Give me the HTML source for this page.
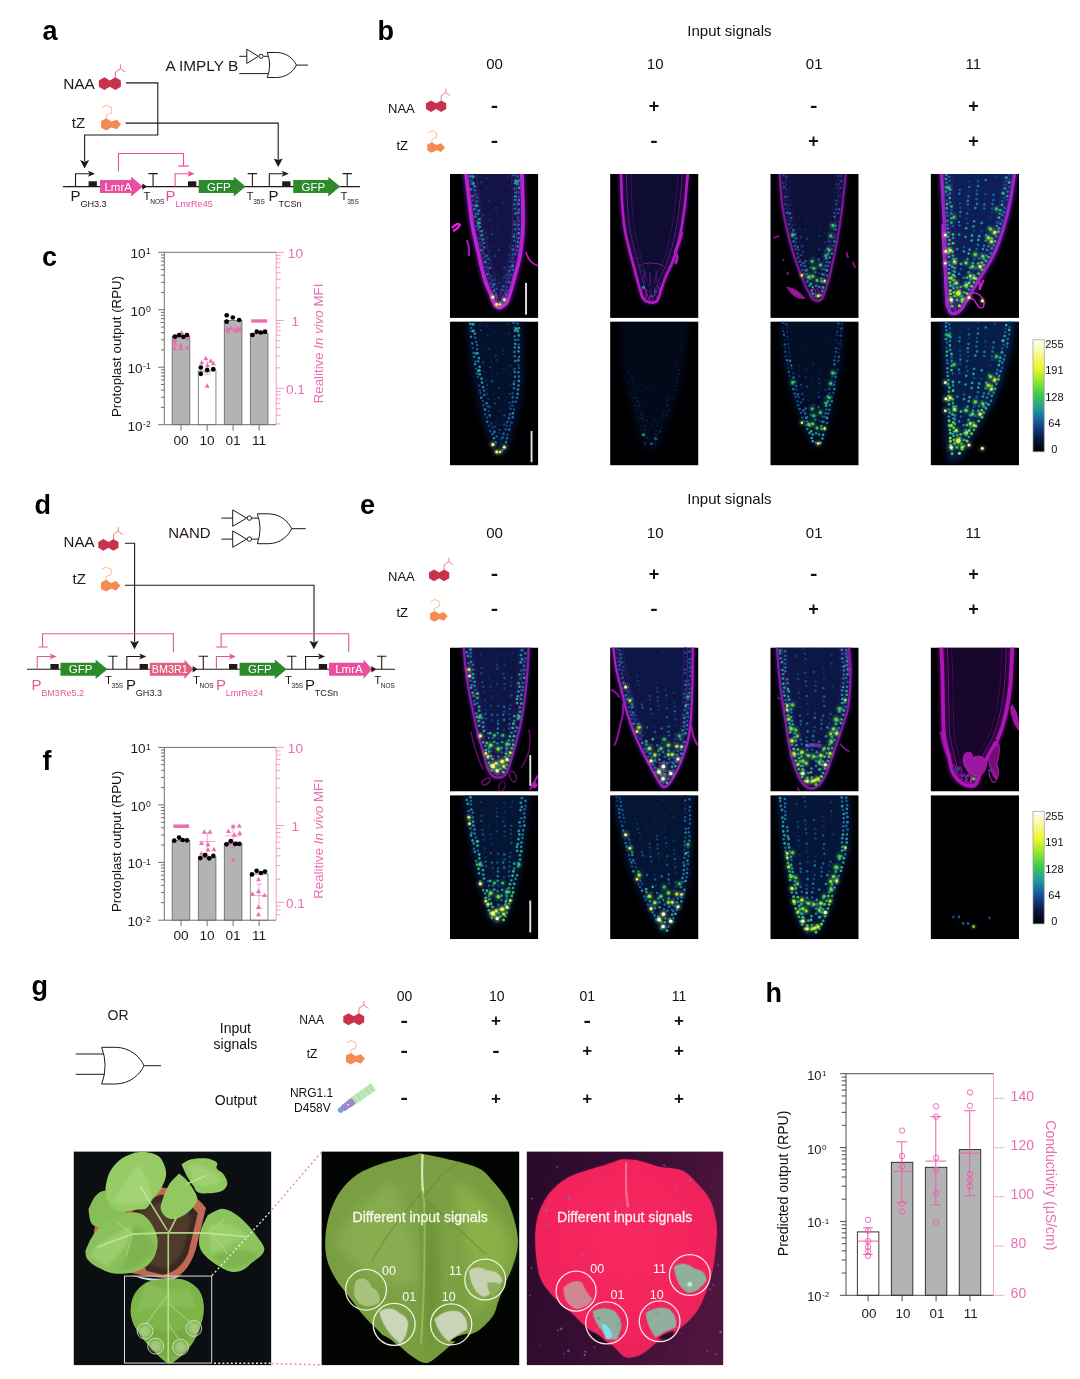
<!DOCTYPE html>
<html lang="en"><head><meta charset="utf-8"><title>Figure</title>
<style>
html,body{margin:0;padding:0;background:#fff;}
body{width:1080px;height:1379px;overflow:hidden;}
svg{display:block;font-family:"Liberation Sans",sans-serif;}
.pl{font-weight:bold;font-size:27px;fill:#000;}
</style></head><body>
<svg width="1080" height="1379" viewBox="0 0 1080 1379">
<g id="panel-a">
<text x="42.6" y="40" class="pl">a</text>
<text x="63.2" y="89.3" font-size="15.4" fill="#231815" text-anchor="start" font-weight="normal" >NAA</text>
<path d="M98.85 80.50L104.35 77.30L109.85 80.50L115.35 77.30L120.85 80.50L120.85 86.70L115.35 89.90L109.85 86.70L104.35 89.90L98.85 86.70Z" fill="#c8324b"/><path d="M115.35 77.60v-5.60l5.10 -3.30v-4.30m0 4.30l4.90 3.50" fill="none" stroke="#d8627a" stroke-width="0.85"/>
<text x="71.8" y="127.6" font-size="15" fill="#231815" text-anchor="start" font-weight="normal" >tZ</text>
<path d="M101.10 121.08L106.30 118.30L111.40 121.57L116.70 119.63L121.10 124.23L116.70 129.31L111.40 127.50L106.30 130.40L101.10 127.74Z" fill="#f58a52"/><path d="M106.30 118.60v-3.50l5.30 -2.10v-5.40l-5.10 -2.40l-4.50 2.40" fill="none" stroke="#f7a97c" stroke-width="0.85"/>
<text x="165.4" y="71.2" font-size="15.35" fill="#231815" text-anchor="start" font-weight="normal" >A IMPLY B</text>
<path d="M239.2 56.3H246.8M263.6 56.3H268.5M239.2 73.6H269M296.4 65.1H308" fill="none" stroke="#231815" stroke-width="1.0" />
<path d="M246.8 49.199999999999996L258.4 56.3L246.8 63.4Z" fill="#fff" stroke="#231815" stroke-width="1.0"/><circle cx="261.1" cy="56.3" r="2.1" fill="#fff" stroke="#231815" stroke-width="1.0"/>
<path d="M267.3 52.5H276.612C287.08799999999997 52.5 294.072 59.5 296.4 65.0C294.072 70.5 287.08799999999997 77.5 276.612 77.5H267.3Q271.956 65.0 267.3 52.5Z" fill="#fff" stroke="#231815" stroke-width="1.0"/>
<path d="M126 82.9H157.8V135H84.6V161" fill="none" stroke="#231815" stroke-width="1.1" />
<path d="M80.1 160.1L84.6 168.5L89.1 160.1L84.6 161.7Z" fill="#231815"/>
<path d="M125.5 123.1H278.2V160" fill="none" stroke="#231815" stroke-width="1.1" />
<path d="M273.7 158.5L278.2 166.9L282.7 158.5L278.2 160.1Z" fill="#231815"/>
<path d="M62.9 186.6H360" fill="none" stroke="#231815" stroke-width="1.1" />
<path d="M75.5 186.6V173.79999999999998H89.5" fill="none" stroke="#231815" stroke-width="1.1"/><path d="M88.0 170.79999999999998L95.0 173.79999999999998L88.0 176.79999999999998L89.5 173.79999999999998Z" fill="#231815"/>
<rect x="88.6" y="181.29999999999998" width="8.3" height="5.3" fill="#231815"/>
<path d="M100 180.0H131.1V176.79999999999998L142.9 186.6L131.1 196.4V193.0H100Z" fill="#e8509f"/><text x="118.14999999999999" y="190.7" font-size="11.5" fill="#fff" text-anchor="middle">LmrA</text><path d="M142.3 183.4L147.1 186.6L142.3 189.79999999999998Z" fill="#231815"/>
<path d="M153.1 186.6V173.6M148.4 173.6H157.79999999999998" fill="none" stroke="#231815" stroke-width="1.1"/>
<path d="M118.5 171.6V153.5H183.5V166.1M178.3 166.1H188.8" fill="none" stroke="#e8509f" stroke-width="1.1" />
<path d="M175.1 186.6V173.79999999999998H189.1" fill="none" stroke="#e8509f" stroke-width="1.1"/><path d="M187.6 170.79999999999998L194.6 173.79999999999998L187.6 176.79999999999998L189.1 173.79999999999998Z" fill="#e8509f"/>
<rect x="188" y="181.29999999999998" width="8.3" height="5.3" fill="#231815"/>
<path d="M198.7 180.0H233.79999999999998V176.79999999999998L245.6 186.6L233.79999999999998 196.4V193.0H198.7Z" fill="#2d8a2b"/><text x="218.85" y="190.7" font-size="11.5" fill="#fff" text-anchor="middle">GFP</text>
<path d="M252.4 186.6V173.6M247.70000000000002 173.6H257.1" fill="none" stroke="#231815" stroke-width="1.1"/>
<path d="M269.3 186.6V173.79999999999998H283.3" fill="none" stroke="#231815" stroke-width="1.1"/><path d="M281.8 170.79999999999998L288.8 173.79999999999998L281.8 176.79999999999998L283.3 173.79999999999998Z" fill="#231815"/>
<rect x="282.2" y="181.29999999999998" width="8.3" height="5.3" fill="#231815"/>
<path d="M293.2 180.0H328.3V176.79999999999998L340.1 186.6L328.3 196.4V193.0H293.2Z" fill="#2d8a2b"/><text x="313.35" y="190.7" font-size="11.5" fill="#fff" text-anchor="middle">GFP</text>
<path d="M347.2 186.6V173.6M342.5 173.6H351.9" fill="none" stroke="#231815" stroke-width="1.1"/>
<text x="70.6" y="200.8" font-size="15" fill="#231815">P</text><text x="80.39999999999999" y="206.5" font-size="9.1" fill="#231815">GH3.3</text>
<text x="143.6" y="200.1" font-size="11.4" fill="#231815">T</text><text x="150.2" y="204.2" font-size="6.5" fill="#231815">NOS</text>
<text x="165.6" y="200.8" font-size="15" fill="#e8509f">P</text><text x="175.4" y="206.5" font-size="9.1" fill="#e8509f">LmrRe45</text>
<text x="246.6" y="200.1" font-size="11.4" fill="#231815">T</text><text x="253.2" y="204.2" font-size="6.5" fill="#231815">35S</text>
<text x="268.6" y="200.8" font-size="15" fill="#231815">P</text><text x="278.40000000000003" y="206.5" font-size="9.1" fill="#231815">TCSn</text>
<text x="340.6" y="200.1" font-size="11.4" fill="#231815">T</text><text x="347.2" y="204.2" font-size="6.5" fill="#231815">35S</text>
</g>
<g id="panel-d">
<text x="34.4" y="514" class="pl">d</text>
<text x="63.6" y="546.8" font-size="15" fill="#231815" text-anchor="start" font-weight="normal" >NAA</text>
<path d="M98.30 542.05L103.36 539.10L108.42 542.05L113.48 539.10L118.54 542.05L118.54 547.75L113.48 550.70L108.42 547.75L103.36 550.70L98.30 547.75Z" fill="#c8324b"/><path d="M113.48 539.40v-5.15l4.69 -3.04v-3.96m0 3.96l4.51 3.22" fill="none" stroke="#d8627a" stroke-width="0.78"/>
<text x="72.6" y="584.2" font-size="15" fill="#231815" text-anchor="start" font-weight="normal" >tZ</text>
<path d="M101.00 582.43L106.04 579.73L110.99 582.90L116.13 581.02L120.40 585.48L116.13 590.41L110.99 588.65L106.04 591.47L101.00 588.89Z" fill="#f58a52"/><path d="M106.04 580.03v-3.40l5.14 -2.04v-5.24l-4.95 -2.33l-4.37 2.33" fill="none" stroke="#f7a97c" stroke-width="0.82"/>
<text x="168.2" y="537.6" font-size="15" fill="#231815" text-anchor="start" font-weight="normal" >NAND</text>
<path d="M221.3 518.1H232.7M251.8 518.1H259M221.3 539.1H232.7M251.8 539.1H259M291.6 528.7H305.7" fill="none" stroke="#231815" stroke-width="1.0" />
<path d="M232.7 509.90000000000003L246.6 518.1L232.7 526.3000000000001Z" fill="#fff" stroke="#231815" stroke-width="1.0"/><circle cx="249.39999999999998" cy="518.1" r="2.2" fill="#fff" stroke="#231815" stroke-width="1.0"/>
<path d="M232.7 530.9L246.6 539.1L232.7 547.3000000000001Z" fill="#fff" stroke="#231815" stroke-width="1.0"/><circle cx="249.39999999999998" cy="539.1" r="2.2" fill="#fff" stroke="#231815" stroke-width="1.0"/>
<path d="M257.3 513.8H268.276C280.624 513.8 288.856 522.172 291.6 528.75C288.856 535.328 280.624 543.7 268.276 543.7H257.3Q262.788 528.75 257.3 513.8Z" fill="#fff" stroke="#231815" stroke-width="1.0"/>
<path d="M125 543.3H134.6V642" fill="none" stroke="#231815" stroke-width="1.1" />
<path d="M130.0 640.8L134.5 649.1999999999999L139.0 640.8L134.5 642.4Z" fill="#231815"/>
<path d="M125 585.2H314V642" fill="none" stroke="#231815" stroke-width="1.1" />
<path d="M309.4 640.8L313.9 649.1999999999999L318.4 640.8L313.9 642.4Z" fill="#231815"/>
<path d="M27 669.3H395" fill="none" stroke="#231815" stroke-width="1.1" />
<path d="M38.5 647H47.8M42.5 647V633.8H173.4V652.2" fill="none" stroke="#e2607f" stroke-width="1.1" />
<path d="M37.2 669.3V656.5H51.2" fill="none" stroke="#e2607f" stroke-width="1.1"/><path d="M49.7 653.5L56.7 656.5L49.7 659.5L51.2 656.5Z" fill="#e2607f"/>
<rect x="50.4" y="664.0" width="8.3" height="5.3" fill="#231815"/>
<path d="M60.5 662.6999999999999H95.60000000000001V659.5L107.4 669.3L95.60000000000001 679.0999999999999V675.6999999999999H60.5Z" fill="#2d8a2b"/><text x="80.65" y="673.4" font-size="11.5" fill="#fff" text-anchor="middle">GFP</text>
<path d="M112.9 669.3V656.3M108.2 656.3H117.60000000000001" fill="none" stroke="#231815" stroke-width="1.1"/>
<path d="M126.8 669.3V656.5H140.8" fill="none" stroke="#231815" stroke-width="1.1"/><path d="M139.3 653.5L146.3 656.5L139.3 659.5L140.8 656.5Z" fill="#231815"/>
<rect x="139.6" y="664.0" width="8.3" height="5.3" fill="#231815"/>
<path d="M149.8 662.6999999999999H184.5V659.5L193.3 669.3L184.5 679.0999999999999V675.6999999999999H149.8Z" fill="#e2607f"/><text x="169.75" y="673.4" font-size="10.8" fill="#fff" text-anchor="middle">BM3R1</text><path d="M192.70000000000002 666.0999999999999L197.5 669.3L192.70000000000002 672.5Z" fill="#231815"/>
<path d="M203.3 669.3V656.3M198.60000000000002 656.3H208.0" fill="none" stroke="#231815" stroke-width="1.1"/>
<path d="M216.2 647H227.3M221.1 647V633.8H348.7V652.2" fill="none" stroke="#e8509f" stroke-width="1.1" />
<path d="M216.4 669.3V656.5H230.4" fill="none" stroke="#e8509f" stroke-width="1.1"/><path d="M228.9 653.5L235.9 656.5L228.9 659.5L230.4 656.5Z" fill="#e8509f"/>
<rect x="229" y="664.0" width="8.3" height="5.3" fill="#231815"/>
<path d="M239.6 662.6999999999999H274.8V659.5L286.6 669.3L274.8 679.0999999999999V675.6999999999999H239.6Z" fill="#2d8a2b"/><text x="259.8" y="673.4" font-size="11.5" fill="#fff" text-anchor="middle">GFP</text>
<path d="M291.8 669.3V656.3M287.1 656.3H296.5" fill="none" stroke="#231815" stroke-width="1.1"/>
<path d="M305.6 669.3V656.5H319.6" fill="none" stroke="#231815" stroke-width="1.1"/><path d="M318.1 653.5L325.1 656.5L318.1 659.5L319.6 656.5Z" fill="#231815"/>
<rect x="318.8" y="664.0" width="8.3" height="5.3" fill="#231815"/>
<path d="M329 662.6999999999999H363.6V659.5L372 669.3L363.6 679.0999999999999V675.6999999999999H329Z" fill="#e8509f"/><text x="348.90000000000003" y="673.4" font-size="11.5" fill="#fff" text-anchor="middle">LmrA</text><path d="M371.4 666.0999999999999L376.2 669.3L371.4 672.5Z" fill="#231815"/>
<path d="M381.7 669.3V656.3M377.0 656.3H386.4" fill="none" stroke="#231815" stroke-width="1.1"/>
<text x="31.4" y="689.9" font-size="15" fill="#e2607f">P</text><text x="41.2" y="695.6" font-size="9.1" fill="#e2607f">BM3Re5.2</text>
<text x="105.0" y="684.0" font-size="11.4" fill="#231815">T</text><text x="111.60000000000001" y="688.1" font-size="6.5" fill="#231815">35S</text>
<text x="126" y="689.9" font-size="15" fill="#231815">P</text><text x="135.8" y="695.6" font-size="9.1" fill="#231815">GH3.3</text>
<text x="193.0" y="684.0" font-size="11.4" fill="#231815">T</text><text x="199.6" y="688.1" font-size="6.5" fill="#231815">NOS</text>
<text x="216" y="689.9" font-size="15" fill="#e8509f">P</text><text x="225.8" y="695.6" font-size="9.1" fill="#e8509f">LmrRe24</text>
<text x="285.0" y="684.0" font-size="11.4" fill="#231815">T</text><text x="291.59999999999997" y="688.1" font-size="6.5" fill="#231815">35S</text>
<text x="305" y="689.9" font-size="15" fill="#231815">P</text><text x="314.8" y="695.6" font-size="9.1" fill="#231815">TCSn</text>
<text x="374.20000000000005" y="684.0" font-size="11.4" fill="#231815">T</text><text x="380.8" y="688.1" font-size="6.5" fill="#231815">NOS</text>
</g>
<g id="panel-c">
<text x="42" y="265.5" class="pl">c</text>
<rect x="172.15" y="336.20" width="17.7" height="88.50" fill="#b3b3b3" stroke="#555" stroke-width="0.7"/><rect x="198.25" y="371.00" width="17.7" height="53.70" fill="#fff" stroke="#555" stroke-width="0.7"/><rect x="224.25" y="320.40" width="17.7" height="104.30" fill="#b3b3b3" stroke="#555" stroke-width="0.7"/><rect x="250.25" y="333.30" width="17.7" height="91.40" fill="#b3b3b3" stroke="#555" stroke-width="0.7"/><path d="M158.10000000000002 252.3H276.2" fill="none" stroke="#707070" stroke-width="1.0" /><path d="M164.3 252.3V424.7" fill="none" stroke="#707070" stroke-width="1.0" /><path d="M158.10000000000002 424.7H276.2" fill="none" stroke="#707070" stroke-width="1.0" /><path d="M160.9 292.46H164.3M160.9 282.34H164.3M160.9 275.16H164.3M160.9 269.59H164.3M160.9 265.05H164.3M160.9 261.20H164.3M160.9 257.87H164.3M160.9 254.93H164.3M158.10000000000002 309.75H164.3M160.9 349.91H164.3M160.9 339.79H164.3M160.9 332.61H164.3M160.9 327.04H164.3M160.9 322.50H164.3M160.9 318.65H164.3M160.9 315.32H164.3M160.9 312.38H164.3M158.10000000000002 367.20H164.3M160.9 407.36H164.3M160.9 397.24H164.3M160.9 390.06H164.3M160.9 384.49H164.3M160.9 379.95H164.3M160.9 376.10H164.3M160.9 372.77H164.3M160.9 369.83H164.3" fill="none" stroke="#707070" stroke-width="1.0" /><text x="150.70000000000002" y="258.3" font-size="13.6" fill="#1a1a1a" text-anchor="end">10<tspan dy="-3.9" dx="0.4" font-size="8.6">1</tspan></text><text x="150.70000000000002" y="315.75" font-size="13.6" fill="#1a1a1a" text-anchor="end">10<tspan dy="-3.9" dx="0.4" font-size="8.6">0</tspan></text><text x="150.70000000000002" y="373.20000000000005" font-size="13.6" fill="#1a1a1a" text-anchor="end">10<tspan dy="-3.9" dx="0.4" font-size="8.6">-1</tspan></text><text x="150.70000000000002" y="430.65000000000003" font-size="13.6" fill="#1a1a1a" text-anchor="end">10<tspan dy="-3.9" dx="0.4" font-size="8.6">-2</tspan></text><path d="M181 424.7V430.7M207.1 424.7V430.7M233.1 424.7V430.7M259.1 424.7V430.7" fill="none" stroke="#707070" stroke-width="1.0" /><text x="181" y="444.7" font-size="13.6" fill="#1a1a1a" text-anchor="middle" font-weight="normal" >00</text><text x="207.1" y="444.7" font-size="13.6" fill="#1a1a1a" text-anchor="middle" font-weight="normal" >10</text><text x="233.1" y="444.7" font-size="13.6" fill="#1a1a1a" text-anchor="middle" font-weight="normal" >01</text><text x="259.1" y="444.7" font-size="13.6" fill="#1a1a1a" text-anchor="middle" font-weight="normal" >11</text><path d="M276.2 252.3V424.7" fill="none" stroke="#f08cc0" stroke-width="0.85" /><text x="295.4" y="257.7" font-size="13.6" fill="#ea6fb0" text-anchor="middle" font-weight="normal" >10</text><text x="295.4" y="325.9" font-size="13.6" fill="#ea6fb0" text-anchor="middle" font-weight="normal" >1</text><text x="295.4" y="393.7" font-size="13.6" fill="#ea6fb0" text-anchor="middle" font-weight="normal" >0.1</text><path d="M276.2 252.3H284.2M276.2 320.5H284.2M276.2 388.3H284.2M276.2 299.83H280.5M276.2 287.86H280.5M276.2 279.36H280.5M276.2 272.77H280.5M276.2 267.39H280.5M276.2 262.83H280.5M276.2 258.89H280.5M276.2 255.41H280.5M276.2 367.83H280.5M276.2 355.86H280.5M276.2 347.36H280.5M276.2 340.77H280.5M276.2 335.39H280.5M276.2 330.83H280.5M276.2 326.89H280.5M276.2 323.41H280.5M276.2 423.86H280.5M276.2 415.36H280.5M276.2 408.77H280.5M276.2 403.39H280.5M276.2 398.83H280.5M276.2 394.89H280.5M276.2 391.41H280.5" fill="none" stroke="#f08cc0" stroke-width="0.85" /><text transform="translate(120.6 346.5) rotate(-90)" font-size="13.3" fill="#111" text-anchor="middle">Protoplast output (RPU)</text><text transform="translate(322.8 343.5) rotate(-90)" font-size="13.3" fill="#ea6fb0" text-anchor="middle">Realitive <tspan font-style="italic">In vivo</tspan> MFI</text>
<path d="M172.5 345.3L175.0 340.8L177.5 345.3Z" fill="#ea6fb0"/><path d="M178.3 347.3L180.8 342.8L183.3 347.3Z" fill="#ea6fb0"/><path d="M172.5 350.3L175.0 345.8L177.5 350.3Z" fill="#ea6fb0"/><path d="M178.3 350.3L180.8 345.8L183.3 350.3Z" fill="#ea6fb0"/><path d="M185.0 349.5L187.5 345.0L190.0 349.5Z" fill="#ea6fb0"/><path d="M179.2 334.5L181.7 330.0L184.2 334.5Z" fill="#ea6fb0"/><path d="M185.0 340.3L187.5 335.8L190.0 340.3Z" fill="#ea6fb0"/><path d="M172.5 342.0L175.0 337.5L177.5 342.0Z" fill="#ea6fb0"/>
<path d="M225.0 331.2L227.5 326.7L230.0 331.2Z" fill="#ea6fb0"/><path d="M228.3 330.0L230.8 325.5L233.3 330.0Z" fill="#ea6fb0"/><path d="M231.7 332.0L234.2 327.5L236.7 332.0Z" fill="#ea6fb0"/><path d="M235.0 330.3L237.5 325.8L240.0 330.3Z" fill="#ea6fb0"/><path d="M237.5 331.2L240.0 326.7L242.5 331.2Z" fill="#ea6fb0"/><path d="M225.8 332.8L228.3 328.3L230.8 332.8Z" fill="#ea6fb0"/><path d="M234.2 332.8L236.7 328.3L239.2 332.8Z" fill="#ea6fb0"/>
<rect x="251.2" y="319.3" width="16" height="3.4" fill="#ea6fb0"/>
<path d="M203.3 360.3L205.8 355.8L208.3 360.3Z" fill="#ea6fb0"/><path d="M199.2 364.5L201.7 360.0L204.2 364.5Z" fill="#ea6fb0"/><path d="M205.0 367.3L207.5 362.8L210.0 367.3Z" fill="#ea6fb0"/><path d="M210.8 365.3L213.3 360.8L215.8 365.3Z" fill="#ea6fb0"/><path d="M204.7 387.8L207.2 383.3L209.7 387.8Z" fill="#ea6fb0"/><path d="M208.3 362.8L210.8 358.3L213.3 362.8Z" fill="#ea6fb0"/>
<path d="M204 372.5H210.5M204 374.6H210.5M207.2 361V374.6" fill="none" stroke="#ea6fb0" stroke-width="0.6" />
<circle cx="175.0" cy="336.7" r="2.35" fill="#000"/><circle cx="179.2" cy="335.2" r="2.35" fill="#000"/><circle cx="183.3" cy="336.8" r="2.35" fill="#000"/><circle cx="187.0" cy="335.0" r="2.35" fill="#000"/>
<circle cx="200.8" cy="367.5" r="2.35" fill="#000"/><circle cx="200.8" cy="373.8" r="2.35" fill="#000"/><circle cx="207.2" cy="370.0" r="2.35" fill="#000"/><circle cx="213.3" cy="369.2" r="2.35" fill="#000"/>
<circle cx="226.7" cy="315.3" r="2.35" fill="#000"/><circle cx="226.7" cy="321.7" r="2.35" fill="#000"/><circle cx="232.8" cy="317.5" r="2.35" fill="#000"/><circle cx="239.2" cy="320.0" r="2.35" fill="#000"/>
<circle cx="252.5" cy="335.0" r="2.35" fill="#000"/><circle cx="256.7" cy="331.7" r="2.35" fill="#000"/><circle cx="260.8" cy="332.5" r="2.35" fill="#000"/><circle cx="265.0" cy="331.7" r="2.35" fill="#000"/>
</g>
<g id="panel-f">
<text x="42.6" y="769.5" class="pl">f</text>
<rect x="172.15" y="840.70" width="17.7" height="79.50" fill="#b3b3b3" stroke="#555" stroke-width="0.7"/><rect x="198.25" y="857.10" width="17.7" height="63.10" fill="#b3b3b3" stroke="#555" stroke-width="0.7"/><rect x="224.25" y="843.60" width="17.7" height="76.60" fill="#b3b3b3" stroke="#555" stroke-width="0.7"/><rect x="250.25" y="874.00" width="17.7" height="46.20" fill="#fff" stroke="#555" stroke-width="0.7"/><path d="M158.10000000000002 747.4H276.2" fill="none" stroke="#707070" stroke-width="1.0" /><path d="M164.3 747.4V920.2" fill="none" stroke="#707070" stroke-width="1.0" /><path d="M158.10000000000002 920.2H276.2" fill="none" stroke="#707070" stroke-width="1.0" /><path d="M160.9 787.59H164.3M160.9 777.47H164.3M160.9 770.28H164.3M160.9 764.71H164.3M160.9 760.16H164.3M160.9 756.31H164.3M160.9 752.97H164.3M160.9 750.03H164.3M158.10000000000002 804.90H164.3M160.9 845.09H164.3M160.9 834.97H164.3M160.9 827.78H164.3M160.9 822.21H164.3M160.9 817.66H164.3M160.9 813.81H164.3M160.9 810.47H164.3M160.9 807.53H164.3M158.10000000000002 862.40H164.3M160.9 902.59H164.3M160.9 892.47H164.3M160.9 885.28H164.3M160.9 879.71H164.3M160.9 875.16H164.3M160.9 871.31H164.3M160.9 867.97H164.3M160.9 865.03H164.3" fill="none" stroke="#707070" stroke-width="1.0" /><text x="150.70000000000002" y="753.4" font-size="13.6" fill="#1a1a1a" text-anchor="end">10<tspan dy="-3.9" dx="0.4" font-size="8.6">1</tspan></text><text x="150.70000000000002" y="810.9" font-size="13.6" fill="#1a1a1a" text-anchor="end">10<tspan dy="-3.9" dx="0.4" font-size="8.6">0</tspan></text><text x="150.70000000000002" y="868.4" font-size="13.6" fill="#1a1a1a" text-anchor="end">10<tspan dy="-3.9" dx="0.4" font-size="8.6">-1</tspan></text><text x="150.70000000000002" y="925.9" font-size="13.6" fill="#1a1a1a" text-anchor="end">10<tspan dy="-3.9" dx="0.4" font-size="8.6">-2</tspan></text><path d="M181 920.2V926.2M207.1 920.2V926.2M233.1 920.2V926.2M259.1 920.2V926.2" fill="none" stroke="#707070" stroke-width="1.0" /><text x="181" y="940.2" font-size="13.6" fill="#1a1a1a" text-anchor="middle" font-weight="normal" >00</text><text x="207.1" y="940.2" font-size="13.6" fill="#1a1a1a" text-anchor="middle" font-weight="normal" >10</text><text x="233.1" y="940.2" font-size="13.6" fill="#1a1a1a" text-anchor="middle" font-weight="normal" >01</text><text x="259.1" y="940.2" font-size="13.6" fill="#1a1a1a" text-anchor="middle" font-weight="normal" >11</text><path d="M276.2 747.4V920.2" fill="none" stroke="#f08cc0" stroke-width="0.85" /><text x="295.4" y="752.8" font-size="13.6" fill="#ea6fb0" text-anchor="middle" font-weight="normal" >10</text><text x="295.4" y="831.0" font-size="13.6" fill="#ea6fb0" text-anchor="middle" font-weight="normal" >1</text><text x="295.4" y="907.8" font-size="13.6" fill="#ea6fb0" text-anchor="middle" font-weight="normal" >0.1</text><path d="M276.2 747.4H284.2M276.2 825.6H284.2M276.2 902.4H284.2M276.2 801.64H280.5M276.2 787.98H280.5M276.2 778.28H280.5M276.2 770.76H280.5M276.2 764.62H280.5M276.2 759.42H280.5M276.2 754.92H280.5M276.2 750.95H280.5M276.2 879.24H280.5M276.2 865.58H280.5M276.2 855.88H280.5M276.2 848.36H280.5M276.2 842.22H280.5M276.2 837.02H280.5M276.2 832.52H280.5M276.2 828.55H280.5M276.2 914.62H280.5M276.2 910.12H280.5M276.2 906.15H280.5" fill="none" stroke="#f08cc0" stroke-width="0.85" /><text transform="translate(120.6 841.5) rotate(-90)" font-size="13.3" fill="#111" text-anchor="middle">Protoplast output (RPU)</text><text transform="translate(322.8 839) rotate(-90)" font-size="13.3" fill="#ea6fb0" text-anchor="middle">Realitive <tspan font-style="italic">In vivo</tspan> MFI</text>
<rect x="173.5" y="824.4" width="15.6" height="3.6" fill="#ea6fb0"/>
<path d="M207.2 833.0332209918151V855.1805488685604M204.2 833.0332209918151H210.2M204.2 855.1805488685604H210.2M199.2 841.4588348579682H215.2" fill="none" stroke="#ea6fb0" stroke-width="0.6" />
<path d="M233.1 825.570534424651V847.2363986519018M230.1 825.570534424651H236.1M230.1 847.2363986519018H236.1M225.1 835.9220028887819H241.1" fill="none" stroke="#ea6fb0" stroke-width="0.6" />
<path d="M259.1 884.0683678382283V908.1415503129514M256.1 884.0683678382283H262.1M256.1 908.1415503129514H262.1M251.10000000000002 895.6234954260954H267.1" fill="none" stroke="#ea6fb0" stroke-width="0.6" />
<path d="M201.8 833.8L204.3 829.3L206.8 833.8Z" fill="#ea6fb0"/><path d="M207.4 833.8L209.9 829.3L212.4 833.8Z" fill="#ea6fb0"/><path d="M199.0 845.1L201.5 840.6L204.0 845.1Z" fill="#ea6fb0"/><path d="M205.5 846.3L208.0 841.8L210.5 846.3Z" fill="#ea6fb0"/><path d="M211.5 851.2L214.0 846.7L216.5 851.2Z" fill="#ea6fb0"/><path d="M199.0 855.5L201.5 851.0L204.0 855.5Z" fill="#ea6fb0"/><path d="M205.5 851.6L208.0 847.1L210.5 851.6Z" fill="#ea6fb0"/>
<path d="M230.7 828.3L233.2 823.8L235.7 828.3Z" fill="#ea6fb0"/><path d="M236.8 827.8L239.3 823.3L241.8 827.8Z" fill="#ea6fb0"/><path d="M225.9 833.1L228.4 828.6L230.9 833.1Z" fill="#ea6fb0"/><path d="M231.9 836.7L234.4 832.2L236.9 836.7Z" fill="#ea6fb0"/><path d="M237.2 835.0L239.7 830.5L242.2 835.0Z" fill="#ea6fb0"/><path d="M230.7 861.5L233.2 857.0L235.7 861.5Z" fill="#ea6fb0"/><path d="M225.9 845.1L228.4 840.6L230.9 845.1Z" fill="#ea6fb0"/><path d="M234.3 845.1L236.8 840.6L239.3 845.1Z" fill="#ea6fb0"/>
<path d="M256.0 881.3L258.5 876.8L261.0 881.3Z" fill="#ea6fb0"/><path d="M250.0 895.7L252.5 891.2L255.0 895.7Z" fill="#ea6fb0"/><path d="M256.0 893.3L258.5 888.8L261.0 893.3Z" fill="#ea6fb0"/><path d="M262.0 896.9L264.5 892.4L267.0 896.9Z" fill="#ea6fb0"/><path d="M256.0 908.9L258.5 904.4L261.0 908.9Z" fill="#ea6fb0"/><path d="M256.0 916.2L258.5 911.7L261.0 916.2Z" fill="#ea6fb0"/>
<circle cx="174.3" cy="840.7" r="2.35" fill="#000"/><circle cx="179.1" cy="837.6" r="2.35" fill="#000"/><circle cx="182.7" cy="840.0" r="2.35" fill="#000"/><circle cx="187.0" cy="840.3" r="2.35" fill="#000"/>
<circle cx="200.3" cy="858.1" r="2.35" fill="#000"/><circle cx="205.1" cy="855.2" r="2.35" fill="#000"/><circle cx="209.2" cy="858.3" r="2.35" fill="#000"/><circle cx="213.3" cy="855.9" r="2.35" fill="#000"/>
<circle cx="226.5" cy="844.3" r="2.35" fill="#000"/><circle cx="230.8" cy="841.2" r="2.35" fill="#000"/><circle cx="235.2" cy="843.9" r="2.35" fill="#000"/><circle cx="239.3" cy="843.9" r="2.35" fill="#000"/>
<circle cx="252.0" cy="874.4" r="2.35" fill="#000"/><circle cx="256.6" cy="870.8" r="2.35" fill="#000"/><circle cx="260.9" cy="873.0" r="2.35" fill="#000"/><circle cx="265.0" cy="871.6" r="2.35" fill="#000"/>
</g>
<g id="panel-h">
<text x="765.6" y="1002" class="pl">h</text>
<rect x="857.35" y="1231.90" width="21.5" height="63.40" fill="#fff" stroke="#222" stroke-width="0.9"/><rect x="891.35" y="1162.30" width="21.5" height="133.00" fill="#b3b3b3" stroke="#222" stroke-width="0.9"/><rect x="925.35" y="1167.30" width="21.5" height="128.00" fill="#b3b3b3" stroke="#222" stroke-width="0.9"/><rect x="959.25" y="1149.60" width="21.5" height="145.70" fill="#b3b3b3" stroke="#222" stroke-width="0.9"/><path d="M839.8 1073.7H993.5" fill="none" stroke="#3a3a3a" stroke-width="0.9" /><path d="M846 1073.7V1295.3" fill="none" stroke="#3a3a3a" stroke-width="0.9" /><path d="M839.8 1295.3H993.5" fill="none" stroke="#3a3a3a" stroke-width="0.9" /><path d="M841.6 1125.33H846M841.6 1112.33H846M841.6 1103.10H846M841.6 1095.94H846M841.6 1090.09H846M841.6 1085.14H846M841.6 1080.86H846M841.6 1077.08H846M839.8 1147.57H846M841.6 1199.20H846M841.6 1186.20H846M841.6 1176.97H846M841.6 1169.81H846M841.6 1163.96H846M841.6 1159.01H846M841.6 1154.73H846M841.6 1150.95H846M839.8 1221.44H846M841.6 1273.07H846M841.6 1260.07H846M841.6 1250.84H846M841.6 1243.68H846M841.6 1237.83H846M841.6 1232.88H846M841.6 1228.60H846M841.6 1224.82H846" fill="none" stroke="#3a3a3a" stroke-width="0.9" /><text x="807.2" y="1079.7" font-size="12.9" fill="#1a1a1a" text-anchor="start">10<tspan dy="-3.9" dx="0.4" font-size="8.1">1</tspan></text><text x="807.2" y="1153.5700000000002" font-size="12.9" fill="#1a1a1a" text-anchor="start">10<tspan dy="-3.9" dx="0.4" font-size="8.1">0</tspan></text><text x="807.2" y="1227.44" font-size="12.9" fill="#1a1a1a" text-anchor="start">10<tspan dy="-3.9" dx="0.4" font-size="8.1">-1</tspan></text><text x="807.2" y="1301.31" font-size="12.9" fill="#1a1a1a" text-anchor="start">10<tspan dy="-3.9" dx="0.4" font-size="8.1">-2</tspan></text><path d="M868.1 1295.3V1301.3M902.1 1295.3V1301.3M936.1 1295.3V1301.3M970 1295.3V1301.3" fill="none" stroke="#3a3a3a" stroke-width="0.9" /><text x="868.9" y="1317.6" font-size="13.4" fill="#1a1a1a" text-anchor="middle" font-weight="normal" >00</text><text x="902.9" y="1317.6" font-size="13.4" fill="#1a1a1a" text-anchor="middle" font-weight="normal" >10</text><text x="936.9" y="1317.6" font-size="13.4" fill="#1a1a1a" text-anchor="middle" font-weight="normal" >01</text><text x="970.8" y="1317.6" font-size="13.4" fill="#1a1a1a" text-anchor="middle" font-weight="normal" >11</text><path d="M993.5 1073.7V1295.3" fill="none" stroke="#f08cc0" stroke-width="0.765" /><text x="1010.6" y="1297.5" font-size="14" fill="#ea6fb0" text-anchor="start" font-weight="normal" >60</text><text x="1010.6" y="1248.3" font-size="14" fill="#ea6fb0" text-anchor="start" font-weight="normal" >80</text><text x="1010.6" y="1198.9" font-size="14" fill="#ea6fb0" text-anchor="start" font-weight="normal" >100</text><text x="1010.6" y="1150.0" font-size="14" fill="#ea6fb0" text-anchor="start" font-weight="normal" >120</text><text x="1010.6" y="1100.5" font-size="14" fill="#ea6fb0" text-anchor="start" font-weight="normal" >140</text><path d="M993.5 1295.3H1004.5M993.5 1246.1H1004.5M993.5 1196.7H1004.5M993.5 1147.8H1004.5M993.5 1098.3H1004.5" fill="none" stroke="#f08cc0" stroke-width="0.765" /><text transform="translate(788.4 1183.4) rotate(-90)" font-size="14.1" fill="#111" text-anchor="middle">Predicted output (RPU)</text><text transform="translate(1045.6 1185.4) rotate(90)" font-size="14.1" fill="#ea6fb0" text-anchor="middle">Conductivity (µS/cm)</text>
<path d="M867.8000000000001 1227.7777777777778V1254.4444444444443M862.8000000000001 1227.7777777777778H872.8000000000001M862.8000000000001 1254.4444444444443H872.8000000000001M857.3000000000001 1241.111111111111H878.3000000000001" fill="none" stroke="#ec5fae" stroke-width="1" />
<path d="M901.8000000000001 1141.8518518518517V1202.5925925925926M896.3000000000001 1141.8518518518517H907.3000000000001M896.3000000000001 1202.5925925925926H907.3000000000001M891.3000000000001 1171.4814814814815H912.3000000000001" fill="none" stroke="#ec5fae" stroke-width="1" />
<path d="M935.8000000000001 1116.6666666666667V1204.962962962963M930.3000000000001 1116.6666666666667H941.3000000000001M930.3000000000001 1204.962962962963H941.3000000000001M925.3000000000001 1161.111111111111H946.3000000000001" fill="none" stroke="#ec5fae" stroke-width="1" />
<path d="M969.7 1110.7407407407406V1195.7777777777778M964.2 1110.7407407407406H975.2M964.2 1195.7777777777778H975.2M958.9000000000001 1153.111111111111H980.5" fill="none" stroke="#ec5fae" stroke-width="1" />
<circle cx="868.1" cy="1219.8" r="2.7" fill="none" stroke="#ec5fae" stroke-width="0.9"/><circle cx="868.1" cy="1230.7" r="2.7" fill="none" stroke="#ec5fae" stroke-width="0.9"/><circle cx="868.1" cy="1241.1" r="2.7" fill="none" stroke="#ec5fae" stroke-width="0.9"/><circle cx="868.1" cy="1247.0" r="2.7" fill="none" stroke="#ec5fae" stroke-width="0.9"/><circle cx="868.1" cy="1251.5" r="2.7" fill="none" stroke="#ec5fae" stroke-width="0.9"/><circle cx="868.1" cy="1255.9" r="2.7" fill="none" stroke="#ec5fae" stroke-width="0.9"/>
<circle cx="902.1" cy="1130.6" r="2.7" fill="none" stroke="#ec5fae" stroke-width="0.9"/><circle cx="902.1" cy="1156.1" r="2.7" fill="none" stroke="#ec5fae" stroke-width="0.9"/><circle cx="902.1" cy="1166.4" r="2.7" fill="none" stroke="#ec5fae" stroke-width="0.9"/><circle cx="902.1" cy="1203.5" r="2.7" fill="none" stroke="#ec5fae" stroke-width="0.9"/><circle cx="902.1" cy="1211.5" r="2.7" fill="none" stroke="#ec5fae" stroke-width="0.9"/>
<circle cx="936.1" cy="1106.3" r="2.7" fill="none" stroke="#ec5fae" stroke-width="0.9"/><circle cx="936.1" cy="1116.7" r="2.7" fill="none" stroke="#ec5fae" stroke-width="0.9"/><circle cx="936.1" cy="1157.6" r="2.7" fill="none" stroke="#ec5fae" stroke-width="0.9"/><circle cx="936.1" cy="1170.0" r="2.7" fill="none" stroke="#ec5fae" stroke-width="0.9"/><circle cx="936.1" cy="1193.7" r="2.7" fill="none" stroke="#ec5fae" stroke-width="0.9"/><circle cx="936.1" cy="1221.9" r="2.7" fill="none" stroke="#ec5fae" stroke-width="0.9"/>
<circle cx="970.0" cy="1092.4" r="2.7" fill="none" stroke="#ec5fae" stroke-width="0.9"/><circle cx="970.0" cy="1105.7" r="2.7" fill="none" stroke="#ec5fae" stroke-width="0.9"/><circle cx="970.0" cy="1173.9" r="2.7" fill="none" stroke="#ec5fae" stroke-width="0.9"/><circle cx="970.0" cy="1179.8" r="2.7" fill="none" stroke="#ec5fae" stroke-width="0.9"/><circle cx="970.0" cy="1186.3" r="2.7" fill="none" stroke="#ec5fae" stroke-width="0.9"/>
</g>
<g id="panel-b-head">
<text x="377.4" y="40.2" class="pl">b</text><text x="729.4" y="35.8" font-size="15" fill="#111" text-anchor="middle" font-weight="normal" >Input signals</text><text x="494.6" y="69.4" font-size="15" fill="#111" text-anchor="middle" font-weight="normal" >00</text><text x="655.2" y="69.4" font-size="15" fill="#111" text-anchor="middle" font-weight="normal" >10</text><text x="814.2" y="69.4" font-size="15" fill="#111" text-anchor="middle" font-weight="normal" >01</text><text x="973.4" y="69.4" font-size="15" fill="#111" text-anchor="middle" font-weight="normal" >11</text><text x="388" y="113.0" font-size="13" fill="#111" text-anchor="start" font-weight="normal" >NAA</text><text x="396.4" y="149.8" font-size="13" fill="#111" text-anchor="start" font-weight="normal" >tZ</text><path d="M426.00 103.35L431.06 100.40L436.12 103.35L441.18 100.40L446.24 103.35L446.24 109.05L441.18 112.00L436.12 109.05L431.06 112.00L426.00 109.05Z" fill="#c8324b"/><path d="M441.18 100.70v-5.15l4.69 -3.04v-3.96m0 3.96l4.51 3.22" fill="none" stroke="#d8627a" stroke-width="0.78"/><path d="M427.30 144.61L431.90 142.15L436.42 145.04L441.11 143.32L445.00 147.39L441.11 151.89L436.42 150.28L431.90 152.85L427.30 150.50Z" fill="#f58a52"/><path d="M431.90 142.45v-3.10l4.69 -1.86v-4.78l-4.51 -2.12l-3.98 2.12" fill="none" stroke="#f7a97c" stroke-width="0.75"/><text x="490.80" y="111.69" font-size="19" font-weight="bold" fill="#111" textLength="7.4" lengthAdjust="spacingAndGlyphs">-</text><text x="490.80" y="146.89" font-size="19" font-weight="bold" fill="#111" textLength="7.4" lengthAdjust="spacingAndGlyphs">-</text><text x="654" y="111.77" font-size="18" font-weight="bold" fill="#111" text-anchor="middle">+</text><text x="650.30" y="146.89" font-size="19" font-weight="bold" fill="#111" textLength="7.4" lengthAdjust="spacingAndGlyphs">-</text><text x="809.90" y="111.69" font-size="19" font-weight="bold" fill="#111" textLength="7.4" lengthAdjust="spacingAndGlyphs">-</text><text x="813.6" y="146.97" font-size="18" font-weight="bold" fill="#111" text-anchor="middle">+</text><text x="973.4" y="111.77" font-size="18" font-weight="bold" fill="#111" text-anchor="middle">+</text><text x="973.4" y="146.97" font-size="18" font-weight="bold" fill="#111" text-anchor="middle">+</text>
</g>
<g id="panel-e-head">
<text x="360" y="514" class="pl">e</text><text x="729.4" y="504.2" font-size="15" fill="#111" text-anchor="middle" font-weight="normal" >Input signals</text><text x="494.6" y="537.8" font-size="15" fill="#111" text-anchor="middle" font-weight="normal" >00</text><text x="655.2" y="537.8" font-size="15" fill="#111" text-anchor="middle" font-weight="normal" >10</text><text x="814.2" y="537.8" font-size="15" fill="#111" text-anchor="middle" font-weight="normal" >01</text><text x="973.4" y="537.8" font-size="15" fill="#111" text-anchor="middle" font-weight="normal" >11</text><text x="388" y="581.4" font-size="13" fill="#111" text-anchor="start" font-weight="normal" >NAA</text><text x="396.4" y="617.0" font-size="13" fill="#111" text-anchor="start" font-weight="normal" >tZ</text><path d="M429.00 572.50L434.06 569.55L439.12 572.50L444.18 569.55L449.24 572.50L449.24 578.20L444.18 581.15L439.12 578.20L434.06 581.15L429.00 578.20Z" fill="#c8324b"/><path d="M444.18 569.85v-5.15l4.69 -3.04v-3.96m0 3.96l4.51 3.22" fill="none" stroke="#d8627a" stroke-width="0.78"/><path d="M430.00 613.41L434.60 610.95L439.12 613.84L443.81 612.12L447.70 616.19L443.81 620.69L439.12 619.08L434.60 621.65L430.00 619.30Z" fill="#f58a52"/><path d="M434.60 611.25v-3.10l4.69 -1.86v-4.78l-4.51 -2.12l-3.98 2.12" fill="none" stroke="#f7a97c" stroke-width="0.75"/><text x="490.80" y="580.29" font-size="19" font-weight="bold" fill="#111" textLength="7.4" lengthAdjust="spacingAndGlyphs">-</text><text x="490.80" y="614.89" font-size="19" font-weight="bold" fill="#111" textLength="7.4" lengthAdjust="spacingAndGlyphs">-</text><text x="654" y="580.37" font-size="18" font-weight="bold" fill="#111" text-anchor="middle">+</text><text x="650.30" y="614.89" font-size="19" font-weight="bold" fill="#111" textLength="7.4" lengthAdjust="spacingAndGlyphs">-</text><text x="809.90" y="580.29" font-size="19" font-weight="bold" fill="#111" textLength="7.4" lengthAdjust="spacingAndGlyphs">-</text><text x="813.6" y="614.97" font-size="18" font-weight="bold" fill="#111" text-anchor="middle">+</text><text x="973.4" y="580.37" font-size="18" font-weight="bold" fill="#111" text-anchor="middle">+</text><text x="973.4" y="614.97" font-size="18" font-weight="bold" fill="#111" text-anchor="middle">+</text>
</g>
<defs><filter id="bl05" x="-5%" y="-5%" width="110%" height="110%"><feGaussianBlur stdDeviation="0.6"/></filter><filter id="bl07" x="-10%" y="-10%" width="120%" height="120%"><feGaussianBlur stdDeviation="0.6"/></filter><filter id="bl15" x="-20%" y="-20%" width="140%" height="140%"><feGaussianBlur stdDeviation="1.6"/></filter><filter id="bl3" x="-20%" y="-20%" width="140%" height="140%"><feGaussianBlur stdDeviation="3"/></filter><linearGradient id="lut" x1="0" y1="1" x2="0" y2="0"><stop offset="0.000" stop-color="#000004"/><stop offset="0.094" stop-color="#061234"/><stop offset="0.188" stop-color="#0e326e"/><stop offset="0.282" stop-color="#185fa0"/><stop offset="0.376" stop-color="#1e96a0"/><stop offset="0.502" stop-color="#3cc850"/><stop offset="0.627" stop-color="#8ce632"/><stop offset="0.749" stop-color="#ebf528"/><stop offset="0.882" stop-color="#fafa96"/><stop offset="1.000" stop-color="#ffffff"/></linearGradient><g id="b00d"><path d="M13.7 -6.0C13.9 -5.0 13.9 -6.3 14.7 0.0C15.5 6.3 17.4 23.0 18.5 31.8C19.6 40.5 19.9 44.8 21.2 52.4C22.6 60.1 24.7 68.8 26.7 77.5C28.7 86.2 31.0 97.4 33.2 104.7C35.4 111.9 38.0 116.7 39.7 121.0C41.4 125.3 42.5 128.1 43.5 130.3C44.6 132.4 45.1 133.3 46.1 134.2C47.1 135.1 48.4 135.7 49.5 135.7C50.6 135.7 51.9 134.9 52.9 134.2C53.9 133.5 54.4 132.6 55.5 131.3C56.6 130.0 57.6 130.9 59.3 126.4C61.0 122.0 63.8 111.9 65.8 104.7C67.8 97.4 69.9 90.2 71.3 82.9C72.6 75.7 73.4 68.4 74.0 61.2C74.5 53.9 74.6 49.6 74.5 39.4C74.4 29.2 73.7 7.6 73.4 0.0C73.2 -7.6 73.2 -5.0 73.2 -6.0Z" fill="#10307a" opacity="0.34" filter="url(#bl3)"/><g filter="url(#bl15)" opacity="0.45"><circle cx="43.0" cy="123.2" r="2.73" fill="#eff645"/><circle cx="54.4" cy="125.9" r="2.52" fill="#eff645"/><circle cx="46.8" cy="130.6" r="2.52" fill="#eff645"/><circle cx="50.1" cy="130.6" r="2.31" fill="#eff645"/></g><g filter="url(#bl05)"><circle cx="20.3" cy="2.4" r="1.34" fill="#1f979f"/><circle cx="20.9" cy="6.7" r="1.24" fill="#165696"/><circle cx="21.1" cy="9.9" r="1.22" fill="#144f8e"/><circle cx="21.2" cy="15.4" r="1.31" fill="#1c82a0"/><circle cx="22.4" cy="22.1" r="1.30" fill="#1b7aa0"/><circle cx="22.9" cy="26.5" r="1.22" fill="#144b8a"/><circle cx="23.7" cy="31.6" r="1.27" fill="#196ba0"/><circle cx="24.3" cy="35.4" r="1.30" fill="#1b7aa0"/><circle cx="25.6" cy="40.1" r="1.24" fill="#175a9b"/><circle cx="25.2" cy="42.9" r="1.30" fill="#1c7fa0"/><circle cx="26.3" cy="47.3" r="1.21" fill="#134a88"/><circle cx="27.1" cy="52.1" r="1.26" fill="#1861a0"/><circle cx="27.9" cy="55.6" r="1.23" fill="#155392"/><circle cx="29.3" cy="64.3" r="1.21" fill="#134786"/><circle cx="29.8" cy="68.7" r="1.21" fill="#134886"/><circle cx="30.5" cy="71.4" r="1.21" fill="#134988"/><circle cx="31.3" cy="76.3" r="1.31" fill="#1c81a0"/><circle cx="33.1" cy="79.7" r="1.22" fill="#144d8c"/><circle cx="33.6" cy="83.9" r="1.21" fill="#134785"/><circle cx="35.1" cy="88.1" r="1.33" fill="#1d8ea0"/><circle cx="35.5" cy="93.1" r="1.22" fill="#144c8b"/><circle cx="37.3" cy="96.2" r="1.20" fill="#124381"/><circle cx="37.4" cy="100.4" r="1.29" fill="#1b79a0"/><circle cx="38.8" cy="104.4" r="1.20" fill="#11407e"/><circle cx="40.2" cy="109.7" r="1.23" fill="#165494"/><circle cx="42.5" cy="112.5" r="1.26" fill="#1863a0"/><circle cx="44.0" cy="116.8" r="1.31" fill="#1c80a0"/><circle cx="45.8" cy="120.8" r="1.28" fill="#1a70a0"/><circle cx="23.8" cy="2.9" r="1.27" fill="#196aa0"/><circle cx="25.0" cy="12.4" r="1.31" fill="#1c83a0"/><circle cx="25.3" cy="16.3" r="1.25" fill="#185e9e"/><circle cx="26.4" cy="20.6" r="1.24" fill="#175899"/><circle cx="27.4" cy="23.7" r="1.25" fill="#175c9d"/><circle cx="27.2" cy="27.5" r="1.25" fill="#175b9b"/><circle cx="27.9" cy="31.8" r="1.26" fill="#1862a0"/><circle cx="29.0" cy="36.7" r="1.33" fill="#1d91a0"/><circle cx="28.3" cy="39.8" r="1.29" fill="#1a75a0"/><circle cx="29.7" cy="45.4" r="1.33" fill="#1e91a0"/><circle cx="29.9" cy="49.1" r="1.29" fill="#1b78a0"/><circle cx="29.9" cy="52.9" r="1.34" fill="#1f979e"/><circle cx="31.7" cy="57.3" r="1.33" fill="#1d8ea0"/><circle cx="32.1" cy="61.3" r="1.33" fill="#1d8fa0"/><circle cx="33.1" cy="65.6" r="1.32" fill="#1d8aa0"/><circle cx="34.2" cy="69.1" r="1.28" fill="#1a6ea0"/><circle cx="34.4" cy="73.6" r="1.28" fill="#1a70a0"/><circle cx="36.7" cy="81.9" r="1.29" fill="#1b79a0"/><circle cx="38.3" cy="85.0" r="1.25" fill="#185e9f"/><circle cx="38.9" cy="89.7" r="1.19" fill="#113f7d"/><circle cx="39.8" cy="94.0" r="1.29" fill="#1a74a0"/><circle cx="41.5" cy="102.3" r="1.19" fill="#103b78"/><circle cx="43.5" cy="106.4" r="1.21" fill="#124684"/><circle cx="44.4" cy="110.5" r="1.31" fill="#1c81a0"/><circle cx="46.7" cy="115.0" r="1.24" fill="#165798"/><circle cx="30.1" cy="3.1" r="1.14" fill="#0b2659"/><circle cx="31.2" cy="8.6" r="1.17" fill="#0f3471"/><circle cx="31.7" cy="21.9" r="1.10" fill="#07173c"/><circle cx="32.3" cy="27.2" r="1.13" fill="#0a2252"/><circle cx="33.3" cy="40.8" r="1.18" fill="#103a76"/><circle cx="34.7" cy="44.3" r="1.11" fill="#081a42"/><circle cx="34.1" cy="50.2" r="1.13" fill="#0a2251"/><circle cx="35.9" cy="59.0" r="1.15" fill="#0d2c63"/><circle cx="37.3" cy="63.7" r="1.18" fill="#0f3874"/><circle cx="36.8" cy="67.3" r="1.13" fill="#0b2556"/><circle cx="37.4" cy="72.3" r="1.17" fill="#0e326e"/><circle cx="38.4" cy="77.4" r="1.17" fill="#0e326d"/><circle cx="40.2" cy="85.8" r="1.18" fill="#103a77"/><circle cx="41.4" cy="100.9" r="1.14" fill="#0b275b"/><circle cx="42.2" cy="105.3" r="1.16" fill="#0d2e67"/><circle cx="36.9" cy="4.2" r="1.15" fill="#0c2a5f"/><circle cx="37.7" cy="13.7" r="1.16" fill="#0d2e66"/><circle cx="39.0" cy="27.5" r="1.17" fill="#0e326e"/><circle cx="40.9" cy="40.6" r="1.14" fill="#0b2659"/><circle cx="40.2" cy="45.7" r="1.18" fill="#0f3572"/><circle cx="41.6" cy="49.3" r="1.11" fill="#081c46"/><circle cx="41.9" cy="55.0" r="1.14" fill="#0b2658"/><circle cx="42.2" cy="59.8" r="1.20" fill="#11417f"/><circle cx="42.7" cy="63.3" r="1.10" fill="#07173d"/><circle cx="43.9" cy="72.9" r="1.14" fill="#0b285c"/><circle cx="44.4" cy="78.1" r="1.12" fill="#0a214f"/><circle cx="45.0" cy="82.1" r="1.19" fill="#113e7b"/><circle cx="44.7" cy="86.6" r="1.10" fill="#081840"/><circle cx="45.8" cy="100.5" r="1.13" fill="#0b2556"/><circle cx="45.0" cy="105.1" r="1.18" fill="#0f3672"/><circle cx="44.4" cy="11.3" r="1.12" fill="#0a214e"/><circle cx="45.5" cy="25.4" r="1.10" fill="#081941"/><circle cx="46.0" cy="34.0" r="1.17" fill="#0e326e"/><circle cx="46.7" cy="38.8" r="1.16" fill="#0d2d66"/><circle cx="47.4" cy="52.4" r="1.14" fill="#0b2557"/><circle cx="48.0" cy="57.3" r="1.13" fill="#0a2251"/><circle cx="49.0" cy="66.7" r="1.16" fill="#0d2d65"/><circle cx="48.9" cy="76.2" r="1.19" fill="#103d7a"/><circle cx="50.2" cy="89.2" r="1.12" fill="#091f4b"/><circle cx="49.8" cy="103.1" r="1.11" fill="#091d47"/><circle cx="49.6" cy="108.5" r="1.20" fill="#11417e"/><circle cx="50.2" cy="111.9" r="1.14" fill="#0b2659"/><circle cx="50.7" cy="118.0" r="1.18" fill="#0f3874"/><circle cx="50.7" cy="121.8" r="1.16" fill="#0d2d65"/><circle cx="50.0" cy="125.8" r="1.11" fill="#091d48"/><circle cx="50.1" cy="131.2" r="1.17" fill="#0e316c"/><circle cx="52.7" cy="29.0" r="1.17" fill="#0e316c"/><circle cx="53.4" cy="32.9" r="1.12" fill="#091f4c"/><circle cx="54.2" cy="47.3" r="1.13" fill="#0a2251"/><circle cx="54.9" cy="79.6" r="1.13" fill="#0a2252"/><circle cx="54.5" cy="93.9" r="1.20" fill="#124482"/><circle cx="54.1" cy="103.0" r="1.20" fill="#124583"/><circle cx="57.7" cy="3.0" r="1.16" fill="#0d2e66"/><circle cx="59.0" cy="12.1" r="1.15" fill="#0c295e"/><circle cx="59.5" cy="21.8" r="1.11" fill="#081a42"/><circle cx="60.2" cy="26.5" r="1.11" fill="#091d48"/><circle cx="60.6" cy="44.3" r="1.15" fill="#0c2a60"/><circle cx="59.9" cy="53.5" r="1.12" fill="#091e4a"/><circle cx="61.3" cy="63.2" r="1.14" fill="#0b2658"/><circle cx="59.8" cy="72.5" r="1.18" fill="#103976"/><circle cx="59.6" cy="81.5" r="1.20" fill="#124381"/><circle cx="59.8" cy="85.4" r="1.14" fill="#0b285c"/><circle cx="58.6" cy="95.1" r="1.15" fill="#0c2b61"/><circle cx="58.0" cy="99.5" r="1.17" fill="#0e326e"/><circle cx="63.7" cy="1.3" r="1.25" fill="#175b9b"/><circle cx="65.0" cy="6.4" r="1.27" fill="#1967a0"/><circle cx="65.2" cy="9.4" r="1.35" fill="#219b99"/><circle cx="64.6" cy="14.9" r="1.27" fill="#196aa0"/><circle cx="65.4" cy="18.6" r="1.28" fill="#1a72a0"/><circle cx="65.3" cy="22.6" r="1.35" fill="#20999b"/><circle cx="64.9" cy="26.0" r="1.30" fill="#1b7aa0"/><circle cx="64.6" cy="30.5" r="1.28" fill="#1a71a0"/><circle cx="64.9" cy="34.8" r="1.27" fill="#196aa0"/><circle cx="65.4" cy="39.6" r="1.31" fill="#1c86a0"/><circle cx="64.6" cy="47.6" r="1.24" fill="#165696"/><circle cx="64.8" cy="50.7" r="1.29" fill="#1b76a0"/><circle cx="65.1" cy="55.4" r="1.28" fill="#1a70a0"/><circle cx="64.5" cy="60.1" r="1.23" fill="#155190"/><circle cx="63.9" cy="62.7" r="1.32" fill="#1d8ba0"/><circle cx="64.2" cy="66.9" r="1.26" fill="#1861a0"/><circle cx="62.9" cy="71.9" r="1.21" fill="#124684"/><circle cx="62.8" cy="75.7" r="1.28" fill="#1a72a0"/><circle cx="62.8" cy="80.3" r="1.24" fill="#175899"/><circle cx="62.3" cy="84.1" r="1.21" fill="#134785"/><circle cx="60.7" cy="87.6" r="1.22" fill="#144d8c"/><circle cx="60.0" cy="92.9" r="1.24" fill="#165898"/><circle cx="59.1" cy="96.9" r="1.26" fill="#1965a0"/><circle cx="57.2" cy="100.9" r="1.24" fill="#165696"/><circle cx="56.8" cy="104.4" r="1.20" fill="#11407d"/><circle cx="55.9" cy="107.8" r="1.22" fill="#144f8e"/><circle cx="53.7" cy="112.3" r="1.27" fill="#196ba0"/><circle cx="52.7" cy="116.1" r="1.28" fill="#1a6da0"/><circle cx="67.6" cy="2.4" r="1.26" fill="#1965a0"/><circle cx="68.8" cy="6.8" r="1.34" fill="#1e969f"/><circle cx="68.1" cy="10.0" r="1.32" fill="#1d8ca0"/><circle cx="69.0" cy="14.0" r="1.34" fill="#1f979e"/><circle cx="68.4" cy="18.3" r="1.26" fill="#1864a0"/><circle cx="68.8" cy="23.0" r="1.24" fill="#165696"/><circle cx="68.9" cy="26.2" r="1.33" fill="#1d8da0"/><circle cx="68.6" cy="30.0" r="1.33" fill="#1d91a0"/><circle cx="69.1" cy="35.6" r="1.28" fill="#1a72a0"/><circle cx="68.5" cy="39.0" r="1.32" fill="#1d89a0"/><circle cx="68.5" cy="43.5" r="1.22" fill="#144b8a"/><circle cx="69.1" cy="46.6" r="1.22" fill="#134b89"/><circle cx="68.5" cy="50.8" r="1.29" fill="#1b79a0"/><circle cx="69.1" cy="55.2" r="1.27" fill="#196ca0"/><circle cx="68.9" cy="59.5" r="1.34" fill="#1e94a0"/><circle cx="68.6" cy="64.2" r="1.30" fill="#1b7da0"/><circle cx="68.0" cy="68.2" r="1.31" fill="#1c85a0"/><circle cx="67.8" cy="72.5" r="1.31" fill="#1c85a0"/><circle cx="67.0" cy="76.4" r="1.27" fill="#1968a0"/><circle cx="65.7" cy="80.4" r="1.25" fill="#185e9f"/><circle cx="64.1" cy="88.1" r="1.21" fill="#134a88"/><circle cx="62.9" cy="92.0" r="1.32" fill="#1d8da0"/><circle cx="62.9" cy="95.9" r="1.28" fill="#1a6ea0"/><circle cx="61.6" cy="101.1" r="1.25" fill="#175d9d"/><circle cx="60.0" cy="104.1" r="1.20" fill="#11427f"/><circle cx="59.4" cy="108.2" r="1.28" fill="#1a71a0"/><circle cx="57.5" cy="113.2" r="1.22" fill="#144d8c"/><circle cx="57.2" cy="116.8" r="1.26" fill="#1860a0"/><circle cx="56.1" cy="120.7" r="1.30" fill="#1b7da0"/><circle cx="54.3" cy="124.6" r="1.31" fill="#1c82a0"/><circle cx="52.2" cy="129.0" r="1.31" fill="#1c80a0"/><circle cx="43.0" cy="123.2" r="1.53" fill="#fcfcca"/><circle cx="54.4" cy="125.9" r="1.42" fill="#fafa96"/><circle cx="46.8" cy="130.6" r="1.42" fill="#f6f976"/><circle cx="50.1" cy="130.6" r="1.30" fill="#eff645"/><circle cx="28.8" cy="49.2" r="1.65" fill="#2bac7d"/><circle cx="66.4" cy="7.8" r="1.65" fill="#26a48a"/><circle cx="22.9" cy="2.9" r="1.53" fill="#229c96"/><circle cx="23.4" cy="9.5" r="1.53" fill="#229c96"/><circle cx="26.7" cy="31.8" r="1.53" fill="#229c96"/></g></g><g id="b00m"><path d="M13.7 -6.0C13.9 -5.0 13.9 -6.3 14.7 0.0C15.5 6.3 17.4 23.0 18.5 31.8C19.6 40.5 19.9 44.8 21.2 52.4C22.6 60.1 24.7 68.8 26.7 77.5C28.7 86.2 31.0 97.4 33.2 104.7C35.4 111.9 38.0 116.7 39.7 121.0C41.4 125.3 42.5 128.1 43.5 130.3C44.6 132.4 45.1 133.3 46.1 134.2C47.1 135.1 48.4 135.7 49.5 135.7C50.6 135.7 51.9 134.9 52.9 134.2C53.9 133.5 54.4 132.6 55.5 131.3C56.6 130.0 57.6 130.9 59.3 126.4C61.0 122.0 63.8 111.9 65.8 104.7C67.8 97.4 69.9 90.2 71.3 82.9C72.6 75.7 73.4 68.4 74.0 61.2C74.5 53.9 74.6 49.6 74.5 39.4C74.4 29.2 73.7 7.6 73.4 0.0C73.2 -7.6 73.2 -5.0 73.2 -6.0Z" fill="#3a0a6a" opacity="0.4" filter="url(#bl3)"/><g opacity="1.0" fill="none" stroke="#ee1cf0"><path d="M15.2 -6.0C15.4 -5.0 15.4 -6.3 16.2 0.0C17.0 6.3 18.9 23.0 20.0 31.8C21.1 40.5 21.4 44.8 22.7 52.4C24.1 60.1 26.2 68.8 28.2 77.5C30.2 86.2 32.5 97.4 34.7 104.7C36.9 111.9 39.5 116.7 41.2 121.0C42.9 125.3 43.6 128.1 45.0 130.3C46.4 132.4 48.0 133.6 49.5 133.8C51.0 134.0 52.6 132.6 54.0 131.3C55.4 130.1 56.1 130.9 57.8 126.4C59.5 122.0 62.3 111.9 64.3 104.7C66.3 97.4 68.4 90.2 69.8 82.9C71.1 75.7 71.9 68.4 72.5 61.2C73.0 53.9 73.1 49.6 73.0 39.4C72.9 29.2 72.2 7.6 71.9 0.0C71.7 -7.6 71.7 -5.0 71.7 -6.0" stroke-width="7.2" opacity="0.3" filter="url(#bl15)"/><g filter="url(#bl07)"><path d="M15.2 -6.0C15.4 -5.0 15.4 -6.3 16.2 0.0C17.0 6.3 18.9 23.0 20.0 31.8C21.1 40.5 21.4 44.8 22.7 52.4C24.1 60.1 26.2 68.8 28.2 77.5C30.2 86.2 32.5 97.4 34.7 104.7C36.9 111.9 39.5 116.7 41.2 121.0C42.9 125.3 43.6 128.1 45.0 130.3C46.4 132.4 48.0 133.6 49.5 133.8C51.0 134.0 52.6 132.6 54.0 131.3C55.4 130.1 56.1 130.9 57.8 126.4C59.5 122.0 62.3 111.9 64.3 104.7C66.3 97.4 68.4 90.2 69.8 82.9C71.1 75.7 71.9 68.4 72.5 61.2C73.0 53.9 73.1 49.6 73.0 39.4C72.9 29.2 72.2 7.6 71.9 0.0C71.7 -7.6 71.7 -5.0 71.7 -6.0" stroke-width="3.8"/><path d="M21.1 -6.0C21.3 -5.0 21.3 -6.3 22.1 0.0C22.9 6.3 24.8 23.0 25.9 31.8C27.0 40.5 27.3 44.8 28.6 52.4C30.0 60.1 32.1 68.8 34.1 77.5C36.1 86.2 38.4 97.4 40.6 104.7C42.8 111.9 45.4 116.7 47.1 121.0C48.8 125.3 50.5 129.3 50.9 130.3C51.3 131.2 50.0 126.3 49.5 126.4C49.0 126.6 47.7 131.3 48.1 131.3C48.5 131.3 50.2 130.9 51.9 126.4C53.6 122.0 56.4 111.9 58.4 104.7C60.4 97.4 62.5 90.2 63.9 82.9C65.2 75.7 66.0 68.4 66.6 61.2C67.1 53.9 67.2 49.6 67.1 39.4C67.0 29.2 66.3 7.6 66.0 0.0C65.8 -7.6 65.8 -5.0 65.8 -6.0" stroke-width="1.0" opacity="0.6"/><path d="M25.5 -6.0C25.7 -5.0 25.7 -6.3 26.5 0.0C27.3 6.3 29.2 23.0 30.3 31.8C31.4 40.5 31.7 44.8 33.0 52.4C34.4 60.1 36.5 68.8 38.5 77.5C40.5 86.2 42.8 97.4 45.0 104.7C47.2 111.9 49.8 116.7 51.5 121.0C53.2 125.3 55.7 130.3 55.3 130.3C55.0 130.2 51.4 120.8 49.5 120.9C47.6 121.1 44.0 130.4 43.7 131.3C43.4 132.3 45.8 130.9 47.5 126.4C49.2 122.0 52.0 111.9 54.0 104.7C56.0 97.4 58.1 90.2 59.5 82.9C60.8 75.7 61.6 68.4 62.2 61.2C62.7 53.9 62.8 49.6 62.7 39.4C62.6 29.2 61.9 7.6 61.6 0.0C61.4 -7.6 61.4 -5.0 61.4 -6.0" stroke-width="0.8" opacity="0.35"/><path d="M2 54q6 -6 8 -3q-3 5 -7 6" stroke-width="2.2"/><path d="M17 66q3 8 2 16M76 78q3 12 13 14" stroke-width="1.8" opacity="0.8"/><path d="M42 118v10M46.5 118v12M51 118v12M55.5 118v9" stroke-width="0.9" opacity="0.8"/></g></g></g><g id="b10d"><path d="M9.7 -6.0C9.8 -5.0 9.8 -5.8 10.0 0.0C10.2 5.8 10.5 19.2 11.1 28.5C11.7 37.8 12.5 47.6 13.8 55.7C15.1 63.9 17.2 71.1 18.7 77.5C20.3 83.8 21.6 88.4 23.1 93.8C24.5 99.2 25.9 105.0 27.4 110.1C29.0 115.3 30.9 121.8 32.3 124.8C33.7 127.8 34.8 127.2 36.0 128.0C37.2 128.8 38.3 129.5 39.4 129.5C40.5 129.5 41.7 128.2 42.8 128.0C43.9 127.8 44.9 128.7 45.9 128.1C47.0 127.5 47.6 128.2 49.2 124.3C50.8 120.4 53.2 111.2 55.7 104.7C58.3 98.2 61.9 92.3 64.4 85.1C67.0 77.8 69.1 69.7 70.9 61.2C72.8 52.6 74.0 44.1 75.3 33.9C76.6 23.8 77.9 6.7 78.6 0.0C79.2 -6.7 79.2 -5.0 79.4 -6.0Z" fill="#10307a" opacity="0.2" filter="url(#bl3)"/><g filter="url(#bl05)"><circle cx="16.1" cy="42.7" r="1.10" fill="#07173d"/><circle cx="18.2" cy="51.0" r="1.11" fill="#091d47"/><circle cx="18.5" cy="60.1" r="1.09" fill="#07153a"/><circle cx="21.7" cy="71.9" r="1.10" fill="#07183e"/><circle cx="23.3" cy="77.0" r="1.11" fill="#091c47"/><circle cx="25.0" cy="83.8" r="1.12" fill="#091e49"/><circle cx="25.9" cy="89.0" r="1.10" fill="#07163c"/><circle cx="28.1" cy="96.3" r="1.11" fill="#081b44"/><circle cx="29.5" cy="100.2" r="1.11" fill="#081b44"/><circle cx="30.5" cy="104.2" r="1.10" fill="#07173d"/><circle cx="31.5" cy="108.3" r="1.11" fill="#091d47"/><circle cx="32.3" cy="113.1" r="1.11" fill="#081b44"/><circle cx="34.9" cy="122.0" r="1.17" fill="#0e316d"/><circle cx="19.6" cy="22.6" r="1.10" fill="#07173e"/><circle cx="21.5" cy="56.1" r="1.11" fill="#081b44"/><circle cx="23.0" cy="59.0" r="1.10" fill="#07173d"/><circle cx="24.0" cy="68.3" r="1.10" fill="#081941"/><circle cx="26.4" cy="76.1" r="1.13" fill="#0a2352"/><circle cx="27.8" cy="79.9" r="1.13" fill="#0a2454"/><circle cx="28.9" cy="84.2" r="1.13" fill="#0a2353"/><circle cx="29.9" cy="88.3" r="1.10" fill="#07163c"/><circle cx="31.2" cy="92.8" r="1.12" fill="#0a214f"/><circle cx="31.8" cy="96.9" r="1.14" fill="#0b275b"/><circle cx="34.6" cy="104.9" r="1.11" fill="#081a43"/><circle cx="34.5" cy="108.7" r="1.13" fill="#0a2455"/><circle cx="36.0" cy="112.6" r="1.12" fill="#091f4c"/><circle cx="37.2" cy="116.2" r="1.14" fill="#0c295d"/><circle cx="32.7" cy="90.1" r="1.10" fill="#07173d"/><circle cx="32.6" cy="94.3" r="1.10" fill="#081840"/><circle cx="33.0" cy="98.2" r="1.09" fill="#07153a"/><circle cx="36.5" cy="66.3" r="1.10" fill="#08183f"/><circle cx="37.1" cy="84.9" r="1.10" fill="#07173d"/><circle cx="36.6" cy="98.9" r="1.12" fill="#091f4c"/><circle cx="43.1" cy="65.8" r="1.10" fill="#07173e"/><circle cx="41.7" cy="103.4" r="1.11" fill="#081a42"/><circle cx="44.9" cy="99.1" r="1.10" fill="#08183f"/><circle cx="69.6" cy="10.6" r="1.09" fill="#07153a"/><circle cx="66.3" cy="42.5" r="1.10" fill="#08183f"/><circle cx="58.9" cy="75.5" r="1.12" fill="#091f4b"/><circle cx="57.4" cy="79.2" r="1.13" fill="#0a2352"/><circle cx="57.4" cy="83.7" r="1.13" fill="#0a2353"/><circle cx="53.5" cy="92.4" r="1.13" fill="#0a2251"/><circle cx="52.1" cy="95.4" r="1.11" fill="#091d48"/><circle cx="50.2" cy="100.6" r="1.09" fill="#07153a"/><circle cx="47.3" cy="104.2" r="1.12" fill="#091d49"/><circle cx="45.9" cy="109.0" r="1.12" fill="#091e4a"/><circle cx="45.6" cy="113.0" r="1.13" fill="#0a2454"/><circle cx="44.3" cy="116.3" r="1.13" fill="#0b2556"/><circle cx="71.9" cy="28.1" r="1.09" fill="#07153a"/><circle cx="68.8" cy="48.3" r="1.11" fill="#081c45"/><circle cx="68.7" cy="52.5" r="1.11" fill="#081a42"/><circle cx="67.1" cy="57.1" r="1.09" fill="#07153a"/><circle cx="67.2" cy="61.5" r="1.10" fill="#081940"/><circle cx="65.5" cy="64.7" r="1.11" fill="#081a42"/><circle cx="64.3" cy="68.7" r="1.10" fill="#07183e"/><circle cx="62.3" cy="77.5" r="1.10" fill="#081840"/><circle cx="58.7" cy="89.1" r="1.09" fill="#07153a"/><circle cx="56.5" cy="94.2" r="1.14" fill="#0b275a"/><circle cx="50.9" cy="106.7" r="1.10" fill="#07173e"/><circle cx="50.0" cy="110.2" r="1.16" fill="#0d2e68"/><circle cx="47.6" cy="115.1" r="1.12" fill="#091e4a"/><circle cx="46.9" cy="118.0" r="1.14" fill="#0c295d"/><circle cx="45.0" cy="122.6" r="1.11" fill="#081a43"/><circle cx="33.4" cy="113.4" r="1.53" fill="#1e94a0"/><circle cx="45.4" cy="117.5" r="1.30" fill="#175b9c"/><circle cx="41.3" cy="122.3" r="1.30" fill="#1966a0"/></g></g><g id="b10m"><path d="M9.7 -6.0C9.8 -5.0 9.8 -5.8 10.0 0.0C10.2 5.8 10.5 19.2 11.1 28.5C11.7 37.8 12.5 47.6 13.8 55.7C15.1 63.9 17.2 71.1 18.7 77.5C20.3 83.8 21.6 88.4 23.1 93.8C24.5 99.2 25.9 105.0 27.4 110.1C29.0 115.3 30.9 121.8 32.3 124.8C33.7 127.8 34.8 127.2 36.0 128.0C37.2 128.8 38.3 129.5 39.4 129.5C40.5 129.5 41.7 128.2 42.8 128.0C43.9 127.8 44.9 128.7 45.9 128.1C47.0 127.5 47.6 128.2 49.2 124.3C50.8 120.4 53.2 111.2 55.7 104.7C58.3 98.2 61.9 92.3 64.4 85.1C67.0 77.8 69.1 69.7 70.9 61.2C72.8 52.6 74.0 44.1 75.3 33.9C76.6 23.8 77.9 6.7 78.6 0.0C79.2 -6.7 79.2 -5.0 79.4 -6.0Z" fill="#3a0a6a" opacity="0.3" filter="url(#bl3)"/><g opacity="0.85" fill="none" stroke="#ee1cf0"><path d="M10.6 -6.0C10.7 -5.0 10.7 -5.8 10.9 0.0C11.1 5.8 11.4 19.2 12.0 28.5C12.6 37.8 13.4 47.6 14.7 55.7C16.0 63.9 18.1 71.1 19.6 77.5C21.2 83.8 22.5 88.4 24.0 93.8C25.4 99.2 26.8 105.0 28.3 110.1C29.9 115.3 31.4 121.8 33.2 124.8C35.1 127.9 37.4 127.8 39.4 128.4C41.4 128.9 43.5 128.8 45.0 128.1C46.5 127.4 46.7 128.2 48.3 124.3C49.9 120.4 52.3 111.2 54.8 104.7C57.4 98.2 61.0 92.3 63.5 85.1C66.1 77.8 68.2 69.7 70.0 61.2C71.9 52.6 73.1 44.1 74.4 33.9C75.7 23.8 77.0 6.7 77.7 0.0C78.3 -6.7 78.3 -5.0 78.5 -6.0" stroke-width="4.9" opacity="0.3" filter="url(#bl15)"/><g filter="url(#bl07)"><path d="M10.6 -6.0C10.7 -5.0 10.7 -5.8 10.9 0.0C11.1 5.8 11.4 19.2 12.0 28.5C12.6 37.8 13.4 47.6 14.7 55.7C16.0 63.9 18.1 71.1 19.6 77.5C21.2 83.8 22.5 88.4 24.0 93.8C25.4 99.2 26.8 105.0 28.3 110.1C29.9 115.3 31.4 121.8 33.2 124.8C35.1 127.9 37.4 127.8 39.4 128.4C41.4 128.9 43.5 128.8 45.0 128.1C46.5 127.4 46.7 128.2 48.3 124.3C49.9 120.4 52.3 111.2 54.8 104.7C57.4 98.2 61.0 92.3 63.5 85.1C66.1 77.8 68.2 69.7 70.0 61.2C71.9 52.6 73.1 44.1 74.4 33.9C75.7 23.8 77.0 6.7 77.7 0.0C78.3 -6.7 78.3 -5.0 78.5 -6.0" stroke-width="2.6"/><path d="M15.9 -6.0C16.0 -5.0 16.0 -5.8 16.2 0.0C16.4 5.8 16.7 19.2 17.3 28.5C17.9 37.8 18.7 47.6 20.0 55.7C21.3 63.9 23.4 71.1 24.9 77.5C26.5 83.8 27.8 88.4 29.3 93.8C30.7 99.2 32.1 105.0 33.6 110.1C35.2 115.3 37.6 122.9 38.5 124.8C39.5 126.7 39.2 121.2 39.4 121.7C39.6 122.3 39.1 127.7 39.7 128.1C40.3 128.5 41.4 128.2 43.0 124.3C44.6 120.4 47.0 111.2 49.5 104.7C52.1 98.2 55.7 92.3 58.2 85.1C60.8 77.8 62.9 69.7 64.7 61.2C66.6 52.6 67.8 44.1 69.1 33.9C70.4 23.8 71.7 6.7 72.4 0.0C73.0 -6.7 73.0 -5.0 73.2 -6.0" stroke-width="1.0" opacity="0.6"/><path d="M20.3 -6.0C20.4 -5.0 20.4 -5.8 20.6 0.0C20.8 5.8 21.1 19.2 21.7 28.5C22.3 37.8 23.1 47.6 24.4 55.7C25.7 63.9 27.8 71.1 29.3 77.5C30.9 83.8 32.2 88.4 33.7 93.8C35.1 99.2 36.5 105.0 38.0 110.1C39.6 115.3 42.7 123.8 42.9 124.8C43.1 125.8 40.7 115.7 39.4 116.2C38.1 116.8 35.5 126.7 35.3 128.1C35.2 129.4 37.0 128.2 38.6 124.3C40.2 120.4 42.6 111.2 45.1 104.7C47.7 98.2 51.3 92.3 53.8 85.1C56.4 77.8 58.5 69.7 60.3 61.2C62.2 52.6 63.4 44.1 64.7 33.9C66.0 23.8 67.3 6.7 68.0 0.0C68.6 -6.7 68.6 -5.0 68.8 -6.0" stroke-width="0.8" opacity="0.35"/><path d="M72 58q-2 10 -7 20q4 6 0 12" stroke-width="3" opacity="0.9"/><ellipse cx="33.5" cy="120" rx="2.6" ry="5.2" stroke-width="1"/><ellipse cx="47" cy="118" rx="2.8" ry="5.6" stroke-width="1"/><path d="M34 96v14M40 98v14M46 96v14M28 92q12 -6 26 0" stroke-width="0.9" opacity="0.8"/></g></g></g><g id="b01d"><path d="M8.2 -6.0C8.3 -5.0 8.3 -5.8 8.7 0.0C9.2 5.8 9.8 19.8 10.9 28.5C12.0 37.3 13.6 44.8 15.2 52.4C16.9 60.1 18.7 67.3 20.7 74.2C22.7 81.1 25.0 87.8 27.2 93.8C29.4 99.8 31.6 105.2 33.7 110.1C35.9 115.0 38.8 120.5 40.3 123.2C41.7 125.9 41.4 125.5 42.3 126.2C43.2 127.0 44.6 127.7 45.7 127.7C46.8 127.7 48.3 126.5 49.1 126.2C49.9 126.0 49.9 127.0 50.6 126.4C51.3 125.9 52.0 126.4 53.3 123.2C54.7 119.9 57.1 112.7 58.8 106.9C60.4 101.1 61.7 95.1 63.1 88.4C64.6 81.6 66.0 74.8 67.5 66.6C68.9 58.4 70.4 50.5 71.8 39.4C73.3 28.3 75.3 7.6 76.2 0.0C77.1 -7.6 77.1 -5.0 77.3 -6.0Z" fill="#10307a" opacity="0.3" filter="url(#bl3)"/><g filter="url(#bl15)" opacity="0.45"><circle cx="22.3" cy="60.9" r="2.73" fill="#39c358"/><circle cx="62.6" cy="51.6" r="2.94" fill="#39c358"/><circle cx="60.4" cy="62.0" r="2.73" fill="#34bc64"/><circle cx="58.8" cy="76.2" r="2.73" fill="#39c358"/><circle cx="41.9" cy="87.3" r="2.73" fill="#39c358"/><circle cx="50.1" cy="91.1" r="2.73" fill="#41ca4e"/><circle cx="43.5" cy="94.3" r="2.73" fill="#39c358"/><circle cx="38.6" cy="103.0" r="2.94" fill="#5ad345"/><circle cx="42.4" cy="102.3" r="2.73" fill="#4ecf49"/><circle cx="46.8" cy="106.6" r="2.52" fill="#39c358"/><circle cx="55.5" cy="81.8" r="2.52" fill="#34bc64"/><circle cx="47.9" cy="122.1" r="2.31" fill="#eff645"/><circle cx="31.6" cy="101.4" r="2.10" fill="#eff645"/><circle cx="54.4" cy="106.9" r="2.10" fill="#eff645"/></g><g filter="url(#bl05)"><circle cx="13.1" cy="1.3" r="1.21" fill="#124583"/><circle cx="12.6" cy="6.3" r="1.12" fill="#0a214e"/><circle cx="12.9" cy="9.6" r="1.18" fill="#103a77"/><circle cx="13.7" cy="13.3" r="1.23" fill="#165595"/><circle cx="14.4" cy="18.7" r="1.13" fill="#0a2353"/><circle cx="14.5" cy="23.0" r="1.24" fill="#165797"/><circle cx="15.0" cy="26.4" r="1.15" fill="#0d2c64"/><circle cx="14.9" cy="30.3" r="1.21" fill="#124684"/><circle cx="15.2" cy="35.1" r="1.17" fill="#0e3470"/><circle cx="16.8" cy="38.8" r="1.28" fill="#1a71a0"/><circle cx="17.5" cy="42.7" r="1.15" fill="#0d2c64"/><circle cx="18.1" cy="46.5" r="1.17" fill="#0e336f"/><circle cx="18.6" cy="50.4" r="1.24" fill="#165797"/><circle cx="19.3" cy="54.6" r="1.19" fill="#103c79"/><circle cx="20.9" cy="59.9" r="1.17" fill="#0e326e"/><circle cx="22.3" cy="62.5" r="1.28" fill="#1a6da0"/><circle cx="23.2" cy="67.6" r="1.30" fill="#1b7aa0"/><circle cx="24.3" cy="72.1" r="1.24" fill="#175999"/><circle cx="25.4" cy="75.4" r="1.22" fill="#144b8a"/><circle cx="27.0" cy="79.8" r="1.21" fill="#134a89"/><circle cx="27.8" cy="83.9" r="1.23" fill="#165494"/><circle cx="29.3" cy="87.6" r="1.27" fill="#1966a0"/><circle cx="30.7" cy="91.4" r="1.24" fill="#17599a"/><circle cx="32.1" cy="96.2" r="1.24" fill="#165696"/><circle cx="33.5" cy="99.9" r="1.24" fill="#165898"/><circle cx="35.9" cy="103.7" r="1.24" fill="#175a9a"/><circle cx="37.0" cy="107.7" r="1.30" fill="#1b7aa0"/><circle cx="39.2" cy="111.7" r="1.32" fill="#1d8aa0"/><circle cx="41.4" cy="116.6" r="1.35" fill="#219b98"/><circle cx="42.5" cy="119.9" r="1.39" fill="#2bab7e"/><circle cx="16.2" cy="2.8" r="1.21" fill="#134a88"/><circle cx="16.9" cy="6.4" r="1.14" fill="#0b275a"/><circle cx="16.7" cy="10.5" r="1.15" fill="#0c2a5f"/><circle cx="16.9" cy="15.2" r="1.17" fill="#0e316c"/><circle cx="18.1" cy="18.4" r="1.11" fill="#081b45"/><circle cx="17.8" cy="22.7" r="1.20" fill="#11417f"/><circle cx="18.9" cy="26.5" r="1.14" fill="#0b2658"/><circle cx="18.7" cy="31.0" r="1.15" fill="#0d2c63"/><circle cx="19.5" cy="35.2" r="1.14" fill="#0c295d"/><circle cx="19.8" cy="39.5" r="1.28" fill="#1a72a0"/><circle cx="21.0" cy="44.1" r="1.26" fill="#1863a0"/><circle cx="21.3" cy="47.2" r="1.16" fill="#0d2e67"/><circle cx="22.7" cy="51.5" r="1.17" fill="#0e326e"/><circle cx="23.3" cy="56.2" r="1.28" fill="#1a6ea0"/><circle cx="24.7" cy="60.6" r="1.30" fill="#1c7fa0"/><circle cx="25.9" cy="64.5" r="1.25" fill="#185fa0"/><circle cx="26.2" cy="68.2" r="1.19" fill="#103d7a"/><circle cx="27.5" cy="72.9" r="1.26" fill="#1964a0"/><circle cx="28.3" cy="75.6" r="1.20" fill="#124380"/><circle cx="30.6" cy="81.0" r="1.21" fill="#134887"/><circle cx="33.2" cy="89.1" r="1.28" fill="#1a6ea0"/><circle cx="34.8" cy="92.1" r="1.26" fill="#1966a0"/><circle cx="36.0" cy="96.4" r="1.38" fill="#2aa981"/><circle cx="37.0" cy="100.2" r="1.31" fill="#1c81a0"/><circle cx="39.9" cy="104.6" r="1.30" fill="#1b7ba0"/><circle cx="40.8" cy="109.9" r="1.39" fill="#2bac7d"/><circle cx="42.5" cy="113.1" r="1.34" fill="#1e969f"/><circle cx="28.9" cy="45.0" r="1.12" fill="#0a214f"/><circle cx="29.2" cy="54.8" r="1.16" fill="#0d2f69"/><circle cx="30.6" cy="63.5" r="1.19" fill="#113f7c"/><circle cx="31.7" cy="67.3" r="1.10" fill="#07183e"/><circle cx="32.0" cy="72.3" r="1.19" fill="#113e7b"/><circle cx="32.9" cy="78.0" r="1.20" fill="#11407d"/><circle cx="35.4" cy="87.0" r="1.26" fill="#1860a0"/><circle cx="36.9" cy="95.9" r="1.25" fill="#185fa0"/><circle cx="38.1" cy="100.5" r="1.18" fill="#0f3673"/><circle cx="34.4" cy="24.9" r="1.12" fill="#091e4a"/><circle cx="36.1" cy="47.9" r="1.14" fill="#0b2659"/><circle cx="35.7" cy="55.9" r="1.15" fill="#0c2a60"/><circle cx="36.5" cy="61.7" r="1.09" fill="#07153a"/><circle cx="36.9" cy="65.1" r="1.20" fill="#124280"/><circle cx="37.4" cy="74.1" r="1.10" fill="#07173c"/><circle cx="38.1" cy="78.6" r="1.13" fill="#0a2150"/><circle cx="38.8" cy="84.1" r="1.11" fill="#091d48"/><circle cx="40.6" cy="93.6" r="1.24" fill="#175a9a"/><circle cx="41.7" cy="38.5" r="1.11" fill="#081a42"/><circle cx="43.0" cy="42.5" r="1.14" fill="#0b2658"/><circle cx="42.1" cy="57.0" r="1.10" fill="#081840"/><circle cx="43.2" cy="60.8" r="1.11" fill="#081b45"/><circle cx="42.4" cy="66.5" r="1.11" fill="#091c47"/><circle cx="43.5" cy="83.5" r="1.17" fill="#0e3370"/><circle cx="43.8" cy="89.5" r="1.16" fill="#0d2e66"/><circle cx="44.9" cy="93.9" r="1.19" fill="#113d7b"/><circle cx="45.0" cy="98.3" r="1.26" fill="#1966a0"/><circle cx="45.8" cy="111.9" r="1.32" fill="#1c87a0"/><circle cx="45.9" cy="121.5" r="1.29" fill="#1a75a0"/><circle cx="48.7" cy="47.6" r="1.10" fill="#07183f"/><circle cx="49.6" cy="51.9" r="1.10" fill="#08183f"/><circle cx="48.9" cy="57.8" r="1.15" fill="#0c2a60"/><circle cx="48.9" cy="61.9" r="1.17" fill="#0e306b"/><circle cx="49.4" cy="66.8" r="1.12" fill="#091f4c"/><circle cx="48.2" cy="71.3" r="1.13" fill="#0b2556"/><circle cx="48.9" cy="75.5" r="1.19" fill="#113f7d"/><circle cx="48.2" cy="85.6" r="1.26" fill="#1861a0"/><circle cx="49.4" cy="89.4" r="1.19" fill="#113e7b"/><circle cx="49.1" cy="94.2" r="1.15" fill="#0c295e"/><circle cx="48.6" cy="99.3" r="1.17" fill="#0e326e"/><circle cx="57.1" cy="17.9" r="1.11" fill="#091d47"/><circle cx="54.8" cy="58.9" r="1.12" fill="#091f4c"/><circle cx="55.2" cy="68.3" r="1.17" fill="#0e3470"/><circle cx="54.2" cy="76.7" r="1.18" fill="#103a77"/><circle cx="53.7" cy="82.3" r="1.14" fill="#0b2658"/><circle cx="53.4" cy="91.0" r="1.14" fill="#0b2759"/><circle cx="52.3" cy="95.3" r="1.24" fill="#165696"/><circle cx="51.8" cy="100.1" r="1.27" fill="#196ba0"/><circle cx="68.1" cy="2.1" r="1.23" fill="#15508f"/><circle cx="67.6" cy="5.9" r="1.13" fill="#0b2556"/><circle cx="66.8" cy="10.4" r="1.20" fill="#11407d"/><circle cx="66.7" cy="13.9" r="1.17" fill="#0e326f"/><circle cx="66.1" cy="18.7" r="1.15" fill="#0c2b61"/><circle cx="66.7" cy="21.6" r="1.12" fill="#0a204e"/><circle cx="65.9" cy="26.9" r="1.21" fill="#134887"/><circle cx="65.7" cy="30.4" r="1.21" fill="#124684"/><circle cx="65.1" cy="35.2" r="1.20" fill="#11407e"/><circle cx="64.1" cy="39.2" r="1.24" fill="#175999"/><circle cx="64.2" cy="42.9" r="1.27" fill="#1967a0"/><circle cx="61.8" cy="51.0" r="1.23" fill="#165494"/><circle cx="62.2" cy="54.9" r="1.20" fill="#11407d"/><circle cx="61.2" cy="58.9" r="1.19" fill="#103c79"/><circle cx="61.1" cy="63.2" r="1.21" fill="#134887"/><circle cx="59.1" cy="67.5" r="1.24" fill="#165696"/><circle cx="59.1" cy="71.7" r="1.20" fill="#11417e"/><circle cx="57.4" cy="75.0" r="1.33" fill="#1e92a0"/><circle cx="57.6" cy="80.0" r="1.32" fill="#1c88a0"/><circle cx="55.9" cy="84.4" r="1.34" fill="#1f989d"/><circle cx="56.0" cy="88.2" r="1.23" fill="#165494"/><circle cx="55.2" cy="91.9" r="1.26" fill="#1860a0"/><circle cx="54.4" cy="95.3" r="1.24" fill="#165898"/><circle cx="53.3" cy="100.6" r="1.29" fill="#1b77a0"/><circle cx="51.1" cy="104.6" r="1.34" fill="#1f979e"/><circle cx="51.3" cy="107.6" r="1.40" fill="#2eb174"/><circle cx="48.8" cy="113.0" r="1.30" fill="#1b7da0"/><circle cx="71.5" cy="2.2" r="1.19" fill="#103b78"/><circle cx="71.1" cy="7.1" r="1.23" fill="#165595"/><circle cx="71.0" cy="10.0" r="1.13" fill="#0b2556"/><circle cx="70.6" cy="14.1" r="1.21" fill="#124684"/><circle cx="70.6" cy="19.5" r="1.13" fill="#0a2251"/><circle cx="69.7" cy="22.6" r="1.18" fill="#0f3673"/><circle cx="69.1" cy="27.2" r="1.14" fill="#0c285c"/><circle cx="68.4" cy="31.6" r="1.13" fill="#0a2353"/><circle cx="68.7" cy="35.3" r="1.25" fill="#185f9f"/><circle cx="67.9" cy="39.3" r="1.22" fill="#144c8b"/><circle cx="67.3" cy="48.1" r="1.17" fill="#0e3470"/><circle cx="65.5" cy="51.9" r="1.28" fill="#1a6fa0"/><circle cx="65.3" cy="55.6" r="1.28" fill="#1a72a0"/><circle cx="64.9" cy="60.3" r="1.19" fill="#103d7a"/><circle cx="63.9" cy="63.3" r="1.23" fill="#165494"/><circle cx="64.0" cy="67.7" r="1.30" fill="#1b7ea0"/><circle cx="63.1" cy="71.6" r="1.23" fill="#155393"/><circle cx="61.2" cy="75.6" r="1.24" fill="#165595"/><circle cx="61.5" cy="79.8" r="1.30" fill="#1b7aa0"/><circle cx="59.5" cy="83.7" r="1.29" fill="#1b79a0"/><circle cx="59.1" cy="88.3" r="1.28" fill="#1a72a0"/><circle cx="57.9" cy="92.1" r="1.26" fill="#1862a0"/><circle cx="56.7" cy="96.5" r="1.35" fill="#229d95"/><circle cx="56.8" cy="101.5" r="1.27" fill="#1968a0"/><circle cx="54.2" cy="108.3" r="1.34" fill="#1e96a0"/><circle cx="52.8" cy="113.5" r="1.36" fill="#239f92"/><circle cx="52.1" cy="117.2" r="1.32" fill="#1d89a0"/><circle cx="50.1" cy="121.4" r="1.42" fill="#35bc63"/><circle cx="22.3" cy="60.9" r="1.53" fill="#39c358"/><circle cx="62.6" cy="51.6" r="1.65" fill="#39c358"/><circle cx="60.4" cy="62.0" r="1.53" fill="#34bc64"/><circle cx="58.8" cy="76.2" r="1.53" fill="#39c358"/><circle cx="41.9" cy="87.3" r="1.53" fill="#39c358"/><circle cx="50.1" cy="91.1" r="1.53" fill="#41ca4e"/><circle cx="43.5" cy="94.3" r="1.53" fill="#39c358"/><circle cx="38.6" cy="103.0" r="1.65" fill="#5ad345"/><circle cx="42.4" cy="102.3" r="1.53" fill="#4ecf49"/><circle cx="46.8" cy="106.6" r="1.42" fill="#39c358"/><circle cx="55.5" cy="81.8" r="1.42" fill="#34bc64"/><circle cx="47.9" cy="122.1" r="1.30" fill="#f3f865"/><circle cx="31.6" cy="101.4" r="1.18" fill="#eff645"/><circle cx="54.4" cy="106.9" r="1.18" fill="#eff645"/></g></g><g id="b01m"><path d="M8.2 -6.0C8.3 -5.0 8.3 -5.8 8.7 0.0C9.2 5.8 9.8 19.8 10.9 28.5C12.0 37.3 13.6 44.8 15.2 52.4C16.9 60.1 18.7 67.3 20.7 74.2C22.7 81.1 25.0 87.8 27.2 93.8C29.4 99.8 31.6 105.2 33.7 110.1C35.9 115.0 38.8 120.5 40.3 123.2C41.7 125.9 41.4 125.5 42.3 126.2C43.2 127.0 44.6 127.7 45.7 127.7C46.8 127.7 48.3 126.5 49.1 126.2C49.9 126.0 49.9 127.0 50.6 126.4C51.3 125.9 52.0 126.4 53.3 123.2C54.7 119.9 57.1 112.7 58.8 106.9C60.4 101.1 61.7 95.1 63.1 88.4C64.6 81.6 66.0 74.8 67.5 66.6C68.9 58.4 70.4 50.5 71.8 39.4C73.3 28.3 75.3 7.6 76.2 0.0C77.1 -7.6 77.1 -5.0 77.3 -6.0Z" fill="#3a0a6a" opacity="0.25" filter="url(#bl3)"/><g opacity="0.62" fill="none" stroke="#ee1cf0"><path d="M8.9 -6.0C9.0 -5.0 9.0 -5.8 9.4 0.0C9.9 5.8 10.5 19.8 11.6 28.5C12.7 37.3 14.3 44.8 15.9 52.4C17.6 60.1 19.4 67.3 21.4 74.2C23.4 81.1 25.7 87.8 27.9 93.8C30.1 99.8 32.3 105.2 34.4 110.1C36.6 115.0 39.1 120.4 41.0 123.2C42.8 126.0 44.2 126.3 45.7 126.9C47.2 127.4 48.7 127.1 49.9 126.4C51.1 125.8 51.3 126.4 52.6 123.2C54.0 119.9 56.4 112.7 58.1 106.9C59.7 101.1 61.0 95.1 62.4 88.4C63.9 81.6 65.3 74.8 66.8 66.6C68.2 58.4 69.7 50.5 71.1 39.4C72.6 28.3 74.6 7.6 75.5 0.0C76.4 -7.6 76.4 -5.0 76.6 -6.0" stroke-width="4.2" opacity="0.3" filter="url(#bl15)"/><g filter="url(#bl07)"><path d="M8.9 -6.0C9.0 -5.0 9.0 -5.8 9.4 0.0C9.9 5.8 10.5 19.8 11.6 28.5C12.7 37.3 14.3 44.8 15.9 52.4C17.6 60.1 19.4 67.3 21.4 74.2C23.4 81.1 25.7 87.8 27.9 93.8C30.1 99.8 32.3 105.2 34.4 110.1C36.6 115.0 39.1 120.4 41.0 123.2C42.8 126.0 44.2 126.3 45.7 126.9C47.2 127.4 48.7 127.1 49.9 126.4C51.1 125.8 51.3 126.4 52.6 123.2C54.0 119.9 56.4 112.7 58.1 106.9C59.7 101.1 61.0 95.1 62.4 88.4C63.9 81.6 65.3 74.8 66.8 66.6C68.2 58.4 69.7 50.5 71.1 39.4C72.6 28.3 74.6 7.6 75.5 0.0C76.4 -7.6 76.4 -5.0 76.6 -6.0" stroke-width="2.2"/><path d="M14.0 -6.0C14.1 -5.0 14.1 -5.8 14.5 0.0C15.0 5.8 15.6 19.8 16.7 28.5C17.8 37.3 19.4 44.8 21.0 52.4C22.7 60.1 24.5 67.3 26.5 74.2C28.5 81.1 30.8 87.8 33.0 93.8C35.2 99.8 37.4 105.2 39.5 110.1C41.7 115.0 45.0 121.4 46.1 123.2C47.1 124.9 45.9 120.0 45.7 120.5C45.5 121.0 44.5 126.0 44.8 126.4C45.1 126.9 46.2 126.4 47.5 123.2C48.9 119.9 51.3 112.7 53.0 106.9C54.6 101.1 55.9 95.1 57.3 88.4C58.8 81.6 60.2 74.8 61.7 66.6C63.1 58.4 64.6 50.5 66.0 39.4C67.5 28.3 69.5 7.6 70.4 0.0C71.3 -7.6 71.3 -5.0 71.5 -6.0" stroke-width="1.0" opacity="0.6"/><path d="M18.4 -6.0C18.5 -5.0 18.5 -5.8 18.9 0.0C19.4 5.8 20.0 19.8 21.1 28.5C22.2 37.3 23.8 44.8 25.4 52.4C27.1 60.1 28.9 67.3 30.9 74.2C32.9 81.1 35.2 87.8 37.4 93.8C39.6 99.8 41.8 105.2 43.9 110.1C46.1 115.0 50.2 122.4 50.5 123.2C50.8 124.0 47.4 114.5 45.7 115.0C44.0 115.5 40.8 125.1 40.4 126.4C40.0 127.8 41.8 126.4 43.1 123.2C44.5 119.9 46.9 112.7 48.6 106.9C50.2 101.1 51.5 95.1 52.9 88.4C54.4 81.6 55.8 74.8 57.3 66.6C58.7 58.4 60.2 50.5 61.6 39.4C63.1 28.3 65.1 7.6 66.0 0.0C66.9 -7.6 66.9 -5.0 67.1 -6.0" stroke-width="0.8" opacity="0.35"/><path d="M17.5 114q9 1 16 10q-9 1 -16 -10Z" fill="#ff30ff" stroke-width="2"/><path d="M3 64l6 -2M12 86l2 0.5M76 78q1 4 2 6M82 88q2 3 3 6M17 98l1 3" stroke-width="2" opacity="0.9"/><ellipse cx="43" cy="119" rx="2.4" ry="4" stroke-width="1.1"/><ellipse cx="50" cy="117" rx="2.4" ry="4" stroke-width="1.1"/></g></g></g><g id="b11d"><path d="M9.4 -6.0C9.5 -5.0 9.5 -5.8 9.8 0.0C10.1 5.8 10.9 18.3 11.4 28.5C12.0 38.7 12.7 50.3 13.1 61.2C13.4 72.0 13.3 83.8 13.6 93.8C13.9 103.8 14.1 114.1 14.7 121.0C15.2 127.9 16.3 132.0 16.9 135.1C17.5 138.3 17.5 138.6 18.4 139.6C19.2 140.6 20.6 141.1 21.8 141.1C22.9 141.1 23.6 140.4 25.2 139.6C26.7 138.8 28.5 139.3 31.0 136.2C33.5 133.1 36.6 127.0 40.3 121.0C43.9 115.0 48.8 107.0 52.8 100.3C56.8 93.6 60.8 88.0 64.2 80.7C67.6 73.5 70.5 65.5 73.2 56.8C76.0 48.1 78.6 38.0 80.5 28.5C82.5 19.0 84.0 5.8 84.9 0.0C85.8 -5.8 85.8 -5.0 86.0 -6.0Z" fill="#10307a" opacity="0.6" filter="url(#bl3)"/><g filter="url(#bl15)" opacity="0.45"><circle cx="27.7" cy="119.4" r="4.20" fill="#d9f22a"/><circle cx="20.7" cy="125.9" r="2.94" fill="#eff645"/><circle cx="31.6" cy="125.9" r="2.73" fill="#9be830"/><circle cx="38.4" cy="123.7" r="2.52" fill="#eff645"/><circle cx="51.7" cy="127.0" r="2.52" fill="#eff645"/><circle cx="35.9" cy="111.2" r="2.94" fill="#baed2d"/><circle cx="25.6" cy="109.0" r="2.73" fill="#abeb2f"/><circle cx="20.7" cy="104.1" r="2.73" fill="#8ce632"/><circle cx="39.7" cy="102.0" r="2.73" fill="#abeb2f"/><circle cx="43.5" cy="104.1" r="2.52" fill="#baed2d"/><circle cx="49.5" cy="92.7" r="2.94" fill="#eff645"/><circle cx="23.9" cy="87.8" r="2.94" fill="#baed2d"/><circle cx="19.6" cy="76.4" r="2.73" fill="#eff645"/><circle cx="15.2" cy="77.5" r="2.52" fill="#eff645"/><circle cx="14.7" cy="61.2" r="2.52" fill="#eff645"/><circle cx="14.7" cy="89.4" r="2.31" fill="#eff645"/><circle cx="64.2" cy="58.4" r="2.94" fill="#d9f22a"/><circle cx="57.7" cy="63.9" r="3.15" fill="#8ce632"/><circle cx="60.9" cy="67.7" r="2.73" fill="#d9f22a"/><circle cx="59.8" cy="55.2" r="2.94" fill="#73dd3b"/><circle cx="44.6" cy="80.7" r="3.15" fill="#5ad345"/><circle cx="52.2" cy="82.4" r="2.73" fill="#73dd3b"/><circle cx="41.9" cy="92.7" r="2.73" fill="#73dd3b"/><circle cx="35.4" cy="88.9" r="2.73" fill="#73dd3b"/><circle cx="23.4" cy="43.2" r="2.73" fill="#41ca4e"/><circle cx="18.0" cy="13.8" r="2.94" fill="#34bc64"/><circle cx="65.8" cy="35.0" r="2.94" fill="#34bc64"/></g><g filter="url(#bl05)"><circle cx="15.5" cy="1.0" r="1.33" fill="#1d8ea0"/><circle cx="15.3" cy="5.1" r="1.34" fill="#1f989d"/><circle cx="15.7" cy="8.9" r="1.28" fill="#1a71a0"/><circle cx="15.4" cy="13.2" r="1.38" fill="#28a785"/><circle cx="15.3" cy="17.8" r="1.33" fill="#1d90a0"/><circle cx="16.3" cy="21.2" r="1.25" fill="#175b9b"/><circle cx="15.9" cy="26.7" r="1.23" fill="#165494"/><circle cx="16.4" cy="30.2" r="1.41" fill="#30b470"/><circle cx="16.2" cy="34.3" r="1.35" fill="#229d95"/><circle cx="16.3" cy="38.8" r="1.26" fill="#1965a0"/><circle cx="17.0" cy="41.9" r="1.27" fill="#196aa0"/><circle cx="16.8" cy="46.9" r="1.33" fill="#1e92a0"/><circle cx="16.9" cy="50.9" r="1.30" fill="#1b7ba0"/><circle cx="17.2" cy="54.6" r="1.35" fill="#209a9a"/><circle cx="17.9" cy="58.7" r="1.35" fill="#229d95"/><circle cx="17.5" cy="62.8" r="1.37" fill="#27a589"/><circle cx="18.8" cy="66.2" r="1.43" fill="#36bd61"/><circle cx="18.3" cy="70.3" r="1.40" fill="#2fb372"/><circle cx="18.2" cy="74.9" r="1.46" fill="#3ec94f"/><circle cx="18.0" cy="78.9" r="1.46" fill="#43ca4e"/><circle cx="18.4" cy="82.9" r="1.41" fill="#31b56e"/><circle cx="18.2" cy="88.2" r="1.31" fill="#1c81a0"/><circle cx="19.2" cy="91.3" r="1.36" fill="#249f91"/><circle cx="18.2" cy="95.1" r="1.32" fill="#1d8aa0"/><circle cx="18.5" cy="99.3" r="1.48" fill="#53d147"/><circle cx="18.7" cy="104.2" r="1.50" fill="#5fd543"/><circle cx="19.3" cy="108.6" r="1.44" fill="#3ac457"/><circle cx="19.8" cy="111.8" r="1.44" fill="#39c358"/><circle cx="19.6" cy="116.6" r="1.53" fill="#76de3a"/><circle cx="19.8" cy="119.8" r="1.53" fill="#76de3a"/><circle cx="20.0" cy="123.9" r="1.46" fill="#41ca4e"/><circle cx="21.1" cy="127.8" r="1.42" fill="#33b968"/><circle cx="21.5" cy="132.3" r="1.47" fill="#4bce4a"/><circle cx="18.7" cy="2.8" r="1.27" fill="#196ca0"/><circle cx="19.3" cy="6.9" r="1.23" fill="#165494"/><circle cx="19.5" cy="11.8" r="1.25" fill="#175d9d"/><circle cx="19.7" cy="15.7" r="1.38" fill="#2aaa80"/><circle cx="19.4" cy="19.7" r="1.29" fill="#1a76a0"/><circle cx="19.3" cy="24.1" r="1.38" fill="#28a785"/><circle cx="19.6" cy="28.5" r="1.32" fill="#1d8ba0"/><circle cx="20.9" cy="32.6" r="1.41" fill="#30b470"/><circle cx="21.0" cy="35.8" r="1.24" fill="#165898"/><circle cx="20.9" cy="39.5" r="1.30" fill="#1b7fa0"/><circle cx="21.0" cy="44.4" r="1.38" fill="#2aaa81"/><circle cx="20.9" cy="48.7" r="1.42" fill="#34bb65"/><circle cx="22.1" cy="52.1" r="1.25" fill="#175b9c"/><circle cx="22.3" cy="60.6" r="1.43" fill="#35bc62"/><circle cx="22.5" cy="64.1" r="1.33" fill="#1d8fa0"/><circle cx="22.4" cy="69.3" r="1.45" fill="#3bc653"/><circle cx="22.0" cy="77.8" r="1.44" fill="#38c25a"/><circle cx="22.3" cy="81.7" r="1.37" fill="#27a489"/><circle cx="22.9" cy="85.2" r="1.42" fill="#34bb64"/><circle cx="22.8" cy="89.4" r="1.31" fill="#1c83a0"/><circle cx="21.9" cy="93.1" r="1.41" fill="#30b46f"/><circle cx="23.1" cy="97.2" r="1.37" fill="#25a28d"/><circle cx="22.8" cy="101.0" r="1.49" fill="#55d147"/><circle cx="23.1" cy="106.3" r="1.46" fill="#43cb4d"/><circle cx="23.4" cy="110.2" r="1.38" fill="#2aaa80"/><circle cx="23.0" cy="114.4" r="1.38" fill="#2aaa80"/><circle cx="23.3" cy="118.6" r="1.47" fill="#4acd4b"/><circle cx="24.1" cy="122.0" r="1.46" fill="#42ca4e"/><circle cx="29.8" cy="1.2" r="1.14" fill="#0c295d"/><circle cx="29.4" cy="11.0" r="1.15" fill="#0c2c62"/><circle cx="29.2" cy="16.1" r="1.24" fill="#175a9b"/><circle cx="28.7" cy="19.9" r="1.28" fill="#1a6fa0"/><circle cx="29.5" cy="25.2" r="1.16" fill="#0d2e66"/><circle cx="29.3" cy="29.3" r="1.21" fill="#134988"/><circle cx="29.7" cy="33.8" r="1.21" fill="#134785"/><circle cx="29.8" cy="38.2" r="1.30" fill="#1b7da0"/><circle cx="29.5" cy="42.4" r="1.21" fill="#134886"/><circle cx="28.3" cy="48.1" r="1.31" fill="#1c81a0"/><circle cx="28.8" cy="51.5" r="1.24" fill="#165797"/><circle cx="28.6" cy="60.7" r="1.32" fill="#1d8ca0"/><circle cx="26.7" cy="75.2" r="1.31" fill="#1c85a0"/><circle cx="25.6" cy="84.9" r="1.32" fill="#1d89a0"/><circle cx="24.9" cy="89.3" r="1.38" fill="#2aa981"/><circle cx="24.4" cy="94.2" r="1.34" fill="#1e979f"/><circle cx="24.2" cy="97.9" r="1.33" fill="#1e93a0"/><circle cx="24.3" cy="102.5" r="1.38" fill="#29a883"/><circle cx="22.4" cy="112.7" r="1.33" fill="#1d8ea0"/><circle cx="38.2" cy="2.6" r="1.13" fill="#0a2252"/><circle cx="37.8" cy="7.3" r="1.19" fill="#113e7c"/><circle cx="38.6" cy="13.2" r="1.27" fill="#196aa0"/><circle cx="38.6" cy="17.0" r="1.16" fill="#0d2f68"/><circle cx="37.9" cy="22.5" r="1.28" fill="#1a73a0"/><circle cx="37.2" cy="27.0" r="1.31" fill="#1c84a0"/><circle cx="37.2" cy="30.5" r="1.27" fill="#1969a0"/><circle cx="37.9" cy="34.9" r="1.18" fill="#0f3672"/><circle cx="36.5" cy="39.7" r="1.27" fill="#1968a0"/><circle cx="35.9" cy="45.1" r="1.20" fill="#124280"/><circle cx="36.8" cy="49.4" r="1.22" fill="#144d8c"/><circle cx="35.6" cy="54.4" r="1.35" fill="#219a99"/><circle cx="34.9" cy="63.1" r="1.34" fill="#1e979f"/><circle cx="33.2" cy="73.0" r="1.24" fill="#175999"/><circle cx="33.4" cy="77.7" r="1.34" fill="#1e96a0"/><circle cx="30.3" cy="90.1" r="1.40" fill="#2fb274"/><circle cx="30.3" cy="95.1" r="1.25" fill="#175b9b"/><circle cx="28.5" cy="100.0" r="1.30" fill="#1c80a0"/><circle cx="26.5" cy="109.9" r="1.33" fill="#1e93a0"/><circle cx="26.5" cy="113.6" r="1.36" fill="#24a18f"/><circle cx="47.5" cy="1.8" r="1.16" fill="#0e306b"/><circle cx="47.4" cy="7.1" r="1.23" fill="#155191"/><circle cx="47.4" cy="12.1" r="1.30" fill="#1b7da0"/><circle cx="46.4" cy="16.5" r="1.21" fill="#134887"/><circle cx="46.2" cy="20.3" r="1.27" fill="#1969a0"/><circle cx="45.8" cy="25.1" r="1.27" fill="#196aa0"/><circle cx="46.5" cy="30.0" r="1.29" fill="#1b79a0"/><circle cx="44.7" cy="34.2" r="1.32" fill="#1c88a0"/><circle cx="43.5" cy="47.4" r="1.32" fill="#1d8ba0"/><circle cx="42.8" cy="52.5" r="1.34" fill="#1e979f"/><circle cx="43.5" cy="56.7" r="1.21" fill="#134987"/><circle cx="41.5" cy="61.5" r="1.37" fill="#25a28c"/><circle cx="41.1" cy="66.7" r="1.35" fill="#219c97"/><circle cx="39.0" cy="75.8" r="1.36" fill="#239f92"/><circle cx="38.2" cy="79.7" r="1.37" fill="#26a489"/><circle cx="36.9" cy="85.2" r="1.34" fill="#1e94a0"/><circle cx="35.7" cy="89.9" r="1.29" fill="#1a76a0"/><circle cx="33.1" cy="103.9" r="1.30" fill="#1c7fa0"/><circle cx="30.1" cy="113.0" r="1.44" fill="#39c357"/><circle cx="28.6" cy="116.8" r="1.43" fill="#37c05d"/><circle cx="27.5" cy="121.5" r="1.31" fill="#1c81a0"/><circle cx="26.3" cy="126.1" r="1.46" fill="#40c94f"/><circle cx="56.0" cy="3.1" r="1.12" fill="#091f4c"/><circle cx="55.2" cy="6.1" r="1.31" fill="#1c81a0"/><circle cx="55.9" cy="12.3" r="1.14" fill="#0b2659"/><circle cx="54.7" cy="20.1" r="1.20" fill="#124381"/><circle cx="54.9" cy="25.3" r="1.16" fill="#0d2d66"/><circle cx="53.8" cy="30.5" r="1.30" fill="#1b7ba0"/><circle cx="53.6" cy="34.7" r="1.26" fill="#1863a0"/><circle cx="51.1" cy="49.0" r="1.34" fill="#1e969f"/><circle cx="50.7" cy="57.3" r="1.19" fill="#113f7d"/><circle cx="48.6" cy="62.3" r="1.36" fill="#239e92"/><circle cx="47.7" cy="66.0" r="1.35" fill="#219b98"/><circle cx="47.4" cy="70.9" r="1.28" fill="#1a70a0"/><circle cx="46.1" cy="75.3" r="1.26" fill="#1862a0"/><circle cx="45.2" cy="80.1" r="1.36" fill="#25a28e"/><circle cx="43.3" cy="85.5" r="1.24" fill="#165697"/><circle cx="42.3" cy="89.3" r="1.35" fill="#219b98"/><circle cx="39.6" cy="93.9" r="1.37" fill="#25a28d"/><circle cx="38.0" cy="98.4" r="1.34" fill="#1f989c"/><circle cx="36.4" cy="103.8" r="1.42" fill="#33ba67"/><circle cx="35.1" cy="108.6" r="1.32" fill="#1d89a0"/><circle cx="33.5" cy="112.1" r="1.38" fill="#29a883"/><circle cx="64.5" cy="2.4" r="1.20" fill="#11407d"/><circle cx="63.1" cy="21.0" r="1.28" fill="#1a70a0"/><circle cx="62.7" cy="26.0" r="1.27" fill="#196ba0"/><circle cx="61.9" cy="30.2" r="1.29" fill="#1a75a0"/><circle cx="61.3" cy="34.7" r="1.22" fill="#144d8c"/><circle cx="61.3" cy="38.3" r="1.20" fill="#124280"/><circle cx="59.3" cy="43.2" r="1.18" fill="#0f3774"/><circle cx="58.3" cy="53.4" r="1.30" fill="#1b7da0"/><circle cx="55.6" cy="61.4" r="1.35" fill="#229c96"/><circle cx="55.0" cy="66.9" r="1.32" fill="#1d89a0"/><circle cx="53.4" cy="72.0" r="1.28" fill="#1a73a0"/><circle cx="52.3" cy="75.2" r="1.33" fill="#1e93a0"/><circle cx="51.4" cy="80.0" r="1.25" fill="#185fa0"/><circle cx="48.6" cy="84.8" r="1.28" fill="#1a72a0"/><circle cx="47.6" cy="89.5" r="1.40" fill="#2eb175"/><circle cx="45.0" cy="94.3" r="1.28" fill="#1a72a0"/><circle cx="41.1" cy="103.5" r="1.29" fill="#1b78a0"/><circle cx="39.4" cy="107.3" r="1.27" fill="#196aa0"/><circle cx="75.6" cy="3.7" r="1.39" fill="#2cad7b"/><circle cx="74.9" cy="7.2" r="1.22" fill="#144d8c"/><circle cx="74.7" cy="10.9" r="1.23" fill="#155393"/><circle cx="74.1" cy="14.6" r="1.36" fill="#239f92"/><circle cx="73.0" cy="18.7" r="1.22" fill="#144d8b"/><circle cx="73.2" cy="23.5" r="1.23" fill="#155190"/><circle cx="71.6" cy="27.0" r="1.25" fill="#175c9c"/><circle cx="71.3" cy="31.0" r="1.40" fill="#2daf78"/><circle cx="69.7" cy="36.3" r="1.39" fill="#2bab7e"/><circle cx="69.1" cy="39.8" r="1.33" fill="#1d8fa0"/><circle cx="68.2" cy="43.7" r="1.42" fill="#33b968"/><circle cx="66.8" cy="48.5" r="1.27" fill="#196ba0"/><circle cx="66.1" cy="52.1" r="1.33" fill="#1d8fa0"/><circle cx="64.1" cy="56.8" r="1.28" fill="#1a70a0"/><circle cx="63.2" cy="59.7" r="1.44" fill="#38c25a"/><circle cx="61.1" cy="64.6" r="1.45" fill="#3bc653"/><circle cx="59.4" cy="69.2" r="1.29" fill="#1b79a0"/><circle cx="58.0" cy="72.4" r="1.31" fill="#1c86a0"/><circle cx="56.4" cy="76.1" r="1.32" fill="#1d8aa0"/><circle cx="55.7" cy="81.6" r="1.31" fill="#1c82a0"/><circle cx="53.3" cy="85.0" r="1.38" fill="#2aa981"/><circle cx="51.2" cy="88.7" r="1.47" fill="#4bce4a"/><circle cx="48.6" cy="93.0" r="1.32" fill="#1c88a0"/><circle cx="43.2" cy="101.4" r="1.36" fill="#25a18e"/><circle cx="40.2" cy="105.1" r="1.36" fill="#239e92"/><circle cx="38.4" cy="109.1" r="1.52" fill="#6bda3e"/><circle cx="35.8" cy="113.4" r="1.40" fill="#2eb176"/><circle cx="33.7" cy="118.5" r="1.40" fill="#2eb076"/><circle cx="30.9" cy="122.4" r="1.38" fill="#29a982"/><circle cx="79.1" cy="0.4" r="1.23" fill="#15508f"/><circle cx="79.0" cy="5.5" r="1.21" fill="#134886"/><circle cx="78.6" cy="8.6" r="1.39" fill="#2cae7a"/><circle cx="78.4" cy="13.1" r="1.24" fill="#165797"/><circle cx="77.1" cy="17.7" r="1.29" fill="#1b79a0"/><circle cx="76.7" cy="22.2" r="1.34" fill="#1e94a0"/><circle cx="76.4" cy="25.5" r="1.24" fill="#165696"/><circle cx="74.1" cy="34.1" r="1.26" fill="#1964a0"/><circle cx="73.2" cy="38.2" r="1.30" fill="#1b7ea0"/><circle cx="71.9" cy="41.4" r="1.30" fill="#1b7ca0"/><circle cx="71.5" cy="46.3" r="1.25" fill="#185d9e"/><circle cx="70.0" cy="49.8" r="1.32" fill="#1c87a0"/><circle cx="68.5" cy="54.5" r="1.35" fill="#219b99"/><circle cx="67.8" cy="57.8" r="1.44" fill="#38c25a"/><circle cx="65.6" cy="62.5" r="1.32" fill="#1d8aa0"/><circle cx="64.4" cy="67.4" r="1.41" fill="#32b76b"/><circle cx="63.2" cy="71.5" r="1.30" fill="#1b7da0"/><circle cx="61.3" cy="74.4" r="1.33" fill="#1e93a0"/><circle cx="60.5" cy="79.5" r="1.30" fill="#1b7ca0"/><circle cx="58.0" cy="83.2" r="1.42" fill="#34ba66"/><circle cx="55.4" cy="87.1" r="1.39" fill="#2cad7b"/><circle cx="53.2" cy="91.0" r="1.42" fill="#32b86a"/><circle cx="51.3" cy="95.9" r="1.46" fill="#3ec94f"/><circle cx="48.0" cy="99.7" r="1.46" fill="#40c94f"/><circle cx="45.2" cy="104.5" r="1.51" fill="#67d840"/><circle cx="43.3" cy="108.5" r="1.39" fill="#2daf78"/><circle cx="41.0" cy="112.3" r="1.49" fill="#55d246"/><circle cx="38.4" cy="115.6" r="1.36" fill="#24a18f"/><circle cx="36.5" cy="119.5" r="1.51" fill="#62d642"/><circle cx="33.3" cy="124.7" r="1.41" fill="#32b86a"/><circle cx="31.4" cy="127.8" r="1.45" fill="#3cc850"/><circle cx="28.8" cy="131.8" r="1.57" fill="#94e731"/><circle cx="27.7" cy="119.4" r="2.36" fill="#d9f22a"/><circle cx="20.7" cy="125.9" r="1.65" fill="#fefeee"/><circle cx="31.6" cy="125.9" r="1.53" fill="#9be830"/><circle cx="38.4" cy="123.7" r="1.42" fill="#fdfddc"/><circle cx="51.7" cy="127.0" r="1.42" fill="#fefeee"/><circle cx="35.9" cy="111.2" r="1.65" fill="#baed2d"/><circle cx="25.6" cy="109.0" r="1.53" fill="#abeb2f"/><circle cx="20.7" cy="104.1" r="1.53" fill="#8ce632"/><circle cx="39.7" cy="102.0" r="1.53" fill="#abeb2f"/><circle cx="43.5" cy="104.1" r="1.42" fill="#baed2d"/><circle cx="49.5" cy="92.7" r="1.65" fill="#f6f976"/><circle cx="23.9" cy="87.8" r="1.65" fill="#baed2d"/><circle cx="19.6" cy="76.4" r="1.53" fill="#eff645"/><circle cx="15.2" cy="77.5" r="1.42" fill="#fefeee"/><circle cx="14.7" cy="61.2" r="1.42" fill="#fdfddc"/><circle cx="14.7" cy="89.4" r="1.30" fill="#fcfcca"/><circle cx="64.2" cy="58.4" r="1.65" fill="#d9f22a"/><circle cx="57.7" cy="63.9" r="1.77" fill="#8ce632"/><circle cx="60.9" cy="67.7" r="1.53" fill="#d9f22a"/><circle cx="59.8" cy="55.2" r="1.65" fill="#73dd3b"/><circle cx="44.6" cy="80.7" r="1.77" fill="#5ad345"/><circle cx="52.2" cy="82.4" r="1.53" fill="#73dd3b"/><circle cx="41.9" cy="92.7" r="1.53" fill="#73dd3b"/><circle cx="35.4" cy="88.9" r="1.53" fill="#73dd3b"/><circle cx="23.4" cy="43.2" r="1.53" fill="#41ca4e"/><circle cx="18.0" cy="13.8" r="1.65" fill="#34bc64"/><circle cx="72.4" cy="19.3" r="1.77" fill="#2bac7d"/><circle cx="65.8" cy="35.0" r="1.65" fill="#34bc64"/></g></g><g id="b11m"><path d="M9.4 -6.0C9.5 -5.0 9.5 -5.8 9.8 0.0C10.1 5.8 10.9 18.3 11.4 28.5C12.0 38.7 12.7 50.3 13.1 61.2C13.4 72.0 13.3 83.8 13.6 93.8C13.9 103.8 14.1 114.1 14.7 121.0C15.2 127.9 16.3 132.0 16.9 135.1C17.5 138.3 17.5 138.6 18.4 139.6C19.2 140.6 20.6 141.1 21.8 141.1C22.9 141.1 23.6 140.4 25.2 139.6C26.7 138.8 28.5 139.3 31.0 136.2C33.5 133.1 36.6 127.0 40.3 121.0C43.9 115.0 48.8 107.0 52.8 100.3C56.8 93.6 60.8 88.0 64.2 80.7C67.6 73.5 70.5 65.5 73.2 56.8C76.0 48.1 78.6 38.0 80.5 28.5C82.5 19.0 84.0 5.8 84.9 0.0C85.8 -5.8 85.8 -5.0 86.0 -6.0Z" fill="#3a0a6a" opacity="0.3" filter="url(#bl3)"/><g opacity="1.0" fill="none" stroke="#ee1cf0"><path d="M10.7 -6.0C10.8 -5.0 10.8 -5.8 11.1 0.0C11.4 5.8 12.2 18.3 12.7 28.5C13.3 38.7 14.0 50.3 14.4 61.2C14.7 72.0 14.6 83.8 14.9 93.8C15.2 103.8 15.4 114.1 16.0 121.0C16.5 127.9 17.2 132.1 18.2 135.1C19.1 138.2 19.8 139.3 21.8 139.5C23.7 139.7 26.8 139.3 29.7 136.2C32.6 133.2 35.3 127.0 39.0 121.0C42.6 115.0 47.5 107.0 51.5 100.3C55.5 93.6 59.5 88.0 62.9 80.7C66.3 73.5 69.2 65.5 71.9 56.8C74.7 48.1 77.3 38.0 79.2 28.5C81.2 19.0 82.7 5.8 83.6 0.0C84.5 -5.8 84.5 -5.0 84.7 -6.0" stroke-width="6.5" opacity="0.3" filter="url(#bl15)"/><g filter="url(#bl07)"><path d="M10.7 -6.0C10.8 -5.0 10.8 -5.8 11.1 0.0C11.4 5.8 12.2 18.3 12.7 28.5C13.3 38.7 14.0 50.3 14.4 61.2C14.7 72.0 14.6 83.8 14.9 93.8C15.2 103.8 15.4 114.1 16.0 121.0C16.5 127.9 17.2 132.1 18.2 135.1C19.1 138.2 19.8 139.3 21.8 139.5C23.7 139.7 26.8 139.3 29.7 136.2C32.6 133.2 35.3 127.0 39.0 121.0C42.6 115.0 47.5 107.0 51.5 100.3C55.5 93.6 59.5 88.0 62.9 80.7C66.3 73.5 69.2 65.5 71.9 56.8C74.7 48.1 77.3 38.0 79.2 28.5C81.2 19.0 82.7 5.8 83.6 0.0C84.5 -5.8 84.5 -5.0 84.7 -6.0" stroke-width="3.4"/><path d="M16.4 -6.0C16.5 -5.0 16.5 -5.8 16.8 0.0C17.1 5.8 17.9 18.3 18.4 28.5C19.0 38.7 19.7 50.3 20.1 61.2C20.4 72.0 20.3 83.8 20.6 93.8C20.9 103.8 21.1 114.1 21.7 121.0C22.2 127.9 23.9 133.3 23.9 135.1C23.9 137.0 21.7 132.2 21.8 132.4C21.8 132.6 22.1 138.1 24.0 136.2C25.9 134.3 29.6 127.0 33.3 121.0C36.9 115.0 41.8 107.0 45.8 100.3C49.8 93.6 53.8 88.0 57.2 80.7C60.6 73.5 63.5 65.5 66.2 56.8C69.0 48.1 71.6 38.0 73.5 28.5C75.5 19.0 77.0 5.8 77.9 0.0C78.8 -5.8 78.8 -5.0 79.0 -6.0" stroke-width="1.0" opacity="0.6"/><path d="M20.8 -6.0C20.9 -5.0 20.9 -5.8 21.2 0.0C21.5 5.8 22.3 18.3 22.8 28.5C23.4 38.7 24.1 50.3 24.5 61.2C24.8 72.0 24.7 83.8 25.0 93.8C25.3 103.8 25.5 114.1 26.1 121.0C26.6 127.9 29.0 134.2 28.3 135.1C27.5 136.1 23.2 126.7 21.8 126.9C20.3 127.1 18.4 137.2 19.6 136.2C20.8 135.3 25.2 127.0 28.9 121.0C32.5 115.0 37.4 107.0 41.4 100.3C45.4 93.6 49.4 88.0 52.8 80.7C56.2 73.5 59.1 65.5 61.8 56.8C64.6 48.1 67.2 38.0 69.1 28.5C71.1 19.0 72.6 5.8 73.5 0.0C74.4 -5.8 74.4 -5.0 74.6 -6.0" stroke-width="0.8" opacity="0.35"/><path d="M37 121q7 -4 12 0q6 6 4 12q-4 3 -7 -3q-3 -7 -9 -5" stroke-width="1.3"/><path d="M48 104q2 6 1 12l4 -10" stroke-width="2" opacity="0.9"/><path d="M12.5 50q1 44 6 86" stroke-width="3.6" opacity="0.9"/><ellipse cx="18" cy="129" rx="3" ry="5.6" stroke-width="1"/><ellipse cx="28" cy="132" rx="3" ry="5.6" stroke-width="1" transform="rotate(20 28 132)"/></g></g></g><g id="e00d"><path d="M12.5 -6.0C12.6 -5.0 12.6 -4.8 13.1 0.0C13.5 4.8 14.3 15.2 15.2 22.6C16.1 30.0 17.2 37.1 18.5 44.4C19.8 51.7 21.3 58.9 22.9 66.2C24.4 73.4 26.0 81.2 27.7 87.9C29.5 94.6 31.6 101.0 33.2 106.4C34.7 111.9 35.5 116.9 37.0 120.6C38.4 124.2 40.5 126.9 41.9 128.4C43.3 129.9 44.1 129.1 45.2 129.5C46.4 129.9 47.5 131.0 48.6 131.0C49.8 131.0 50.8 130.1 52.0 129.5C53.3 128.9 54.6 129.3 56.0 127.3C57.4 125.3 58.8 122.1 60.4 117.3C62.0 112.5 64.0 105.5 65.8 98.8C67.6 92.1 69.6 85.2 71.3 77.0C72.9 68.9 74.4 58.9 75.6 49.8C76.8 40.8 77.7 30.9 78.3 22.6C79.0 14.3 79.2 4.8 79.4 0.0C79.7 -4.8 79.7 -5.0 79.7 -6.0Z" fill="#10307a" opacity="0.42" filter="url(#bl3)"/><g filter="url(#bl15)" opacity="0.45"><circle cx="43.0" cy="118.4" r="3.99" fill="#eff645"/><circle cx="47.3" cy="123.3" r="3.15" fill="#eff645"/><circle cx="52.2" cy="114.0" r="3.36" fill="#eff645"/><circle cx="57.1" cy="111.9" r="2.73" fill="#eff645"/><circle cx="53.9" cy="118.9" r="2.52" fill="#e8f528"/><circle cx="46.2" cy="115.7" r="2.73" fill="#eff645"/><circle cx="40.8" cy="97.7" r="3.15" fill="#73dd3b"/><circle cx="48.4" cy="101.5" r="3.15" fill="#73dd3b"/><circle cx="57.1" cy="96.6" r="2.94" fill="#5ad345"/><circle cx="30.5" cy="88.5" r="2.73" fill="#eff645"/><circle cx="19.0" cy="22.1" r="2.52" fill="#eff645"/><circle cx="19.6" cy="28.6" r="2.31" fill="#eff645"/><circle cx="38.1" cy="109.1" r="2.31" fill="#eff645"/><circle cx="35.9" cy="105.9" r="2.31" fill="#eff645"/><circle cx="60.4" cy="105.3" r="2.31" fill="#e8f528"/><circle cx="29.9" cy="69.4" r="2.73" fill="#41ca4e"/><circle cx="69.1" cy="69.4" r="2.73" fill="#34bc64"/><circle cx="44.6" cy="87.9" r="2.52" fill="#39c358"/><circle cx="52.8" cy="87.9" r="2.52" fill="#39c358"/></g><g filter="url(#bl05)"><circle cx="16.8" cy="4.7" r="1.32" fill="#1d8ba0"/><circle cx="17.9" cy="8.6" r="1.34" fill="#1f989d"/><circle cx="18.7" cy="15.8" r="1.27" fill="#196aa0"/><circle cx="19.3" cy="20.9" r="1.26" fill="#1861a0"/><circle cx="19.9" cy="24.4" r="1.26" fill="#1862a0"/><circle cx="19.8" cy="27.8" r="1.29" fill="#1b79a0"/><circle cx="20.6" cy="33.3" r="1.28" fill="#1a72a0"/><circle cx="21.7" cy="37.5" r="1.29" fill="#1b78a0"/><circle cx="21.1" cy="40.2" r="1.37" fill="#27a589"/><circle cx="22.7" cy="45.2" r="1.37" fill="#27a687"/><circle cx="23.8" cy="48.4" r="1.32" fill="#1c87a0"/><circle cx="24.0" cy="53.6" r="1.26" fill="#1861a0"/><circle cx="24.9" cy="56.7" r="1.31" fill="#1c84a0"/><circle cx="26.2" cy="65.9" r="1.30" fill="#1b7aa0"/><circle cx="27.2" cy="69.4" r="1.39" fill="#2dae79"/><circle cx="28.7" cy="73.6" r="1.40" fill="#2eb175"/><circle cx="29.1" cy="78.2" r="1.35" fill="#20999b"/><circle cx="30.4" cy="86.5" r="1.33" fill="#1d8ea0"/><circle cx="33.3" cy="94.9" r="1.37" fill="#26a38c"/><circle cx="35.1" cy="98.3" r="1.31" fill="#1c85a0"/><circle cx="35.9" cy="102.6" r="1.42" fill="#33b968"/><circle cx="36.3" cy="106.1" r="1.33" fill="#1d8ea0"/><circle cx="37.9" cy="110.7" r="1.37" fill="#27a687"/><circle cx="38.9" cy="115.1" r="1.41" fill="#31b66d"/><circle cx="40.8" cy="117.9" r="1.46" fill="#41ca4e"/><circle cx="42.0" cy="122.8" r="1.39" fill="#2bac7d"/><circle cx="20.6" cy="2.1" r="1.36" fill="#239e93"/><circle cx="20.9" cy="5.7" r="1.26" fill="#1965a0"/><circle cx="21.0" cy="9.1" r="1.27" fill="#1968a0"/><circle cx="21.4" cy="14.3" r="1.32" fill="#1d8da0"/><circle cx="22.9" cy="17.2" r="1.27" fill="#196aa0"/><circle cx="23.1" cy="22.0" r="1.27" fill="#196ca0"/><circle cx="23.2" cy="26.5" r="1.36" fill="#229d94"/><circle cx="23.5" cy="30.4" r="1.34" fill="#1f979e"/><circle cx="24.7" cy="34.3" r="1.33" fill="#1d8ea0"/><circle cx="24.8" cy="38.4" r="1.29" fill="#1a76a0"/><circle cx="25.8" cy="42.4" r="1.26" fill="#1861a0"/><circle cx="26.9" cy="46.3" r="1.34" fill="#1f989d"/><circle cx="27.6" cy="50.5" r="1.39" fill="#2bab7f"/><circle cx="27.8" cy="55.5" r="1.27" fill="#1969a0"/><circle cx="29.3" cy="59.3" r="1.38" fill="#2aaa80"/><circle cx="29.4" cy="63.2" r="1.35" fill="#219b98"/><circle cx="30.7" cy="67.6" r="1.37" fill="#25a28d"/><circle cx="32.1" cy="70.4" r="1.29" fill="#1b77a0"/><circle cx="33.0" cy="75.0" r="1.33" fill="#1e92a0"/><circle cx="33.4" cy="79.3" r="1.35" fill="#219b99"/><circle cx="34.2" cy="83.3" r="1.37" fill="#26a38c"/><circle cx="37.0" cy="95.5" r="1.43" fill="#37bf5e"/><circle cx="39.1" cy="100.6" r="1.33" fill="#1d90a0"/><circle cx="39.4" cy="103.9" r="1.38" fill="#28a686"/><circle cx="41.1" cy="108.5" r="1.43" fill="#36bd61"/><circle cx="42.7" cy="111.6" r="1.41" fill="#31b66c"/><circle cx="45.2" cy="120.4" r="1.40" fill="#2fb273"/><circle cx="30.8" cy="2.6" r="1.10" fill="#081840"/><circle cx="31.0" cy="6.9" r="1.17" fill="#0e326e"/><circle cx="31.8" cy="17.0" r="1.10" fill="#081941"/><circle cx="31.8" cy="20.6" r="1.21" fill="#124584"/><circle cx="31.4" cy="25.8" r="1.22" fill="#134a89"/><circle cx="32.9" cy="31.0" r="1.11" fill="#091c47"/><circle cx="32.5" cy="34.6" r="1.21" fill="#124684"/><circle cx="33.3" cy="39.3" r="1.22" fill="#144b8a"/><circle cx="33.9" cy="44.5" r="1.17" fill="#0e306b"/><circle cx="35.2" cy="53.0" r="1.18" fill="#0f3572"/><circle cx="34.5" cy="57.3" r="1.14" fill="#0c285c"/><circle cx="35.7" cy="61.7" r="1.17" fill="#0e326e"/><circle cx="35.7" cy="66.5" r="1.24" fill="#17599a"/><circle cx="36.1" cy="71.1" r="1.22" fill="#144e8d"/><circle cx="38.3" cy="86.1" r="1.25" fill="#185fa0"/><circle cx="39.0" cy="90.4" r="1.26" fill="#1966a0"/><circle cx="39.4" cy="99.6" r="1.32" fill="#1d8ca0"/><circle cx="40.6" cy="103.8" r="1.27" fill="#196aa0"/><circle cx="38.2" cy="3.0" r="1.12" fill="#091e49"/><circle cx="39.0" cy="31.0" r="1.15" fill="#0c2b61"/><circle cx="40.1" cy="34.2" r="1.11" fill="#091d48"/><circle cx="40.6" cy="39.3" r="1.19" fill="#103b78"/><circle cx="40.8" cy="43.5" r="1.16" fill="#0d2d66"/><circle cx="41.4" cy="49.4" r="1.16" fill="#0e306a"/><circle cx="40.9" cy="58.1" r="1.20" fill="#124280"/><circle cx="42.2" cy="67.2" r="1.24" fill="#175999"/><circle cx="42.7" cy="72.5" r="1.19" fill="#103c79"/><circle cx="42.9" cy="90.6" r="1.26" fill="#1863a0"/><circle cx="44.4" cy="94.4" r="1.33" fill="#1d91a0"/><circle cx="45.8" cy="4.1" r="1.11" fill="#081b45"/><circle cx="46.8" cy="7.9" r="1.14" fill="#0b2557"/><circle cx="46.4" cy="13.3" r="1.16" fill="#0d306a"/><circle cx="47.0" cy="17.4" r="1.18" fill="#103976"/><circle cx="47.4" cy="21.2" r="1.21" fill="#134886"/><circle cx="46.4" cy="26.6" r="1.11" fill="#091d48"/><circle cx="47.0" cy="31.3" r="1.11" fill="#081c46"/><circle cx="47.3" cy="36.2" r="1.19" fill="#103c79"/><circle cx="47.4" cy="48.9" r="1.13" fill="#0a2252"/><circle cx="48.1" cy="58.6" r="1.21" fill="#134786"/><circle cx="47.5" cy="67.4" r="1.23" fill="#155292"/><circle cx="48.2" cy="73.0" r="1.22" fill="#144b8a"/><circle cx="48.1" cy="76.3" r="1.28" fill="#1a71a0"/><circle cx="47.9" cy="81.0" r="1.30" fill="#1b7da0"/><circle cx="47.8" cy="85.6" r="1.32" fill="#1d8ba0"/><circle cx="48.5" cy="91.1" r="1.20" fill="#11417f"/><circle cx="47.6" cy="95.9" r="1.30" fill="#1c7fa0"/><circle cx="47.9" cy="100.8" r="1.32" fill="#1d88a0"/><circle cx="48.4" cy="109.6" r="1.28" fill="#1a6fa0"/><circle cx="48.9" cy="114.2" r="1.32" fill="#1d8ba0"/><circle cx="48.6" cy="117.7" r="1.38" fill="#2aaa80"/><circle cx="47.9" cy="122.8" r="1.31" fill="#1c84a0"/><circle cx="53.6" cy="2.9" r="1.11" fill="#081a42"/><circle cx="54.3" cy="8.0" r="1.15" fill="#0c2a60"/><circle cx="54.9" cy="12.3" r="1.12" fill="#091f4c"/><circle cx="54.8" cy="17.2" r="1.17" fill="#0e336f"/><circle cx="53.7" cy="22.7" r="1.12" fill="#091f4b"/><circle cx="53.7" cy="26.2" r="1.19" fill="#113f7d"/><circle cx="54.7" cy="30.8" r="1.22" fill="#144c8b"/><circle cx="54.6" cy="36.4" r="1.20" fill="#124482"/><circle cx="54.4" cy="40.9" r="1.20" fill="#11417e"/><circle cx="54.3" cy="59.3" r="1.27" fill="#1969a0"/><circle cx="54.6" cy="64.1" r="1.21" fill="#134887"/><circle cx="53.3" cy="67.3" r="1.27" fill="#196ba0"/><circle cx="54.2" cy="72.4" r="1.28" fill="#1a6ea0"/><circle cx="54.1" cy="82.1" r="1.19" fill="#113f7c"/><circle cx="52.2" cy="94.7" r="1.33" fill="#1d8fa0"/><circle cx="51.9" cy="100.5" r="1.35" fill="#20999b"/><circle cx="51.8" cy="105.1" r="1.24" fill="#175999"/><circle cx="62.6" cy="6.3" r="1.15" fill="#0c2c63"/><circle cx="61.6" cy="11.6" r="1.16" fill="#0d2d65"/><circle cx="62.5" cy="19.9" r="1.11" fill="#081a42"/><circle cx="61.5" cy="30.5" r="1.20" fill="#124482"/><circle cx="60.9" cy="34.5" r="1.18" fill="#0f3774"/><circle cx="61.1" cy="38.5" r="1.20" fill="#124381"/><circle cx="60.7" cy="43.2" r="1.14" fill="#0c285c"/><circle cx="61.5" cy="47.9" r="1.23" fill="#165594"/><circle cx="60.6" cy="57.5" r="1.19" fill="#103c79"/><circle cx="59.8" cy="61.5" r="1.23" fill="#155291"/><circle cx="59.6" cy="66.7" r="1.21" fill="#124584"/><circle cx="59.6" cy="71.3" r="1.21" fill="#134987"/><circle cx="59.3" cy="76.4" r="1.25" fill="#185fa0"/><circle cx="59.3" cy="81.1" r="1.23" fill="#155090"/><circle cx="56.9" cy="94.4" r="1.23" fill="#155392"/><circle cx="56.3" cy="99.4" r="1.27" fill="#1969a0"/><circle cx="56.6" cy="103.8" r="1.25" fill="#185fa0"/><circle cx="71.9" cy="2.8" r="1.31" fill="#1c81a0"/><circle cx="70.9" cy="7.6" r="1.35" fill="#219b98"/><circle cx="71.9" cy="11.7" r="1.33" fill="#1d8ea0"/><circle cx="70.7" cy="14.9" r="1.35" fill="#20999c"/><circle cx="71.1" cy="23.1" r="1.25" fill="#175d9d"/><circle cx="69.6" cy="27.1" r="1.34" fill="#1f989c"/><circle cx="70.4" cy="31.0" r="1.25" fill="#185e9f"/><circle cx="68.8" cy="35.7" r="1.35" fill="#229d95"/><circle cx="69.5" cy="39.2" r="1.37" fill="#25a28c"/><circle cx="68.6" cy="44.0" r="1.35" fill="#20999b"/><circle cx="67.9" cy="48.8" r="1.36" fill="#239f92"/><circle cx="67.1" cy="51.5" r="1.37" fill="#27a489"/><circle cx="67.2" cy="55.6" r="1.36" fill="#239f92"/><circle cx="64.3" cy="68.5" r="1.37" fill="#25a28d"/><circle cx="64.3" cy="73.3" r="1.30" fill="#1b7fa0"/><circle cx="63.5" cy="76.2" r="1.41" fill="#32b76c"/><circle cx="62.7" cy="80.5" r="1.40" fill="#2fb372"/><circle cx="61.5" cy="85.2" r="1.32" fill="#1d8ba0"/><circle cx="60.1" cy="89.0" r="1.39" fill="#2daf79"/><circle cx="59.0" cy="92.8" r="1.34" fill="#1e979f"/><circle cx="59.3" cy="96.8" r="1.39" fill="#2cad7b"/><circle cx="56.9" cy="101.1" r="1.34" fill="#1e95a0"/><circle cx="56.0" cy="106.2" r="1.43" fill="#37bf5e"/><circle cx="55.6" cy="109.3" r="1.38" fill="#28a686"/><circle cx="54.0" cy="114.0" r="1.39" fill="#2cad7c"/><circle cx="52.8" cy="118.5" r="1.33" fill="#1e93a0"/><circle cx="50.3" cy="121.3" r="1.45" fill="#3ac554"/><circle cx="75.6" cy="5.7" r="1.29" fill="#1b79a0"/><circle cx="75.6" cy="10.8" r="1.25" fill="#175c9d"/><circle cx="74.8" cy="14.0" r="1.25" fill="#185e9f"/><circle cx="74.2" cy="18.3" r="1.28" fill="#1a72a0"/><circle cx="74.6" cy="22.4" r="1.29" fill="#1a75a0"/><circle cx="74.0" cy="26.4" r="1.26" fill="#1964a0"/><circle cx="74.4" cy="30.4" r="1.37" fill="#25a28d"/><circle cx="73.3" cy="35.2" r="1.28" fill="#1a6da0"/><circle cx="72.8" cy="39.4" r="1.29" fill="#1a74a0"/><circle cx="72.5" cy="42.8" r="1.29" fill="#1b78a0"/><circle cx="71.6" cy="47.4" r="1.33" fill="#1d8fa0"/><circle cx="71.2" cy="51.6" r="1.32" fill="#1d89a0"/><circle cx="71.4" cy="56.1" r="1.39" fill="#2cad7b"/><circle cx="70.0" cy="60.0" r="1.33" fill="#1d90a0"/><circle cx="70.2" cy="64.3" r="1.37" fill="#27a489"/><circle cx="68.5" cy="67.8" r="1.33" fill="#1d90a0"/><circle cx="68.3" cy="71.3" r="1.34" fill="#1e95a0"/><circle cx="67.1" cy="80.1" r="1.33" fill="#1d8ea0"/><circle cx="65.7" cy="83.7" r="1.30" fill="#1b7da0"/><circle cx="64.3" cy="88.7" r="1.40" fill="#2fb274"/><circle cx="63.1" cy="92.9" r="1.35" fill="#229c96"/><circle cx="63.2" cy="97.3" r="1.43" fill="#37bf5e"/><circle cx="61.9" cy="100.7" r="1.41" fill="#32b76c"/><circle cx="60.6" cy="105.2" r="1.33" fill="#1d91a0"/><circle cx="59.3" cy="108.3" r="1.34" fill="#1e95a0"/><circle cx="58.2" cy="112.9" r="1.45" fill="#3cc850"/><circle cx="57.0" cy="117.3" r="1.37" fill="#26a48a"/><circle cx="55.5" cy="120.9" r="1.37" fill="#26a48a"/><circle cx="53.6" cy="124.7" r="1.48" fill="#51d048"/><circle cx="43.0" cy="118.4" r="2.24" fill="#f6f976"/><circle cx="47.3" cy="123.3" r="1.77" fill="#fcfcca"/><circle cx="52.2" cy="114.0" r="1.89" fill="#eff645"/><circle cx="57.1" cy="111.9" r="1.53" fill="#fafa96"/><circle cx="53.9" cy="118.9" r="1.42" fill="#e8f528"/><circle cx="46.2" cy="115.7" r="1.53" fill="#eff645"/><circle cx="40.8" cy="97.7" r="1.77" fill="#73dd3b"/><circle cx="48.4" cy="101.5" r="1.77" fill="#73dd3b"/><circle cx="57.1" cy="96.6" r="1.65" fill="#5ad345"/><circle cx="30.5" cy="88.5" r="1.53" fill="#fcfcb9"/><circle cx="19.0" cy="22.1" r="1.42" fill="#eff645"/><circle cx="19.6" cy="28.6" r="1.30" fill="#f8f986"/><circle cx="38.1" cy="109.1" r="1.30" fill="#f6f976"/><circle cx="35.9" cy="105.9" r="1.30" fill="#eff645"/><circle cx="60.4" cy="105.3" r="1.30" fill="#e8f528"/><circle cx="29.9" cy="69.4" r="1.53" fill="#41ca4e"/><circle cx="69.1" cy="69.4" r="1.53" fill="#34bc64"/><circle cx="27.7" cy="46.0" r="1.53" fill="#30b470"/><circle cx="44.6" cy="87.9" r="1.42" fill="#39c358"/><circle cx="52.8" cy="87.9" r="1.42" fill="#39c358"/><circle cx="40.3" cy="85.7" r="1.42" fill="#2bac7d"/></g></g><g id="e00m"><path d="M12.5 -6.0C12.6 -5.0 12.6 -4.8 13.1 0.0C13.5 4.8 14.3 15.2 15.2 22.6C16.1 30.0 17.2 37.1 18.5 44.4C19.8 51.7 21.3 58.9 22.9 66.2C24.4 73.4 26.0 81.2 27.7 87.9C29.5 94.6 31.6 101.0 33.2 106.4C34.7 111.9 35.5 116.9 37.0 120.6C38.4 124.2 40.5 126.9 41.9 128.4C43.3 129.9 44.1 129.1 45.2 129.5C46.4 129.9 47.5 131.0 48.6 131.0C49.8 131.0 50.8 130.1 52.0 129.5C53.3 128.9 54.6 129.3 56.0 127.3C57.4 125.3 58.8 122.1 60.4 117.3C62.0 112.5 64.0 105.5 65.8 98.8C67.6 92.1 69.6 85.2 71.3 77.0C72.9 68.9 74.4 58.9 75.6 49.8C76.8 40.8 77.7 30.9 78.3 22.6C79.0 14.3 79.2 4.8 79.4 0.0C79.7 -4.8 79.7 -5.0 79.7 -6.0Z" fill="#3a0a6a" opacity="0.3" filter="url(#bl3)"/><g opacity="0.75" fill="none" stroke="#ee1cf0"><path d="M13.2 -6.0C13.3 -5.0 13.3 -4.8 13.8 0.0C14.2 4.8 15.0 15.2 15.9 22.6C16.8 30.0 17.9 37.1 19.2 44.4C20.5 51.7 22.0 58.9 23.6 66.2C25.1 73.4 26.7 81.2 28.4 87.9C30.2 94.6 32.3 101.0 33.9 106.4C35.4 111.9 36.2 116.9 37.7 120.6C39.1 124.2 40.8 126.8 42.6 128.4C44.4 130.0 46.5 130.3 48.6 130.1C50.8 130.0 53.5 129.5 55.3 127.3C57.2 125.2 58.1 122.1 59.7 117.3C61.3 112.5 63.3 105.5 65.1 98.8C66.9 92.1 68.9 85.2 70.6 77.0C72.2 68.9 73.7 58.9 74.9 49.8C76.1 40.8 77.0 30.9 77.6 22.6C78.3 14.3 78.5 4.8 78.7 0.0C79.0 -4.8 79.0 -5.0 79.0 -6.0" stroke-width="4.2" opacity="0.3" filter="url(#bl15)"/><g filter="url(#bl07)"><path d="M13.2 -6.0C13.3 -5.0 13.3 -4.8 13.8 0.0C14.2 4.8 15.0 15.2 15.9 22.6C16.8 30.0 17.9 37.1 19.2 44.4C20.5 51.7 22.0 58.9 23.6 66.2C25.1 73.4 26.7 81.2 28.4 87.9C30.2 94.6 32.3 101.0 33.9 106.4C35.4 111.9 36.2 116.9 37.7 120.6C39.1 124.2 40.8 126.8 42.6 128.4C44.4 130.0 46.5 130.3 48.6 130.1C50.8 130.0 53.5 129.5 55.3 127.3C57.2 125.2 58.1 122.1 59.7 117.3C61.3 112.5 63.3 105.5 65.1 98.8C66.9 92.1 68.9 85.2 70.6 77.0C72.2 68.9 73.7 58.9 74.9 49.8C76.1 40.8 77.0 30.9 77.6 22.6C78.3 14.3 78.5 4.8 78.7 0.0C79.0 -4.8 79.0 -5.0 79.0 -6.0" stroke-width="2.2"/><path d="M18.3 -6.0C18.4 -5.0 18.4 -4.8 18.9 0.0C19.3 4.8 20.1 15.2 21.0 22.6C21.9 30.0 23.0 37.1 24.3 44.4C25.6 51.7 27.1 58.9 28.7 66.2C30.2 73.4 31.8 81.2 33.5 87.9C35.3 94.6 37.4 101.0 39.0 106.4C40.5 111.9 41.3 116.9 42.8 120.6C44.2 124.2 46.7 127.9 47.7 128.4C48.7 128.9 48.2 123.9 48.6 123.8C49.1 123.6 49.2 128.4 50.2 127.3C51.2 126.2 53.0 122.1 54.6 117.3C56.2 112.5 58.2 105.5 60.0 98.8C61.8 92.1 63.8 85.2 65.5 77.0C67.1 68.9 68.6 58.9 69.8 49.8C71.0 40.8 71.9 30.9 72.5 22.6C73.2 14.3 73.4 4.8 73.6 0.0C73.9 -4.8 73.9 -5.0 73.9 -6.0" stroke-width="1.0" opacity="0.6"/><path d="M22.7 -6.0C22.8 -5.0 22.8 -4.8 23.3 0.0C23.7 4.8 24.5 15.2 25.4 22.6C26.3 30.0 27.4 37.1 28.7 44.4C30.0 51.7 31.5 58.9 33.1 66.2C34.6 73.4 36.2 81.2 37.9 87.9C39.7 94.6 41.8 101.0 43.4 106.4C44.9 111.9 45.7 116.9 47.2 120.6C48.6 124.2 51.9 128.8 52.1 128.4C52.3 128.0 49.7 118.4 48.6 118.3C47.6 118.1 45.6 127.5 45.8 127.3C46.1 127.2 48.6 122.1 50.2 117.3C51.8 112.5 53.8 105.5 55.6 98.8C57.4 92.1 59.4 85.2 61.1 77.0C62.7 68.9 64.2 58.9 65.4 49.8C66.6 40.8 67.5 30.9 68.1 22.6C68.8 14.3 69.0 4.8 69.2 0.0C69.5 -4.8 69.5 -5.0 69.5 -6.0" stroke-width="0.8" opacity="0.35"/><path d="M21 84q4 20 12 38M79 82q2 10 0 22q-4 12 -8 16" stroke-width="1.6" opacity="0.55"/><ellipse cx="36" cy="134" rx="4.6" ry="2.6" transform="rotate(-35 36 134)" stroke-width="1.3" opacity="0.7"/><ellipse cx="63" cy="129" rx="3" ry="5.6" transform="rotate(-20 63 129)" stroke-width="1.3" opacity="0.7"/><ellipse cx="52" cy="139" rx="3" ry="5" transform="rotate(25 52 139)" stroke-width="1.2" opacity="0.6"/><circle cx="84.5" cy="137.6" r="2.6" fill="#ff2cff"/><path d="M80 142l8 -14" stroke-width="2"/><path d="M38.5 112q10 -8 20 0M44 113v12M52.5 113v12" stroke-width="1" opacity="0.7"/></g></g></g><g id="e10d"><path d="M1.6 -6.0C1.7 -5.0 1.7 -4.8 2.4 0.0C3.1 4.8 4.2 15.2 5.7 22.6C7.1 30.0 9.3 37.1 11.1 44.4C12.9 51.7 14.4 58.9 16.5 66.2C18.7 73.4 21.4 81.2 24.2 87.9C26.9 94.6 30.1 101.0 32.9 106.4C35.6 111.9 38.1 116.2 40.5 120.6C42.8 124.9 45.5 129.5 47.0 132.5C48.6 135.6 48.8 137.6 49.8 138.9C50.8 140.2 52.1 140.4 53.2 140.4C54.3 140.4 55.5 139.6 56.6 138.9C57.8 138.1 58.0 138.9 60.1 135.8C62.1 132.7 66.2 125.8 68.8 120.6C71.3 115.3 73.5 109.7 75.3 104.2C77.1 98.8 78.6 94.3 79.7 87.9C80.7 81.6 81.3 74.3 81.8 66.2C82.4 58.0 82.6 50.0 82.9 39.0C83.2 27.9 83.3 7.5 83.5 0.0C83.6 -7.5 83.6 -5.0 83.6 -6.0Z" fill="#10307a" opacity="0.42" filter="url(#bl3)"/><g filter="url(#bl15)" opacity="0.45"><circle cx="53.3" cy="118.9" r="3.36" fill="#eff645"/><circle cx="48.9" cy="124.4" r="3.36" fill="#eff645"/><circle cx="60.6" cy="126.0" r="2.94" fill="#eff645"/><circle cx="53.0" cy="131.2" r="3.15" fill="#eff645"/><circle cx="41.0" cy="113.5" r="2.73" fill="#eff645"/><circle cx="67.9" cy="111.6" r="2.73" fill="#eff645"/><circle cx="39.4" cy="101.0" r="3.15" fill="#9be830"/><circle cx="44.8" cy="107.5" r="2.94" fill="#9be830"/><circle cx="58.4" cy="97.7" r="2.94" fill="#73dd3b"/><circle cx="50.8" cy="101.0" r="2.73" fill="#5ad345"/><circle cx="58.4" cy="107.0" r="2.73" fill="#80e137"/><circle cx="62.2" cy="107.0" r="2.73" fill="#baed2d"/><circle cx="66.6" cy="98.8" r="2.73" fill="#c9f02c"/><circle cx="71.5" cy="99.3" r="2.31" fill="#eff645"/><circle cx="29.1" cy="79.8" r="2.94" fill="#8ce632"/><circle cx="26.9" cy="84.1" r="2.31" fill="#eff645"/><circle cx="69.3" cy="88.5" r="2.73" fill="#41ca4e"/><circle cx="19.8" cy="53.1" r="2.73" fill="#baed2d"/><circle cx="15.5" cy="39.5" r="2.73" fill="#eff645"/><circle cx="78.0" cy="49.3" r="2.52" fill="#34bc64"/><circle cx="54.1" cy="91.7" r="2.73" fill="#34bc64"/></g><g filter="url(#bl05)"><circle cx="6.5" cy="1.9" r="1.20" fill="#124280"/><circle cx="7.4" cy="5.4" r="1.18" fill="#0f3773"/><circle cx="7.3" cy="10.7" r="1.19" fill="#103d7a"/><circle cx="9.0" cy="14.0" r="1.26" fill="#1860a0"/><circle cx="9.2" cy="17.7" r="1.26" fill="#1863a0"/><circle cx="9.3" cy="22.1" r="1.24" fill="#165696"/><circle cx="11.0" cy="26.4" r="1.19" fill="#103c79"/><circle cx="12.2" cy="30.5" r="1.24" fill="#175a9a"/><circle cx="13.1" cy="35.3" r="1.29" fill="#1b78a0"/><circle cx="13.2" cy="38.7" r="1.19" fill="#113f7c"/><circle cx="15.0" cy="43.4" r="1.17" fill="#0e3470"/><circle cx="15.7" cy="47.9" r="1.28" fill="#1a73a0"/><circle cx="16.7" cy="51.5" r="1.28" fill="#1a71a0"/><circle cx="17.2" cy="55.0" r="1.18" fill="#0f3673"/><circle cx="18.8" cy="59.7" r="1.23" fill="#155292"/><circle cx="19.8" cy="64.3" r="1.23" fill="#155190"/><circle cx="21.4" cy="67.2" r="1.28" fill="#1a6fa0"/><circle cx="21.9" cy="71.0" r="1.20" fill="#124583"/><circle cx="23.3" cy="76.2" r="1.32" fill="#1d8da0"/><circle cx="26.9" cy="83.7" r="1.23" fill="#155191"/><circle cx="28.2" cy="88.9" r="1.21" fill="#134988"/><circle cx="30.0" cy="91.5" r="1.24" fill="#165696"/><circle cx="32.0" cy="95.6" r="1.32" fill="#1d8da0"/><circle cx="34.2" cy="101.2" r="1.26" fill="#1860a0"/><circle cx="35.5" cy="104.5" r="1.25" fill="#175c9c"/><circle cx="37.9" cy="109.2" r="1.26" fill="#1860a0"/><circle cx="40.7" cy="112.7" r="1.37" fill="#26a38b"/><circle cx="42.6" cy="117.4" r="1.28" fill="#1a6ea0"/><circle cx="44.5" cy="120.2" r="1.29" fill="#1a74a0"/><circle cx="46.3" cy="124.4" r="1.31" fill="#1c80a0"/><circle cx="51.5" cy="133.2" r="1.35" fill="#209a9a"/><circle cx="9.9" cy="3.0" r="1.21" fill="#134886"/><circle cx="10.8" cy="6.8" r="1.24" fill="#17599a"/><circle cx="11.0" cy="10.7" r="1.25" fill="#175a9b"/><circle cx="12.1" cy="14.9" r="1.24" fill="#175a9a"/><circle cx="13.2" cy="19.4" r="1.21" fill="#134886"/><circle cx="13.7" cy="22.6" r="1.20" fill="#124583"/><circle cx="14.7" cy="26.8" r="1.16" fill="#0d2d64"/><circle cx="16.6" cy="36.1" r="1.19" fill="#103c79"/><circle cx="17.8" cy="40.1" r="1.25" fill="#185fa0"/><circle cx="18.8" cy="44.2" r="1.24" fill="#165595"/><circle cx="19.8" cy="47.6" r="1.20" fill="#11417f"/><circle cx="21.3" cy="51.3" r="1.28" fill="#1a6da0"/><circle cx="22.0" cy="56.9" r="1.31" fill="#1c80a0"/><circle cx="22.3" cy="59.7" r="1.31" fill="#1c85a0"/><circle cx="23.2" cy="65.0" r="1.29" fill="#1b76a0"/><circle cx="24.9" cy="67.9" r="1.22" fill="#144b8a"/><circle cx="25.8" cy="71.9" r="1.20" fill="#124482"/><circle cx="28.3" cy="76.4" r="1.31" fill="#1c81a0"/><circle cx="29.8" cy="80.5" r="1.22" fill="#144c8b"/><circle cx="30.3" cy="85.2" r="1.26" fill="#1863a0"/><circle cx="31.9" cy="88.2" r="1.21" fill="#134a89"/><circle cx="36.3" cy="96.9" r="1.33" fill="#1e92a0"/><circle cx="37.5" cy="102.0" r="1.31" fill="#1c81a0"/><circle cx="39.9" cy="106.0" r="1.33" fill="#1d8ea0"/><circle cx="41.5" cy="109.2" r="1.25" fill="#175c9d"/><circle cx="45.0" cy="112.9" r="1.31" fill="#1c83a0"/><circle cx="48.4" cy="121.8" r="1.38" fill="#2aa981"/><circle cx="50.9" cy="126.3" r="1.40" fill="#2fb274"/><circle cx="25.1" cy="14.6" r="1.11" fill="#081b44"/><circle cx="26.0" cy="23.5" r="1.12" fill="#091e4a"/><circle cx="27.1" cy="28.4" r="1.17" fill="#0e316d"/><circle cx="27.7" cy="33.7" r="1.18" fill="#0f3773"/><circle cx="29.1" cy="37.6" r="1.17" fill="#0e306b"/><circle cx="30.0" cy="43.0" r="1.15" fill="#0c2b61"/><circle cx="31.7" cy="56.9" r="1.22" fill="#144c8b"/><circle cx="32.6" cy="60.2" r="1.23" fill="#155291"/><circle cx="33.3" cy="66.3" r="1.12" fill="#091e49"/><circle cx="36.9" cy="79.9" r="1.24" fill="#17599a"/><circle cx="41.2" cy="97.4" r="1.21" fill="#134685"/><circle cx="44.1" cy="106.2" r="1.24" fill="#165797"/><circle cx="44.5" cy="110.9" r="1.22" fill="#144f8e"/><circle cx="35.5" cy="20.4" r="1.10" fill="#07163b"/><circle cx="36.8" cy="30.2" r="1.09" fill="#07153a"/><circle cx="37.2" cy="34.7" r="1.14" fill="#0b2557"/><circle cx="39.4" cy="48.4" r="1.20" fill="#124280"/><circle cx="39.8" cy="52.2" r="1.19" fill="#103b78"/><circle cx="40.1" cy="56.2" r="1.15" fill="#0c2b61"/><circle cx="40.6" cy="61.5" r="1.24" fill="#165595"/><circle cx="41.6" cy="66.3" r="1.18" fill="#0f3774"/><circle cx="41.8" cy="70.6" r="1.12" fill="#09204d"/><circle cx="44.3" cy="79.7" r="1.16" fill="#0d2d65"/><circle cx="45.0" cy="84.2" r="1.24" fill="#165696"/><circle cx="46.1" cy="89.8" r="1.16" fill="#0d2f69"/><circle cx="47.1" cy="97.8" r="1.27" fill="#196ca0"/><circle cx="48.3" cy="103.2" r="1.32" fill="#1d8aa0"/><circle cx="49.4" cy="107.1" r="1.29" fill="#1b79a0"/><circle cx="49.4" cy="112.1" r="1.36" fill="#239e93"/><circle cx="43.5" cy="16.3" r="1.14" fill="#0b275a"/><circle cx="44.0" cy="21.2" r="1.12" fill="#091e4b"/><circle cx="45.5" cy="25.5" r="1.14" fill="#0b2658"/><circle cx="45.7" cy="35.3" r="1.14" fill="#0b275a"/><circle cx="46.9" cy="40.6" r="1.19" fill="#113e7b"/><circle cx="47.1" cy="44.0" r="1.19" fill="#103c79"/><circle cx="47.5" cy="49.6" r="1.20" fill="#124482"/><circle cx="47.5" cy="53.3" r="1.20" fill="#124583"/><circle cx="48.5" cy="58.5" r="1.19" fill="#113e7b"/><circle cx="48.6" cy="62.4" r="1.16" fill="#0d2e66"/><circle cx="51.5" cy="81.0" r="1.26" fill="#1862a0"/><circle cx="52.1" cy="95.5" r="1.19" fill="#113e7b"/><circle cx="52.5" cy="99.7" r="1.21" fill="#134886"/><circle cx="53.1" cy="104.7" r="1.28" fill="#1a71a0"/><circle cx="54.5" cy="109.2" r="1.27" fill="#196ba0"/><circle cx="53.9" cy="114.0" r="1.26" fill="#1965a0"/><circle cx="54.3" cy="118.2" r="1.26" fill="#1863a0"/><circle cx="55.2" cy="123.3" r="1.29" fill="#1b78a0"/><circle cx="54.7" cy="126.9" r="1.38" fill="#29a883"/><circle cx="54.6" cy="132.1" r="1.30" fill="#1b7ca0"/><circle cx="53.4" cy="5.2" r="1.15" fill="#0d2c64"/><circle cx="53.7" cy="10.2" r="1.10" fill="#07163c"/><circle cx="54.1" cy="19.9" r="1.15" fill="#0c295d"/><circle cx="54.4" cy="34.0" r="1.14" fill="#0b275a"/><circle cx="55.2" cy="42.4" r="1.18" fill="#0f3875"/><circle cx="56.1" cy="47.7" r="1.20" fill="#124280"/><circle cx="56.3" cy="51.6" r="1.16" fill="#0d2f69"/><circle cx="56.9" cy="56.8" r="1.11" fill="#081a43"/><circle cx="57.0" cy="60.9" r="1.21" fill="#134785"/><circle cx="57.2" cy="65.5" r="1.12" fill="#0a204d"/><circle cx="57.0" cy="69.8" r="1.23" fill="#155292"/><circle cx="58.6" cy="79.0" r="1.26" fill="#1964a0"/><circle cx="58.5" cy="84.3" r="1.28" fill="#1a70a0"/><circle cx="59.0" cy="87.9" r="1.22" fill="#144d8c"/><circle cx="59.2" cy="97.7" r="1.22" fill="#144f8e"/><circle cx="58.5" cy="103.2" r="1.34" fill="#1e95a0"/><circle cx="58.0" cy="107.9" r="1.29" fill="#1b79a0"/><circle cx="59.1" cy="111.6" r="1.29" fill="#1b79a0"/><circle cx="57.5" cy="115.6" r="1.29" fill="#1a74a0"/><circle cx="62.8" cy="21.6" r="1.14" fill="#0b2659"/><circle cx="63.8" cy="45.4" r="1.17" fill="#0e326e"/><circle cx="64.7" cy="50.0" r="1.10" fill="#07173e"/><circle cx="64.2" cy="54.6" r="1.18" fill="#0f3774"/><circle cx="64.3" cy="59.0" r="1.17" fill="#0e326d"/><circle cx="64.8" cy="63.8" r="1.24" fill="#165595"/><circle cx="64.7" cy="67.5" r="1.13" fill="#0a2250"/><circle cx="65.3" cy="72.0" r="1.20" fill="#124583"/><circle cx="65.4" cy="77.8" r="1.15" fill="#0c2a5f"/><circle cx="65.5" cy="87.0" r="1.20" fill="#124482"/><circle cx="65.5" cy="91.5" r="1.20" fill="#124482"/><circle cx="64.0" cy="95.3" r="1.20" fill="#124280"/><circle cx="63.4" cy="104.2" r="1.23" fill="#155191"/><circle cx="62.6" cy="109.5" r="1.24" fill="#165696"/><circle cx="61.8" cy="114.5" r="1.23" fill="#165494"/><circle cx="62.4" cy="119.2" r="1.25" fill="#175b9c"/><circle cx="75.3" cy="0.4" r="1.14" fill="#0b275b"/><circle cx="75.3" cy="5.3" r="1.23" fill="#165494"/><circle cx="75.2" cy="9.7" r="1.15" fill="#0c2b62"/><circle cx="75.3" cy="13.5" r="1.19" fill="#103b78"/><circle cx="75.7" cy="17.8" r="1.15" fill="#0c295e"/><circle cx="75.1" cy="22.0" r="1.23" fill="#165594"/><circle cx="75.0" cy="25.6" r="1.24" fill="#165797"/><circle cx="75.7" cy="33.5" r="1.25" fill="#175d9d"/><circle cx="75.5" cy="37.4" r="1.30" fill="#1b7aa0"/><circle cx="75.3" cy="42.3" r="1.21" fill="#124684"/><circle cx="74.4" cy="46.2" r="1.24" fill="#175a9a"/><circle cx="74.7" cy="50.0" r="1.23" fill="#165595"/><circle cx="74.3" cy="54.6" r="1.20" fill="#11407e"/><circle cx="75.1" cy="59.2" r="1.24" fill="#175a9a"/><circle cx="74.4" cy="62.5" r="1.25" fill="#185fa0"/><circle cx="73.5" cy="67.2" r="1.25" fill="#175c9c"/><circle cx="74.2" cy="70.4" r="1.32" fill="#1d89a0"/><circle cx="73.8" cy="74.8" r="1.32" fill="#1c87a0"/><circle cx="73.5" cy="78.7" r="1.27" fill="#196aa0"/><circle cx="72.5" cy="82.8" r="1.33" fill="#1d90a0"/><circle cx="72.5" cy="86.7" r="1.25" fill="#185d9e"/><circle cx="70.7" cy="91.9" r="1.29" fill="#1a76a0"/><circle cx="69.4" cy="98.8" r="1.27" fill="#196ca0"/><circle cx="67.7" cy="103.2" r="1.27" fill="#196ca0"/><circle cx="66.8" cy="107.2" r="1.31" fill="#1c82a0"/><circle cx="65.2" cy="111.0" r="1.26" fill="#1863a0"/><circle cx="63.1" cy="115.9" r="1.28" fill="#1a73a0"/><circle cx="61.8" cy="119.4" r="1.34" fill="#1e94a0"/><circle cx="59.5" cy="123.9" r="1.34" fill="#1f979e"/><circle cx="79.5" cy="4.1" r="1.26" fill="#1966a0"/><circle cx="79.7" cy="11.7" r="1.26" fill="#1860a0"/><circle cx="79.4" cy="15.4" r="1.23" fill="#155392"/><circle cx="79.9" cy="20.1" r="1.26" fill="#1863a0"/><circle cx="79.8" cy="24.0" r="1.23" fill="#155393"/><circle cx="79.9" cy="28.5" r="1.24" fill="#175a9a"/><circle cx="78.5" cy="33.0" r="1.22" fill="#144c8b"/><circle cx="78.8" cy="37.0" r="1.25" fill="#185d9e"/><circle cx="79.5" cy="41.0" r="1.24" fill="#165696"/><circle cx="79.4" cy="45.4" r="1.28" fill="#1a73a0"/><circle cx="78.7" cy="49.1" r="1.17" fill="#0e326e"/><circle cx="77.8" cy="52.3" r="1.24" fill="#165898"/><circle cx="78.0" cy="57.1" r="1.26" fill="#1964a0"/><circle cx="78.4" cy="60.8" r="1.23" fill="#155292"/><circle cx="77.4" cy="65.4" r="1.32" fill="#1c88a0"/><circle cx="77.9" cy="68.9" r="1.26" fill="#1966a0"/><circle cx="77.1" cy="73.6" r="1.24" fill="#165797"/><circle cx="77.0" cy="77.8" r="1.31" fill="#1c82a0"/><circle cx="76.5" cy="81.8" r="1.24" fill="#175a9a"/><circle cx="75.5" cy="85.8" r="1.35" fill="#209a9a"/><circle cx="74.4" cy="94.6" r="1.32" fill="#1d8ba0"/><circle cx="73.4" cy="98.4" r="1.27" fill="#1968a0"/><circle cx="71.4" cy="102.1" r="1.30" fill="#1b7fa0"/><circle cx="71.3" cy="106.2" r="1.34" fill="#1e979f"/><circle cx="68.9" cy="110.6" r="1.30" fill="#1b7aa0"/><circle cx="66.7" cy="114.2" r="1.31" fill="#1c85a0"/><circle cx="65.3" cy="118.6" r="1.39" fill="#2cae7a"/><circle cx="63.2" cy="122.9" r="1.26" fill="#1966a0"/><circle cx="61.9" cy="126.4" r="1.39" fill="#2bac7c"/><circle cx="58.4" cy="131.5" r="1.28" fill="#1a73a0"/><circle cx="56.9" cy="135.4" r="1.42" fill="#33b968"/><circle cx="53.3" cy="118.9" r="1.89" fill="#ffffff"/><circle cx="48.9" cy="124.4" r="1.89" fill="#ffffff"/><circle cx="60.6" cy="126.0" r="1.65" fill="#fefeee"/><circle cx="53.0" cy="131.2" r="1.77" fill="#ffffff"/><circle cx="41.0" cy="113.5" r="1.53" fill="#fbfba8"/><circle cx="67.9" cy="111.6" r="1.53" fill="#fcfcb9"/><circle cx="39.4" cy="101.0" r="1.77" fill="#9be830"/><circle cx="44.8" cy="107.5" r="1.65" fill="#9be830"/><circle cx="58.4" cy="97.7" r="1.65" fill="#73dd3b"/><circle cx="50.8" cy="101.0" r="1.53" fill="#5ad345"/><circle cx="58.4" cy="107.0" r="1.53" fill="#80e137"/><circle cx="62.2" cy="107.0" r="1.53" fill="#baed2d"/><circle cx="66.6" cy="98.8" r="1.53" fill="#c9f02c"/><circle cx="71.5" cy="99.3" r="1.30" fill="#f6f976"/><circle cx="29.1" cy="79.8" r="1.65" fill="#8ce632"/><circle cx="26.9" cy="84.1" r="1.30" fill="#eff645"/><circle cx="69.3" cy="88.5" r="1.53" fill="#41ca4e"/><circle cx="19.8" cy="53.1" r="1.53" fill="#baed2d"/><circle cx="15.5" cy="39.5" r="1.53" fill="#f8f986"/><circle cx="78.0" cy="49.3" r="1.42" fill="#34bc64"/><circle cx="75.8" cy="58.0" r="1.42" fill="#2bac7d"/><circle cx="54.1" cy="91.7" r="1.53" fill="#34bc64"/><circle cx="42.7" cy="91.7" r="1.42" fill="#2bac7d"/><circle cx="36.1" cy="93.9" r="1.42" fill="#2bac7d"/></g></g><g id="e10m"><path d="M1.6 -6.0C1.7 -5.0 1.7 -4.8 2.4 0.0C3.1 4.8 4.2 15.2 5.7 22.6C7.1 30.0 9.3 37.1 11.1 44.4C12.9 51.7 14.4 58.9 16.5 66.2C18.7 73.4 21.4 81.2 24.2 87.9C26.9 94.6 30.1 101.0 32.9 106.4C35.6 111.9 38.1 116.2 40.5 120.6C42.8 124.9 45.5 129.5 47.0 132.5C48.6 135.6 48.8 137.6 49.8 138.9C50.8 140.2 52.1 140.4 53.2 140.4C54.3 140.4 55.5 139.6 56.6 138.9C57.8 138.1 58.0 138.9 60.1 135.8C62.1 132.7 66.2 125.8 68.8 120.6C71.3 115.3 73.5 109.7 75.3 104.2C77.1 98.8 78.6 94.3 79.7 87.9C80.7 81.6 81.3 74.3 81.8 66.2C82.4 58.0 82.6 50.0 82.9 39.0C83.2 27.9 83.3 7.5 83.5 0.0C83.6 -7.5 83.6 -5.0 83.6 -6.0Z" fill="#3a0a6a" opacity="0.3" filter="url(#bl3)"/><g opacity="0.9" fill="none" stroke="#ee1cf0"><path d="M2.3 -6.0C2.5 -5.0 2.5 -4.8 3.1 0.0C3.8 4.8 5.0 15.2 6.4 22.6C7.9 30.0 10.0 37.1 11.8 44.4C13.7 51.7 15.1 58.9 17.3 66.2C19.5 73.4 22.2 81.2 24.9 87.9C27.6 94.6 30.9 101.0 33.6 106.4C36.3 111.9 38.9 116.2 41.2 120.6C43.6 124.9 45.8 129.4 47.8 132.5C49.8 135.7 51.3 138.9 53.2 139.4C55.1 140.0 56.8 138.9 59.3 135.8C61.8 132.7 65.5 125.8 68.0 120.6C70.6 115.3 72.7 109.7 74.5 104.2C76.4 98.8 77.8 94.3 78.9 87.9C80.0 81.6 80.5 74.3 81.1 66.2C81.6 58.0 81.9 50.0 82.2 39.0C82.4 27.9 82.6 7.5 82.7 0.0C82.8 -7.5 82.8 -5.0 82.8 -6.0" stroke-width="4.4" opacity="0.3" filter="url(#bl15)"/><g filter="url(#bl07)"><path d="M2.3 -6.0C2.5 -5.0 2.5 -4.8 3.1 0.0C3.8 4.8 5.0 15.2 6.4 22.6C7.9 30.0 10.0 37.1 11.8 44.4C13.7 51.7 15.1 58.9 17.3 66.2C19.5 73.4 22.2 81.2 24.9 87.9C27.6 94.6 30.9 101.0 33.6 106.4C36.3 111.9 38.9 116.2 41.2 120.6C43.6 124.9 45.8 129.4 47.8 132.5C49.8 135.7 51.3 138.9 53.2 139.4C55.1 140.0 56.8 138.9 59.3 135.8C61.8 132.7 65.5 125.8 68.0 120.6C70.6 115.3 72.7 109.7 74.5 104.2C76.4 98.8 77.8 94.3 78.9 87.9C80.0 81.6 80.5 74.3 81.1 66.2C81.6 58.0 81.9 50.0 82.2 39.0C82.4 27.9 82.6 7.5 82.7 0.0C82.8 -7.5 82.8 -5.0 82.8 -6.0" stroke-width="2.3"/><path d="M7.5 -6.0C7.6 -5.0 7.6 -4.8 8.3 0.0C9.0 4.8 10.1 15.2 11.6 22.6C13.0 30.0 15.2 37.1 17.0 44.4C18.8 51.7 20.3 58.9 22.4 66.2C24.6 73.4 27.3 81.2 30.1 87.9C32.8 94.6 36.0 101.0 38.8 106.4C41.5 111.9 44.0 116.2 46.4 120.6C48.7 124.9 51.8 130.5 52.9 132.5C54.0 134.6 53.0 132.5 53.2 133.0C53.4 133.5 52.6 137.9 54.2 135.8C55.8 133.7 60.3 125.8 62.9 120.6C65.4 115.3 67.6 109.7 69.4 104.2C71.2 98.8 72.7 94.3 73.8 87.9C74.8 81.6 75.4 74.3 75.9 66.2C76.5 58.0 76.7 50.0 77.0 39.0C77.3 27.9 77.4 7.5 77.6 0.0C77.7 -7.5 77.7 -5.0 77.7 -6.0" stroke-width="1.0" opacity="0.6"/><path d="M11.9 -6.0C12.0 -5.0 12.0 -4.8 12.7 0.0C13.4 4.8 14.5 15.2 16.0 22.6C17.4 30.0 19.6 37.1 21.4 44.4C23.2 51.7 24.7 58.9 26.8 66.2C29.0 73.4 31.7 81.2 34.5 87.9C37.2 94.6 40.4 101.0 43.2 106.4C45.9 111.9 48.4 116.2 50.8 120.6C53.1 124.9 56.9 131.4 57.3 132.5C57.7 133.7 54.5 127.0 53.2 127.5C52.0 128.0 48.9 137.0 49.8 135.8C50.6 134.6 55.9 125.8 58.5 120.6C61.0 115.3 63.2 109.7 65.0 104.2C66.8 98.8 68.3 94.3 69.4 87.9C70.4 81.6 71.0 74.3 71.5 66.2C72.1 58.0 72.3 50.0 72.6 39.0C72.9 27.9 73.0 7.5 73.2 0.0C73.3 -7.5 73.3 -5.0 73.3 -6.0" stroke-width="0.8" opacity="0.35"/><path d="M1 42q7 4 8 8M13 56q1 10 -3 22q-3 16 -6 20" stroke-width="2" opacity="0.7"/><path d="M81 78q2 14 7 20" stroke-width="2" opacity="0.8"/><path d="M40 112q14 8 32 -2M53.5 116v22M46 124l8 6l10 -6" stroke-width="1" opacity="0.85"/></g></g></g><g id="e01d"><path d="M5.6 -6.0C5.6 -5.0 5.6 -4.8 6.0 0.0C6.3 4.8 6.8 14.3 7.6 22.6C8.4 30.9 9.8 41.7 10.9 49.8C12.0 58.0 13.1 64.3 14.1 71.6C15.2 78.9 16.3 87.0 17.4 93.4C18.5 99.7 19.2 104.2 20.7 109.7C22.1 115.1 24.1 121.5 26.1 126.0C28.1 130.5 30.7 134.5 32.6 136.9C34.6 139.3 36.5 139.6 37.9 140.5C39.4 141.4 40.2 142.0 41.3 142.0C42.5 142.0 43.3 141.4 44.7 140.5C46.2 139.6 48.1 139.3 50.1 136.9C52.0 134.5 54.2 131.4 56.6 126.0C58.9 120.6 61.7 111.5 64.2 104.2C66.7 97.0 69.5 89.7 71.8 82.5C74.2 75.2 76.9 68.0 78.3 60.7C79.8 53.5 80.2 46.2 80.5 39.0C80.9 31.7 80.7 23.7 80.5 17.2C80.3 10.7 79.7 3.9 79.4 0.0C79.2 -3.9 79.2 -5.0 79.2 -6.0Z" fill="#10307a" opacity="0.45" filter="url(#bl3)"/><g filter="url(#bl15)" opacity="0.45"><circle cx="22.3" cy="57.5" r="2.94" fill="#4ecf49"/><circle cx="18.5" cy="71.6" r="2.73" fill="#9be830"/><circle cx="20.7" cy="81.4" r="2.94" fill="#73dd3b"/><circle cx="21.8" cy="93.4" r="2.94" fill="#d9f22a"/><circle cx="23.9" cy="106.4" r="2.94" fill="#c9f02c"/><circle cx="31.6" cy="104.8" r="3.15" fill="#abeb2f"/><circle cx="38.1" cy="108.1" r="2.94" fill="#73dd3b"/><circle cx="43.5" cy="109.1" r="2.94" fill="#73dd3b"/><circle cx="50.6" cy="108.1" r="3.15" fill="#9be830"/><circle cx="59.8" cy="105.9" r="2.73" fill="#abeb2f"/><circle cx="60.9" cy="94.5" r="3.15" fill="#73dd3b"/><circle cx="66.4" cy="85.7" r="2.73" fill="#e8f528"/><circle cx="60.4" cy="86.3" r="2.94" fill="#73dd3b"/><circle cx="63.1" cy="81.4" r="2.73" fill="#73dd3b"/><circle cx="65.8" cy="72.1" r="3.57" fill="#4ecf49"/><circle cx="69.1" cy="61.3" r="3.15" fill="#41ca4e"/><circle cx="32.6" cy="113.5" r="2.94" fill="#73dd3b"/><circle cx="35.9" cy="115.7" r="2.94" fill="#73dd3b"/><circle cx="49.0" cy="114.6" r="2.94" fill="#66d840"/><circle cx="27.7" cy="116.8" r="2.52" fill="#baed2d"/><circle cx="55.0" cy="117.3" r="2.94" fill="#eff645"/><circle cx="32.6" cy="126.0" r="2.94" fill="#eff645"/><circle cx="37.0" cy="133.6" r="2.94" fill="#eff645"/><circle cx="42.4" cy="133.4" r="2.73" fill="#c9f02c"/><circle cx="45.2" cy="132.5" r="2.73" fill="#d9f22a"/><circle cx="47.9" cy="131.4" r="2.73" fill="#c9f02c"/><circle cx="27.2" cy="88.5" r="2.73" fill="#5ad345"/><circle cx="25.6" cy="82.5" r="2.73" fill="#4ecf49"/><circle cx="53.9" cy="101.0" r="2.73" fill="#5ad345"/><circle cx="16.9" cy="58.0" r="2.10" fill="#eff645"/><circle cx="16.9" cy="62.4" r="2.10" fill="#e8f528"/><circle cx="75.1" cy="52.6" r="2.10" fill="#eff645"/></g><g filter="url(#bl05)"><circle cx="9.8" cy="3.0" r="1.35" fill="#20999b"/><circle cx="9.8" cy="5.9" r="1.31" fill="#1c80a0"/><circle cx="10.3" cy="10.8" r="1.32" fill="#1d89a0"/><circle cx="11.6" cy="14.7" r="1.34" fill="#1e94a0"/><circle cx="12.1" cy="22.5" r="1.34" fill="#1e94a0"/><circle cx="12.7" cy="26.7" r="1.30" fill="#1c7fa0"/><circle cx="12.7" cy="31.0" r="1.35" fill="#229c96"/><circle cx="13.0" cy="36.2" r="1.36" fill="#25a28e"/><circle cx="14.0" cy="40.1" r="1.35" fill="#219b97"/><circle cx="13.4" cy="44.0" r="1.29" fill="#1b79a0"/><circle cx="14.3" cy="48.1" r="1.38" fill="#29a982"/><circle cx="15.2" cy="52.5" r="1.29" fill="#1a73a0"/><circle cx="15.4" cy="56.3" r="1.31" fill="#1c82a0"/><circle cx="16.4" cy="60.1" r="1.35" fill="#209a9a"/><circle cx="17.5" cy="63.8" r="1.36" fill="#249f91"/><circle cx="17.6" cy="67.8" r="1.40" fill="#2fb274"/><circle cx="17.9" cy="72.2" r="1.39" fill="#2aab7f"/><circle cx="19.1" cy="76.1" r="1.37" fill="#28a687"/><circle cx="19.9" cy="79.7" r="1.43" fill="#36bf5f"/><circle cx="19.9" cy="84.9" r="1.40" fill="#2daf78"/><circle cx="20.8" cy="92.4" r="1.37" fill="#26a38b"/><circle cx="21.6" cy="97.4" r="1.34" fill="#1e94a0"/><circle cx="23.4" cy="101.5" r="1.44" fill="#39c358"/><circle cx="23.1" cy="105.5" r="1.47" fill="#46cc4c"/><circle cx="24.3" cy="108.5" r="1.44" fill="#38c15b"/><circle cx="25.4" cy="113.3" r="1.44" fill="#39c358"/><circle cx="26.8" cy="117.7" r="1.38" fill="#2aaa81"/><circle cx="28.5" cy="121.6" r="1.42" fill="#34bb64"/><circle cx="30.5" cy="126.0" r="1.44" fill="#39c259"/><circle cx="31.8" cy="129.4" r="1.43" fill="#36be5f"/><circle cx="34.8" cy="133.6" r="1.50" fill="#5dd444"/><circle cx="14.6" cy="3.8" r="1.29" fill="#1b78a0"/><circle cx="14.9" cy="8.2" r="1.27" fill="#1966a0"/><circle cx="14.7" cy="11.9" r="1.27" fill="#1966a0"/><circle cx="14.9" cy="16.3" r="1.24" fill="#175a9a"/><circle cx="15.1" cy="20.1" r="1.28" fill="#1a72a0"/><circle cx="14.8" cy="23.8" r="1.29" fill="#1b76a0"/><circle cx="16.8" cy="31.9" r="1.30" fill="#1b7aa0"/><circle cx="17.3" cy="35.7" r="1.31" fill="#1c81a0"/><circle cx="17.6" cy="41.4" r="1.37" fill="#25a28d"/><circle cx="18.4" cy="43.9" r="1.37" fill="#26a48a"/><circle cx="18.1" cy="49.0" r="1.35" fill="#229d95"/><circle cx="18.9" cy="52.2" r="1.36" fill="#25a18e"/><circle cx="19.7" cy="56.6" r="1.28" fill="#1a73a0"/><circle cx="20.7" cy="61.8" r="1.34" fill="#1e969f"/><circle cx="21.2" cy="64.9" r="1.27" fill="#196aa0"/><circle cx="20.8" cy="69.6" r="1.39" fill="#2cad7b"/><circle cx="21.9" cy="73.4" r="1.33" fill="#1d8ea0"/><circle cx="22.4" cy="76.9" r="1.36" fill="#239e93"/><circle cx="23.1" cy="81.1" r="1.39" fill="#2cad7c"/><circle cx="24.6" cy="86.1" r="1.33" fill="#1d91a0"/><circle cx="24.5" cy="89.8" r="1.35" fill="#219b98"/><circle cx="25.6" cy="93.3" r="1.39" fill="#2bac7d"/><circle cx="26.1" cy="97.7" r="1.35" fill="#20999b"/><circle cx="27.5" cy="101.9" r="1.45" fill="#3dc850"/><circle cx="28.0" cy="106.6" r="1.36" fill="#24a090"/><circle cx="28.9" cy="110.7" r="1.39" fill="#2cad7b"/><circle cx="29.6" cy="114.0" r="1.39" fill="#2daf79"/><circle cx="30.8" cy="118.5" r="1.36" fill="#25a18f"/><circle cx="32.5" cy="122.1" r="1.50" fill="#5bd444"/><circle cx="37.0" cy="130.5" r="1.44" fill="#38c15b"/><circle cx="26.3" cy="8.5" r="1.19" fill="#103c79"/><circle cx="27.4" cy="26.5" r="1.19" fill="#113e7b"/><circle cx="27.8" cy="31.4" r="1.21" fill="#134886"/><circle cx="27.6" cy="36.7" r="1.11" fill="#081a43"/><circle cx="27.5" cy="40.8" r="1.15" fill="#0c295f"/><circle cx="28.4" cy="45.2" r="1.20" fill="#124583"/><circle cx="29.3" cy="50.6" r="1.16" fill="#0d2e68"/><circle cx="29.3" cy="59.7" r="1.16" fill="#0d306a"/><circle cx="29.7" cy="68.2" r="1.24" fill="#175899"/><circle cx="30.4" cy="73.6" r="1.26" fill="#1965a0"/><circle cx="30.4" cy="76.9" r="1.24" fill="#165595"/><circle cx="30.5" cy="91.9" r="1.26" fill="#1964a0"/><circle cx="31.3" cy="96.6" r="1.25" fill="#185e9e"/><circle cx="31.1" cy="105.9" r="1.31" fill="#1c82a0"/><circle cx="31.1" cy="108.9" r="1.39" fill="#2bac7c"/><circle cx="31.9" cy="113.5" r="1.30" fill="#1b7aa0"/><circle cx="32.4" cy="118.6" r="1.34" fill="#1f989d"/><circle cx="33.4" cy="123.3" r="1.33" fill="#1d91a0"/><circle cx="33.4" cy="1.8" r="1.17" fill="#0e3470"/><circle cx="34.6" cy="6.0" r="1.19" fill="#113f7c"/><circle cx="35.3" cy="11.4" r="1.19" fill="#113f7d"/><circle cx="34.9" cy="15.3" r="1.12" fill="#0a214f"/><circle cx="34.8" cy="25.3" r="1.22" fill="#144c8b"/><circle cx="35.3" cy="29.2" r="1.16" fill="#0d2e67"/><circle cx="35.5" cy="33.8" r="1.23" fill="#155190"/><circle cx="36.0" cy="38.1" r="1.20" fill="#124482"/><circle cx="36.5" cy="48.6" r="1.24" fill="#165696"/><circle cx="37.0" cy="52.1" r="1.14" fill="#0b2557"/><circle cx="37.1" cy="56.2" r="1.17" fill="#0e3470"/><circle cx="37.5" cy="62.2" r="1.14" fill="#0b275a"/><circle cx="37.4" cy="66.6" r="1.19" fill="#113f7d"/><circle cx="36.9" cy="76.1" r="1.26" fill="#1862a0"/><circle cx="37.4" cy="83.9" r="1.28" fill="#1a72a0"/><circle cx="36.3" cy="89.9" r="1.21" fill="#124684"/><circle cx="36.3" cy="93.7" r="1.24" fill="#165898"/><circle cx="36.4" cy="97.7" r="1.34" fill="#1e96a0"/><circle cx="36.9" cy="102.6" r="1.29" fill="#1b79a0"/><circle cx="36.4" cy="107.0" r="1.32" fill="#1d89a0"/><circle cx="38.1" cy="125.5" r="1.37" fill="#26a38b"/><circle cx="42.4" cy="1.2" r="1.14" fill="#0b2658"/><circle cx="42.9" cy="9.7" r="1.10" fill="#07163c"/><circle cx="44.0" cy="15.6" r="1.11" fill="#081b44"/><circle cx="43.5" cy="24.5" r="1.21" fill="#134988"/><circle cx="45.2" cy="33.8" r="1.17" fill="#0f3571"/><circle cx="45.1" cy="38.4" r="1.21" fill="#134785"/><circle cx="45.2" cy="43.4" r="1.22" fill="#144e8d"/><circle cx="44.6" cy="47.3" r="1.12" fill="#091e4a"/><circle cx="45.2" cy="61.3" r="1.14" fill="#0b275a"/><circle cx="44.6" cy="66.0" r="1.19" fill="#103b78"/><circle cx="44.5" cy="70.3" r="1.29" fill="#1b77a0"/><circle cx="44.3" cy="79.4" r="1.21" fill="#134a89"/><circle cx="43.6" cy="83.8" r="1.20" fill="#124482"/><circle cx="42.8" cy="88.6" r="1.30" fill="#1b7da0"/><circle cx="43.1" cy="92.9" r="1.21" fill="#134987"/><circle cx="42.0" cy="97.1" r="1.30" fill="#1b7aa0"/><circle cx="41.8" cy="102.2" r="1.24" fill="#165898"/><circle cx="42.2" cy="107.2" r="1.27" fill="#196ba0"/><circle cx="42.1" cy="110.9" r="1.26" fill="#1964a0"/><circle cx="41.2" cy="121.0" r="1.34" fill="#20999c"/><circle cx="40.7" cy="124.8" r="1.42" fill="#33b967"/><circle cx="41.5" cy="129.9" r="1.35" fill="#229d95"/><circle cx="40.9" cy="134.4" r="1.44" fill="#3ac555"/><circle cx="52.6" cy="17.6" r="1.11" fill="#081a43"/><circle cx="53.1" cy="21.2" r="1.17" fill="#0e306b"/><circle cx="53.5" cy="25.9" r="1.14" fill="#0b285c"/><circle cx="53.5" cy="31.3" r="1.18" fill="#0f3673"/><circle cx="52.9" cy="40.4" r="1.24" fill="#165696"/><circle cx="53.3" cy="44.0" r="1.12" fill="#0a204e"/><circle cx="53.8" cy="49.0" r="1.25" fill="#185e9f"/><circle cx="53.1" cy="53.2" r="1.21" fill="#134785"/><circle cx="54.0" cy="58.6" r="1.25" fill="#185e9f"/><circle cx="52.9" cy="68.3" r="1.26" fill="#1964a0"/><circle cx="51.2" cy="72.4" r="1.23" fill="#165595"/><circle cx="51.3" cy="76.6" r="1.25" fill="#185fa0"/><circle cx="51.1" cy="81.1" r="1.23" fill="#155190"/><circle cx="48.9" cy="94.4" r="1.28" fill="#1a6fa0"/><circle cx="46.5" cy="104.7" r="1.33" fill="#1e93a0"/><circle cx="46.7" cy="109.2" r="1.29" fill="#1b78a0"/><circle cx="45.9" cy="113.3" r="1.30" fill="#1b7ea0"/><circle cx="45.7" cy="118.6" r="1.31" fill="#1c86a0"/><circle cx="61.2" cy="7.2" r="1.18" fill="#103976"/><circle cx="61.1" cy="16.0" r="1.20" fill="#11407d"/><circle cx="60.9" cy="20.2" r="1.15" fill="#0c2b62"/><circle cx="61.9" cy="25.6" r="1.13" fill="#0b2455"/><circle cx="61.7" cy="30.5" r="1.11" fill="#081a42"/><circle cx="62.3" cy="34.2" r="1.11" fill="#081a43"/><circle cx="62.7" cy="39.1" r="1.17" fill="#0e336f"/><circle cx="61.8" cy="43.2" r="1.11" fill="#081b44"/><circle cx="60.2" cy="66.6" r="1.24" fill="#165797"/><circle cx="58.8" cy="70.5" r="1.19" fill="#103d7a"/><circle cx="59.0" cy="76.0" r="1.19" fill="#113e7c"/><circle cx="57.1" cy="79.9" r="1.31" fill="#1c80a0"/><circle cx="55.7" cy="88.8" r="1.33" fill="#1d90a0"/><circle cx="53.0" cy="102.7" r="1.34" fill="#1e95a0"/><circle cx="50.3" cy="112.4" r="1.36" fill="#249f91"/><circle cx="49.5" cy="116.4" r="1.41" fill="#30b470"/><circle cx="49.0" cy="122.1" r="1.40" fill="#2fb372"/><circle cx="71.4" cy="2.4" r="1.32" fill="#1c87a0"/><circle cx="71.8" cy="6.3" r="1.24" fill="#17599a"/><circle cx="71.9" cy="11.0" r="1.34" fill="#20999c"/><circle cx="72.7" cy="14.8" r="1.23" fill="#155291"/><circle cx="73.4" cy="18.9" r="1.35" fill="#219c97"/><circle cx="73.4" cy="22.9" r="1.29" fill="#1b79a0"/><circle cx="73.4" cy="27.1" r="1.28" fill="#1a70a0"/><circle cx="72.9" cy="31.0" r="1.29" fill="#1a74a0"/><circle cx="72.9" cy="35.4" r="1.26" fill="#1863a0"/><circle cx="72.7" cy="39.5" r="1.37" fill="#27a687"/><circle cx="71.9" cy="43.0" r="1.33" fill="#1d90a0"/><circle cx="71.7" cy="47.3" r="1.33" fill="#1d8ea0"/><circle cx="72.1" cy="51.6" r="1.39" fill="#2bab7e"/><circle cx="71.6" cy="55.5" r="1.35" fill="#229c96"/><circle cx="71.3" cy="60.9" r="1.31" fill="#1c81a0"/><circle cx="69.1" cy="63.9" r="1.40" fill="#2fb273"/><circle cx="67.2" cy="72.7" r="1.41" fill="#32b76b"/><circle cx="65.6" cy="76.5" r="1.39" fill="#2bac7c"/><circle cx="64.4" cy="81.0" r="1.33" fill="#1d8ea0"/><circle cx="63.7" cy="85.1" r="1.31" fill="#1c82a0"/><circle cx="61.7" cy="89.4" r="1.39" fill="#2bab7e"/><circle cx="60.6" cy="92.8" r="1.39" fill="#2daf78"/><circle cx="58.9" cy="97.1" r="1.33" fill="#1d8ea0"/><circle cx="58.2" cy="100.9" r="1.46" fill="#41ca4e"/><circle cx="56.3" cy="105.7" r="1.35" fill="#209a9a"/><circle cx="54.3" cy="109.1" r="1.45" fill="#3ec94f"/><circle cx="52.6" cy="114.1" r="1.36" fill="#229d94"/><circle cx="52.0" cy="117.3" r="1.37" fill="#27a588"/><circle cx="49.8" cy="121.7" r="1.37" fill="#27a588"/><circle cx="46.9" cy="130.3" r="1.41" fill="#30b470"/><circle cx="43.9" cy="133.6" r="1.50" fill="#5cd444"/><circle cx="76.0" cy="2.5" r="1.29" fill="#1b78a0"/><circle cx="76.2" cy="5.7" r="1.24" fill="#165797"/><circle cx="76.9" cy="10.0" r="1.27" fill="#196ca0"/><circle cx="76.6" cy="13.7" r="1.33" fill="#1d8da0"/><circle cx="76.3" cy="17.8" r="1.31" fill="#1c86a0"/><circle cx="77.2" cy="21.7" r="1.32" fill="#1d89a0"/><circle cx="77.1" cy="27.0" r="1.34" fill="#1e94a0"/><circle cx="76.0" cy="30.5" r="1.28" fill="#1a6fa0"/><circle cx="77.3" cy="34.4" r="1.27" fill="#1969a0"/><circle cx="76.7" cy="39.2" r="1.31" fill="#1c85a0"/><circle cx="76.3" cy="43.7" r="1.35" fill="#229d95"/><circle cx="76.4" cy="47.3" r="1.37" fill="#26a48a"/><circle cx="75.0" cy="51.2" r="1.28" fill="#1a6da0"/><circle cx="74.4" cy="54.9" r="1.32" fill="#1d8ca0"/><circle cx="75.1" cy="59.1" r="1.29" fill="#1a74a0"/><circle cx="73.6" cy="63.0" r="1.40" fill="#2daf78"/><circle cx="73.0" cy="67.3" r="1.35" fill="#20999b"/><circle cx="71.4" cy="72.1" r="1.40" fill="#2eb175"/><circle cx="70.6" cy="75.6" r="1.41" fill="#30b471"/><circle cx="68.4" cy="80.5" r="1.31" fill="#1c83a0"/><circle cx="67.1" cy="83.4" r="1.35" fill="#219c97"/><circle cx="66.6" cy="87.8" r="1.32" fill="#1c88a0"/><circle cx="64.2" cy="92.3" r="1.36" fill="#249f91"/><circle cx="61.8" cy="100.7" r="1.36" fill="#239e94"/><circle cx="58.7" cy="109.4" r="1.47" fill="#48cd4b"/><circle cx="57.7" cy="113.3" r="1.39" fill="#2bac7c"/><circle cx="55.9" cy="117.4" r="1.41" fill="#31b66c"/><circle cx="54.7" cy="121.1" r="1.40" fill="#2fb273"/><circle cx="52.9" cy="125.6" r="1.38" fill="#2aaa81"/><circle cx="51.2" cy="128.9" r="1.52" fill="#69d93f"/><circle cx="48.9" cy="133.4" r="1.42" fill="#34bb65"/><circle cx="45.7" cy="137.0" r="1.46" fill="#43ca4e"/><circle cx="22.3" cy="57.5" r="1.65" fill="#4ecf49"/><circle cx="18.5" cy="71.6" r="1.53" fill="#9be830"/><circle cx="20.7" cy="81.4" r="1.65" fill="#73dd3b"/><circle cx="21.8" cy="93.4" r="1.65" fill="#d9f22a"/><circle cx="23.9" cy="106.4" r="1.65" fill="#c9f02c"/><circle cx="31.6" cy="104.8" r="1.77" fill="#abeb2f"/><circle cx="38.1" cy="108.1" r="1.65" fill="#73dd3b"/><circle cx="43.5" cy="109.1" r="1.65" fill="#73dd3b"/><circle cx="50.6" cy="108.1" r="1.77" fill="#9be830"/><circle cx="59.8" cy="105.9" r="1.53" fill="#abeb2f"/><circle cx="60.9" cy="94.5" r="1.77" fill="#73dd3b"/><circle cx="66.4" cy="85.7" r="1.53" fill="#e8f528"/><circle cx="60.4" cy="86.3" r="1.65" fill="#73dd3b"/><circle cx="63.1" cy="81.4" r="1.53" fill="#73dd3b"/><circle cx="65.8" cy="72.1" r="2.01" fill="#4ecf49"/><circle cx="69.1" cy="61.3" r="1.77" fill="#41ca4e"/><circle cx="32.6" cy="113.5" r="1.65" fill="#73dd3b"/><circle cx="35.9" cy="115.7" r="1.65" fill="#73dd3b"/><circle cx="49.0" cy="114.6" r="1.65" fill="#66d840"/><circle cx="27.7" cy="116.8" r="1.42" fill="#baed2d"/><circle cx="55.0" cy="117.3" r="1.65" fill="#fdfddc"/><circle cx="32.6" cy="126.0" r="1.65" fill="#fefeee"/><circle cx="37.0" cy="133.6" r="1.65" fill="#fafa96"/><circle cx="42.4" cy="133.4" r="1.53" fill="#c9f02c"/><circle cx="45.2" cy="132.5" r="1.53" fill="#d9f22a"/><circle cx="47.9" cy="131.4" r="1.53" fill="#c9f02c"/><circle cx="27.2" cy="88.5" r="1.53" fill="#5ad345"/><circle cx="25.6" cy="82.5" r="1.53" fill="#4ecf49"/><circle cx="53.9" cy="101.0" r="1.53" fill="#5ad345"/><circle cx="16.9" cy="58.0" r="1.18" fill="#eff645"/><circle cx="16.9" cy="62.4" r="1.18" fill="#e8f528"/><circle cx="75.1" cy="52.6" r="1.18" fill="#eff645"/></g></g><g id="e01m"><path d="M5.6 -6.0C5.6 -5.0 5.6 -4.8 6.0 0.0C6.3 4.8 6.8 14.3 7.6 22.6C8.4 30.9 9.8 41.7 10.9 49.8C12.0 58.0 13.1 64.3 14.1 71.6C15.2 78.9 16.3 87.0 17.4 93.4C18.5 99.7 19.2 104.2 20.7 109.7C22.1 115.1 24.1 121.5 26.1 126.0C28.1 130.5 30.7 134.5 32.6 136.9C34.6 139.3 36.5 139.6 37.9 140.5C39.4 141.4 40.2 142.0 41.3 142.0C42.5 142.0 43.3 141.4 44.7 140.5C46.2 139.6 48.1 139.3 50.1 136.9C52.0 134.5 54.2 131.4 56.6 126.0C58.9 120.6 61.7 111.5 64.2 104.2C66.7 97.0 69.5 89.7 71.8 82.5C74.2 75.2 76.9 68.0 78.3 60.7C79.8 53.5 80.2 46.2 80.5 39.0C80.9 31.7 80.7 23.7 80.5 17.2C80.3 10.7 79.7 3.9 79.4 0.0C79.2 -3.9 79.2 -5.0 79.2 -6.0Z" fill="#3a0a6a" opacity="0.25" filter="url(#bl3)"/><g opacity="0.7" fill="none" stroke="#ee1cf0"><path d="M6.3 -6.0C6.4 -5.0 6.4 -4.8 6.7 0.0C7.1 4.8 7.6 14.3 8.4 22.6C9.2 30.9 10.5 41.7 11.6 49.8C12.7 58.0 13.8 64.3 14.9 71.6C16.0 78.9 17.1 87.0 18.2 93.4C19.2 99.7 20.0 104.2 21.4 109.7C22.9 115.1 24.9 121.5 26.9 126.0C28.9 130.5 31.0 134.4 33.4 136.9C35.8 139.4 38.7 141.1 41.3 141.1C44.0 141.1 46.9 139.4 49.3 136.9C51.7 134.4 53.5 131.4 55.8 126.0C58.2 120.6 60.9 111.5 63.5 104.2C66.0 97.0 68.7 89.7 71.1 82.5C73.4 75.2 76.1 68.0 77.6 60.7C79.0 53.5 79.4 46.2 79.8 39.0C80.1 31.7 80.0 23.7 79.8 17.2C79.6 10.7 78.9 3.9 78.7 0.0C78.5 -3.9 78.5 -5.0 78.4 -6.0" stroke-width="4.4" opacity="0.3" filter="url(#bl15)"/><g filter="url(#bl07)"><path d="M6.3 -6.0C6.4 -5.0 6.4 -4.8 6.7 0.0C7.1 4.8 7.6 14.3 8.4 22.6C9.2 30.9 10.5 41.7 11.6 49.8C12.7 58.0 13.8 64.3 14.9 71.6C16.0 78.9 17.1 87.0 18.2 93.4C19.2 99.7 20.0 104.2 21.4 109.7C22.9 115.1 24.9 121.5 26.9 126.0C28.9 130.5 31.0 134.4 33.4 136.9C35.8 139.4 38.7 141.1 41.3 141.1C44.0 141.1 46.9 139.4 49.3 136.9C51.7 134.4 53.5 131.4 55.8 126.0C58.2 120.6 60.9 111.5 63.5 104.2C66.0 97.0 68.7 89.7 71.1 82.5C73.4 75.2 76.1 68.0 77.6 60.7C79.0 53.5 79.4 46.2 79.8 39.0C80.1 31.7 80.0 23.7 79.8 17.2C79.6 10.7 78.9 3.9 78.7 0.0C78.5 -3.9 78.5 -5.0 78.4 -6.0" stroke-width="2.3"/><path d="M11.5 -6.0C11.5 -5.0 11.5 -4.8 11.9 0.0C12.2 4.8 12.7 14.3 13.5 22.6C14.3 30.9 15.7 41.7 16.8 49.8C17.9 58.0 19.0 64.3 20.0 71.6C21.1 78.9 22.2 87.0 23.3 93.4C24.4 99.7 25.1 104.2 26.6 109.7C28.0 115.1 30.0 121.5 32.0 126.0C34.0 130.5 37.0 135.5 38.5 136.9C40.1 138.3 40.4 134.6 41.3 134.6C42.3 134.6 42.6 138.3 44.2 136.9C45.7 135.5 48.3 131.4 50.7 126.0C53.0 120.6 55.8 111.5 58.3 104.2C60.8 97.0 63.6 89.7 65.9 82.5C68.3 75.2 71.0 68.0 72.4 60.7C73.9 53.5 74.3 46.2 74.6 39.0C75.0 31.7 74.8 23.7 74.6 17.2C74.4 10.7 73.8 3.9 73.5 0.0C73.3 -3.9 73.3 -5.0 73.3 -6.0" stroke-width="1.0" opacity="0.6"/><path d="M15.9 -6.0C15.9 -5.0 15.9 -4.8 16.3 0.0C16.6 4.8 17.1 14.3 17.9 22.6C18.7 30.9 20.1 41.7 21.2 49.8C22.3 58.0 23.4 64.3 24.4 71.6C25.5 78.9 26.6 87.0 27.7 93.4C28.8 99.7 29.5 104.2 31.0 109.7C32.4 115.1 34.4 121.5 36.4 126.0C38.4 130.5 42.1 136.4 42.9 136.9C43.8 137.4 41.9 129.1 41.3 129.1C40.8 129.1 38.9 137.4 39.8 136.9C40.6 136.4 43.9 131.4 46.3 126.0C48.6 120.6 51.4 111.5 53.9 104.2C56.4 97.0 59.2 89.7 61.5 82.5C63.9 75.2 66.6 68.0 68.0 60.7C69.5 53.5 69.9 46.2 70.2 39.0C70.6 31.7 70.4 23.7 70.2 17.2C70.0 10.7 69.4 3.9 69.1 0.0C68.9 -3.9 68.9 -5.0 68.9 -6.0" stroke-width="0.8" opacity="0.35"/><path d="M35 98.6q8 -2 16 0" stroke-width="3.6" stroke="#ff40ff"/><path d="M75 4q5 8 4 24" stroke-width="4.5" opacity="0.8"/><path d="M7 50l5 2M70 96q4 6 9 8M27 140l2 4" stroke-width="1.8" opacity="0.8"/></g></g></g><g id="e11d"><g filter="url(#bl15)" opacity="0.45"><circle cx="43.0" cy="131.4" r="2.31" fill="#73dd3b"/></g><g filter="url(#bl05)"><circle cx="22.9" cy="121.7" r="1.30" fill="#134887"/><circle cx="28.3" cy="121.7" r="1.30" fill="#175b9c"/><circle cx="32.6" cy="128.2" r="1.30" fill="#175b9c"/><circle cx="37.5" cy="128.2" r="1.30" fill="#1966a0"/><circle cx="43.0" cy="131.4" r="1.30" fill="#73dd3b"/><circle cx="58.8" cy="122.7" r="1.30" fill="#155291"/><circle cx="58.8" cy="91.2" r="1.06" fill="#061030"/><circle cx="64.7" cy="92.8" r="1.06" fill="#050f2c"/></g></g><g id="e11m"><path d="M9.0 -6.0C9.0 -5.0 9.0 -5.7 9.2 0.0C9.5 5.7 10.1 18.0 10.3 28.1C10.6 38.2 10.6 50.7 10.9 60.7C11.2 70.7 11.0 79.8 12.0 87.9C13.0 96.1 15.3 103.3 16.9 109.7C18.4 116.0 19.0 121.7 21.2 126.0C23.4 130.4 27.3 133.7 29.9 135.8C32.5 137.9 35.1 138.1 36.9 138.9C38.6 139.6 39.1 140.4 40.3 140.4C41.4 140.4 42.5 139.6 43.7 138.9C44.8 138.1 45.8 138.9 47.3 135.8C48.9 132.7 50.4 125.8 52.8 120.6C55.1 115.3 58.6 109.7 61.5 104.2C64.4 98.8 67.6 94.3 70.2 87.9C72.7 81.6 74.9 74.3 76.7 66.2C78.5 58.0 80.0 50.0 81.1 39.0C82.2 27.9 82.8 7.5 83.2 0.0C83.7 -7.5 83.7 -5.0 83.8 -6.0Z" fill="#3a0a6a" opacity="0.4" filter="url(#bl3)"/><g opacity="0.72" fill="none" stroke="#ee1cf0"><path d="M10.5 -6.0C10.5 -5.0 10.5 -5.7 10.7 0.0C11.0 5.7 11.6 18.0 11.8 28.1C12.1 38.2 12.1 50.7 12.4 60.7C12.7 70.7 12.5 79.8 13.5 87.9C14.5 96.1 16.8 103.3 18.4 109.7C19.9 116.0 20.5 121.7 22.7 126.0C24.9 130.4 28.5 133.7 31.4 135.8C34.3 137.9 37.9 138.5 40.3 138.5C42.7 138.5 44.0 138.8 45.8 135.8C47.7 132.8 48.9 125.8 51.3 120.6C53.6 115.3 57.1 109.7 60.0 104.2C62.9 98.8 66.1 94.3 68.7 87.9C71.2 81.6 73.4 74.3 75.2 66.2C77.0 58.0 78.5 50.0 79.6 39.0C80.7 27.9 81.3 7.5 81.7 0.0C82.2 -7.5 82.2 -5.0 82.3 -6.0" stroke-width="7.2" opacity="0.3" filter="url(#bl15)"/><g filter="url(#bl07)"><path d="M10.5 -6.0C10.5 -5.0 10.5 -5.7 10.7 0.0C11.0 5.7 11.6 18.0 11.8 28.1C12.1 38.2 12.1 50.7 12.4 60.7C12.7 70.7 12.5 79.8 13.5 87.9C14.5 96.1 16.8 103.3 18.4 109.7C19.9 116.0 20.5 121.7 22.7 126.0C24.9 130.4 28.5 133.7 31.4 135.8C34.3 137.9 37.9 138.5 40.3 138.5C42.7 138.5 44.0 138.8 45.8 135.8C47.7 132.8 48.9 125.8 51.3 120.6C53.6 115.3 57.1 109.7 60.0 104.2C62.9 98.8 66.1 94.3 68.7 87.9C71.2 81.6 73.4 74.3 75.2 66.2C77.0 58.0 78.5 50.0 79.6 39.0C80.7 27.9 81.3 7.5 81.7 0.0C82.2 -7.5 82.2 -5.0 82.3 -6.0" stroke-width="3.8"/><path d="M16.4 -6.0C16.4 -5.0 16.4 -5.7 16.6 0.0C16.9 5.7 17.5 18.0 17.7 28.1C18.0 38.2 18.0 50.7 18.3 60.7C18.6 70.7 18.4 79.8 19.4 87.9C20.4 96.1 22.7 103.3 24.3 109.7C25.8 116.0 26.4 121.7 28.6 126.0C30.8 130.4 35.4 134.9 37.3 135.8C39.3 136.7 39.8 131.1 40.3 131.1C40.7 131.1 39.1 137.6 39.9 135.8C40.8 134.0 43.0 125.8 45.4 120.6C47.7 115.3 51.2 109.7 54.1 104.2C57.0 98.8 60.2 94.3 62.8 87.9C65.3 81.6 67.5 74.3 69.3 66.2C71.1 58.0 72.6 50.0 73.7 39.0C74.8 27.9 75.4 7.5 75.8 0.0C76.3 -7.5 76.3 -5.0 76.4 -6.0" stroke-width="1.0" opacity="0.6"/><path d="M20.8 -6.0C20.8 -5.0 20.8 -5.7 21.0 0.0C21.3 5.7 21.9 18.0 22.1 28.1C22.4 38.2 22.4 50.7 22.7 60.7C23.0 70.7 22.8 79.8 23.8 87.9C24.8 96.1 27.1 103.3 28.7 109.7C30.2 116.0 30.8 121.7 33.0 126.0C35.2 130.4 40.5 135.9 41.7 135.8C42.9 135.7 41.3 125.6 40.3 125.6C39.2 125.6 35.4 136.6 35.5 135.8C35.7 135.0 38.6 125.8 41.0 120.6C43.3 115.3 46.8 109.7 49.7 104.2C52.6 98.8 55.8 94.3 58.4 87.9C60.9 81.6 63.1 74.3 64.9 66.2C66.7 58.0 68.2 50.0 69.3 39.0C70.4 27.9 71.0 7.5 71.4 0.0C71.9 -7.5 71.9 -5.0 72.0 -6.0" stroke-width="0.8" opacity="0.35"/><path d="M34 106q8 -4 8 4q10 -4 14 4q0 10 -6 14q-10 2 -14 -6q-6 -8 -2 -16Z" fill="#cc20cc" stroke-width="1"/><path d="M82 58q6 10 6 24q-6 -6 -8 -22Z" fill="#d622d8" stroke-width="1.4"/><path d="M58 110q4 -10 10 -14q2 10 -2 20q4 10 0 16q-6 -4 -8 -22Z" fill="#a018a0" stroke-width="1.2"/><ellipse cx="62" cy="128" rx="3" ry="7" transform="rotate(-15 62 128)" stroke-width="1.2"/><ellipse cx="23" cy="122" rx="2.2" ry="4.6" stroke-width="1"/><ellipse cx="28.5" cy="124" rx="2.2" ry="4.6" stroke-width="1"/><ellipse cx="33" cy="131" rx="2.2" ry="4.6" stroke-width="1"/><ellipse cx="38" cy="131" rx="2.2" ry="4.6" stroke-width="1"/><ellipse cx="43" cy="133" rx="2.4" ry="5" stroke-width="1"/><path d="M11 84q2 14 8 26" stroke-width="4" opacity="0.8"/></g></g></g></defs>
<g id="panel-b-img">
<svg x="449.9" y="173.9" width="88.4" height="144.0" viewBox="0 0 88.4 144.0" overflow="hidden"><rect width="88.4" height="144.0" fill="#000002"/><use href="#b00m"/><use href="#b00d"/><rect x="75.2" y="109" width="1.9" height="31.80000000000001" fill="#e4e4e4"/></svg><svg x="449.9" y="321.4" width="88.4" height="144.0" viewBox="0 0 88.4 144.0" overflow="hidden"><rect width="88.4" height="144.0" fill="#000002"/><use href="#b00d"/><rect x="80.7" y="109.5" width="1.9" height="31.30000000000001" fill="#e4e4e4"/></svg>
<svg x="610.1" y="173.9" width="88.4" height="144.0" viewBox="0 0 88.4 144.0" overflow="hidden"><rect width="88.4" height="144.0" fill="#000002"/><use href="#b10m"/><use href="#b10d"/></svg><svg x="610.1" y="321.4" width="88.4" height="144.0" viewBox="0 0 88.4 144.0" overflow="hidden"><rect width="88.4" height="144.0" fill="#000002"/><use href="#b10d"/></svg>
<svg x="770.3" y="173.9" width="88.4" height="144.0" viewBox="0 0 88.4 144.0" overflow="hidden"><rect width="88.4" height="144.0" fill="#000002"/><use href="#b01m"/><use href="#b01d"/></svg><svg x="770.3" y="321.4" width="88.4" height="144.0" viewBox="0 0 88.4 144.0" overflow="hidden"><rect width="88.4" height="144.0" fill="#000002"/><use href="#b01d"/></svg>
<svg x="930.6" y="173.9" width="88.4" height="144.0" viewBox="0 0 88.4 144.0" overflow="hidden"><rect width="88.4" height="144.0" fill="#000002"/><use href="#b11m"/><use href="#b11d"/></svg><svg x="930.6" y="321.4" width="88.4" height="144.0" viewBox="0 0 88.4 144.0" overflow="hidden"><rect width="88.4" height="144.0" fill="#000002"/><use href="#b11d"/></svg>
<rect x="1033" y="339.8" width="11.2" height="112.0" fill="url(#lut)" stroke="#9a9a9a" stroke-width="0.7"/><text x="1054.4" y="347.7" font-size="11" fill="#111" text-anchor="middle" font-weight="normal" >255</text><text x="1054.4" y="374" font-size="11" fill="#111" text-anchor="middle" font-weight="normal" >191</text><text x="1054.4" y="400.7" font-size="11" fill="#111" text-anchor="middle" font-weight="normal" >128</text><text x="1054.4" y="427.4" font-size="11" fill="#111" text-anchor="middle" font-weight="normal" >64</text><text x="1054.4" y="453.4" font-size="11" fill="#111" text-anchor="middle" font-weight="normal" >0</text>
</g>
<g id="panel-e-img">
<svg x="449.9" y="647.5" width="88.4" height="144.0" viewBox="0 0 88.4 144.0" overflow="hidden"><rect width="88.4" height="144.0" fill="#000002"/><use href="#e00m"/><use href="#e00d"/><rect x="79.4" y="107.5" width="1.9" height="30.69999999999999" fill="#e4e4e4"/></svg><svg x="449.9" y="795.2" width="88.4" height="144.0" viewBox="0 0 88.4 144.0" overflow="hidden"><rect width="88.4" height="144.0" fill="#000002"/><use href="#e00d"/><rect x="79.4" y="105.4" width="1.9" height="31.799999999999983" fill="#e4e4e4"/></svg>
<svg x="610.1" y="647.5" width="88.4" height="144.0" viewBox="0 0 88.4 144.0" overflow="hidden"><rect width="88.4" height="144.0" fill="#000002"/><use href="#e10m"/><use href="#e10d"/></svg><svg x="610.1" y="795.2" width="88.4" height="144.0" viewBox="0 0 88.4 144.0" overflow="hidden"><rect width="88.4" height="144.0" fill="#000002"/><use href="#e10d"/></svg>
<svg x="770.3" y="647.5" width="88.4" height="144.0" viewBox="0 0 88.4 144.0" overflow="hidden"><rect width="88.4" height="144.0" fill="#000002"/><use href="#e01m"/><use href="#e01d"/></svg><svg x="770.3" y="795.2" width="88.4" height="144.0" viewBox="0 0 88.4 144.0" overflow="hidden"><rect width="88.4" height="144.0" fill="#000002"/><use href="#e01d"/></svg>
<svg x="930.6" y="647.5" width="88.4" height="144.0" viewBox="0 0 88.4 144.0" overflow="hidden"><rect width="88.4" height="144.0" fill="#000002"/><use href="#e11m"/><use href="#e11d"/></svg><svg x="930.6" y="795.2" width="88.4" height="144.0" viewBox="0 0 88.4 144.0" overflow="hidden"><rect width="88.4" height="144.0" fill="#000002"/><use href="#e11d"/></svg>
<rect x="1033" y="811.3" width="11.2" height="112.60000000000002" fill="url(#lut)" stroke="#9a9a9a" stroke-width="0.7"/><text x="1054.4" y="819.7" font-size="11" fill="#111" text-anchor="middle" font-weight="normal" >255</text><text x="1054.4" y="846.4" font-size="11" fill="#111" text-anchor="middle" font-weight="normal" >191</text><text x="1054.4" y="873" font-size="11" fill="#111" text-anchor="middle" font-weight="normal" >128</text><text x="1054.4" y="899.1" font-size="11" fill="#111" text-anchor="middle" font-weight="normal" >64</text><text x="1054.4" y="924.9" font-size="11" fill="#111" text-anchor="middle" font-weight="normal" >0</text>
</g>
<g id="panel-g-head">
<text x="31.4" y="995" class="pl">g</text>
<text x="118" y="1020" font-size="14" fill="#222" text-anchor="middle" font-weight="normal" >OR</text>
<path d="M75.7 1054H105M75.7 1074.3H105M144 1065.7H161" fill="none" stroke="#231815" stroke-width="1.0" />
<path d="M101.7 1047.3H115.236C130.464 1047.3 140.616 1057.576 144 1065.65C140.616 1073.7240000000002 130.464 1084 115.236 1084H101.7Q108.468 1065.65 101.7 1047.3Z" fill="#fff" stroke="#231815" stroke-width="1.0"/>
<text x="235.4" y="1032.7" font-size="14" fill="#111" text-anchor="middle" font-weight="normal" >Input</text>
<text x="235.4" y="1049" font-size="14" fill="#111" text-anchor="middle" font-weight="normal" >signals</text>
<text x="235.8" y="1105" font-size="14" fill="#111" text-anchor="middle" font-weight="normal" >Output</text>
<text x="311.6" y="1024" font-size="12" fill="#111" text-anchor="middle" font-weight="normal" >NAA</text>
<text x="312" y="1058.3" font-size="12" fill="#111" text-anchor="middle" font-weight="normal" >tZ</text>
<text x="311.6" y="1097.3" font-size="12" fill="#111" text-anchor="middle" font-weight="normal" >NRG1.1</text>
<text x="312.4" y="1112.3" font-size="12" fill="#111" text-anchor="middle" font-weight="normal" >D458V</text>
<path d="M343.30 1016.26L348.53 1013.22L353.75 1016.26L358.98 1013.22L364.20 1016.26L364.20 1022.14L358.98 1025.18L353.75 1022.14L348.53 1025.18L343.30 1022.14Z" fill="#c8324b"/><path d="M358.98 1013.51v-5.32l4.84 -3.13v-4.08m0 4.08l4.66 3.32" fill="none" stroke="#d8627a" stroke-width="0.81"/>
<path d="M346.00 1055.60L350.94 1052.95L355.79 1056.06L360.82 1054.22L365.00 1058.59L360.82 1063.41L355.79 1061.69L350.94 1064.45L346.00 1061.92Z" fill="#f58a52"/><path d="M350.94 1053.25v-3.32l5.03 -1.99v-5.13l-4.84 -2.28l-4.27 2.28" fill="none" stroke="#f7a97c" stroke-width="0.81"/>
<g transform="translate(340.7 1110) rotate(-35.5)"><rect x="10" y="-4.2" width="30" height="8.4" fill="#b5e3b0"/><path d="M15 -4.2V4.2M20 -4.2V4.2M25 -4.2V4.2M30 -4.2V4.2M35 -4.2V4.2" stroke="#d6f0d2" stroke-width="0.8"/><rect x="2" y="-3.4" width="14" height="6.8" rx="1.5" fill="#a57fd0"/><circle cx="9" cy="0" r="1" fill="#f3e9ff"/><circle cx="0" cy="0" r="2.9" fill="#6aa7e0"/></g>
<text x="404.5" y="1001" font-size="14" fill="#111" text-anchor="middle" font-weight="normal" >00</text>
<text x="496.7" y="1001" font-size="14" fill="#111" text-anchor="middle" font-weight="normal" >10</text>
<text x="587.3" y="1001" font-size="14" fill="#111" text-anchor="middle" font-weight="normal" >01</text>
<text x="679" y="1001" font-size="14" fill="#111" text-anchor="middle" font-weight="normal" >11</text>
<text x="400.50" y="1026.59" font-size="19" font-weight="bold" fill="#111" textLength="7.4" lengthAdjust="spacingAndGlyphs">-</text>
<text x="400.50" y="1056.59" font-size="19" font-weight="bold" fill="#111" textLength="7.4" lengthAdjust="spacingAndGlyphs">-</text>
<text x="400.50" y="1104.39" font-size="19" font-weight="bold" fill="#111" textLength="7.4" lengthAdjust="spacingAndGlyphs">-</text>
<text x="496" y="1026.13" font-size="17" font-weight="bold" fill="#111" text-anchor="middle">+</text>
<text x="492.30" y="1056.59" font-size="19" font-weight="bold" fill="#111" textLength="7.4" lengthAdjust="spacingAndGlyphs">-</text>
<text x="496" y="1103.93" font-size="17" font-weight="bold" fill="#111" text-anchor="middle">+</text>
<text x="583.60" y="1026.59" font-size="19" font-weight="bold" fill="#111" textLength="7.4" lengthAdjust="spacingAndGlyphs">-</text>
<text x="587.3" y="1056.13" font-size="17" font-weight="bold" fill="#111" text-anchor="middle">+</text>
<text x="587.3" y="1103.93" font-size="17" font-weight="bold" fill="#111" text-anchor="middle">+</text>
<text x="679" y="1026.13" font-size="17" font-weight="bold" fill="#111" text-anchor="middle">+</text>
<text x="679" y="1056.13" font-size="17" font-weight="bold" fill="#111" text-anchor="middle">+</text>
<text x="679" y="1103.93" font-size="17" font-weight="bold" fill="#111" text-anchor="middle">+</text>
</g>
<defs><radialGradient id="lg1" cx="0.5" cy="0.45" r="0.65"><stop offset="0" stop-color="#8cc653"/><stop offset="0.7" stop-color="#7ab648"/><stop offset="1" stop-color="#69a63c"/></radialGradient><radialGradient id="lg2" cx="0.45" cy="0.45" r="0.7"><stop offset="0" stop-color="#7fa548"/><stop offset="0.6" stop-color="#7a9f42"/><stop offset="1" stop-color="#769a3a"/></radialGradient><radialGradient id="lr" cx="0.5" cy="0.42" r="0.65"><stop offset="0" stop-color="#f8285f"/><stop offset="0.7" stop-color="#f2235c"/><stop offset="1" stop-color="#e0255a"/></radialGradient><linearGradient id="pbg" x1="0" y1="0.3" x2="1" y2="0.6"><stop offset="0" stop-color="#2a0a2a"/><stop offset="0.5" stop-color="#3a0f34"/><stop offset="1" stop-color="#50153e"/></linearGradient><filter id="b2" x="-20%" y="-20%" width="140%" height="140%"><feGaussianBlur stdDeviation="9"/></filter><filter id="b4" x="-30%" y="-30%" width="160%" height="160%"><feGaussianBlur stdDeviation="28"/></filter><filter id="b1" x="-10%" y="-10%" width="120%" height="120%"><feGaussianBlur stdDeviation="3.5"/></filter><clipPath id="cp1"><rect x="43" y="57" width="969" height="1048"/></clipPath><clipPath id="cp2"><rect x="57" y="57" width="970" height="1048"/></clipPath><clipPath id="cp3"><rect x="58" y="57" width="964" height="1048"/></clipPath></defs>
<g id="photo1" transform="translate(65 1140) scale(0.20371)">
<rect x="43" y="57" width="969" height="1048" fill="#0b0f11"/>
<g clip-path="url(#cp1)">
<path d="M140 470Q150 330 280 270L470 232Q640 250 692 335L640 545Q600 662 520 684L380 664Q200 640 130 510Z" fill="#c06a55"/>
<path d="M300 650Q400 705 520 690L580 660Q480 700 330 664Z" fill="#d5d8e6"/>
<path d="M330 330L470 268Q600 290 652 360L604 560Q560 650 480 662L400 642Q340 520 330 330Z" fill="#3b2b1f"/>
<path d="M360 360L470 300Q580 320 620 380L580 540Q540 620 470 630L420 610Q370 500 360 360Z" fill="#5b4634" opacity="0.6" filter="url(#b2)"/>
<path d="M115.0 340.0C120.8 329.2 135.8 290.0 150.0 275.0C164.2 260.0 181.7 245.8 200.0 250.0C218.3 254.2 243.3 281.7 260.0 300.0C276.7 318.3 301.7 343.3 300.0 360.0C298.3 376.7 270.0 388.3 250.0 400.0C230.0 411.7 200.0 428.3 180.0 430.0C160.0 431.7 140.8 425.0 130.0 410.0C119.2 395.0 117.5 351.7 115.0 340.0Z" fill="#88be58" filter="url(#b1)"/>
<path d="M340.0 62.0C350.0 61.7 380.0 57.0 400.0 60.0C420.0 63.0 445.0 68.3 460.0 80.0C475.0 91.7 484.2 113.3 490.0 130.0C495.8 146.7 498.3 161.7 495.0 180.0C491.7 198.3 480.8 221.7 470.0 240.0C459.2 258.3 441.7 274.2 430.0 290.0C418.3 305.8 413.3 326.3 400.0 335.0C386.7 343.7 368.3 339.5 350.0 342.0C331.7 344.5 310.0 352.0 290.0 350.0C270.0 348.0 245.0 343.3 230.0 330.0C215.0 316.7 204.2 291.7 200.0 270.0C195.8 248.3 200.0 221.7 205.0 200.0C210.0 178.3 217.5 158.3 230.0 140.0C242.5 121.7 261.7 103.0 280.0 90.0C298.3 77.0 330.0 66.7 340.0 62.0Z" fill="#96cb66" filter="url(#b1)"/>
<path d="M572.0 120.0C580.0 115.8 600.3 100.0 620.0 95.0C639.7 90.0 669.2 87.5 690.0 90.0C710.8 92.5 735.8 101.7 745.0 110.0C754.2 118.3 739.2 130.0 745.0 140.0C750.8 150.0 771.3 157.5 780.0 170.0C788.7 182.5 798.7 201.7 797.0 215.0C795.3 228.3 786.2 242.2 770.0 250.0C753.8 257.8 720.0 261.2 700.0 262.0C680.0 262.8 661.7 261.2 650.0 255.0C638.3 248.8 638.3 237.5 630.0 225.0C621.7 212.5 609.7 197.5 600.0 180.0C590.3 162.5 576.7 130.0 572.0 120.0Z" fill="#92c862" filter="url(#b1)"/>
<path d="M100.0 545.0C105.0 534.2 116.7 500.8 130.0 480.0C143.3 459.2 158.3 437.5 180.0 420.0C201.7 402.5 233.3 385.8 260.0 375.0C286.7 364.2 316.7 354.2 340.0 355.0C363.3 355.8 383.3 365.8 400.0 380.0C416.7 394.2 430.8 420.0 440.0 440.0C449.2 460.0 455.0 478.3 455.0 500.0C455.0 521.7 449.2 550.0 440.0 570.0C430.8 590.0 418.3 606.7 400.0 620.0C381.7 633.3 356.7 644.2 330.0 650.0C303.3 655.8 268.3 659.2 240.0 655.0C211.7 650.8 181.7 636.7 160.0 625.0C138.3 613.3 120.0 598.3 110.0 585.0C100.0 571.7 101.7 551.7 100.0 545.0Z" fill="#8ac15a" filter="url(#b1)"/>
<path d="M700.0 370.0C711.7 364.7 748.3 339.7 770.0 338.0C791.7 336.3 810.0 348.0 830.0 360.0C850.0 372.0 871.7 391.7 890.0 410.0C908.3 428.3 925.3 450.0 940.0 470.0C954.7 490.0 974.7 513.3 978.0 530.0C981.3 546.7 969.7 558.3 960.0 570.0C950.3 581.7 935.0 588.3 920.0 600.0C905.0 611.7 888.3 632.5 870.0 640.0C851.7 647.5 831.7 650.0 810.0 645.0C788.3 640.0 760.0 622.5 740.0 610.0C720.0 597.5 703.3 585.0 690.0 570.0C676.7 555.0 664.2 540.0 660.0 520.0C655.8 500.0 658.3 475.0 665.0 450.0C671.7 425.0 694.2 383.3 700.0 370.0Z" fill="#8cc35c" filter="url(#b1)"/>
<path d="M560.0 165.0C566.7 170.8 586.7 184.2 600.0 200.0C613.3 215.8 632.0 243.3 640.0 260.0C648.0 276.7 653.0 285.0 648.0 300.0C643.0 315.0 626.3 335.8 610.0 350.0C593.7 364.2 568.3 380.0 550.0 385.0C531.7 390.0 513.3 387.5 500.0 380.0C486.7 372.5 473.3 355.0 470.0 340.0C466.7 325.0 473.3 310.0 480.0 290.0C486.7 270.0 496.7 240.8 510.0 220.0C523.3 199.2 551.7 174.2 560.0 165.0Z" fill="#92c862" filter="url(#b1)"/>
<path d="M500.0 680.0C515.0 681.3 563.3 678.0 590.0 688.0C616.7 698.0 644.7 716.3 660.0 740.0C675.3 763.7 682.0 798.3 682.0 830.0C682.0 861.7 672.0 898.3 660.0 930.0C648.0 961.7 630.0 994.2 610.0 1020.0C590.0 1045.8 557.5 1072.5 540.0 1085.0C522.5 1097.5 520.0 1100.8 505.0 1095.0C490.0 1089.2 472.5 1072.5 450.0 1050.0C427.5 1027.5 390.8 990.0 370.0 960.0C349.2 930.0 330.8 901.7 325.0 870.0C319.2 838.3 322.5 798.3 335.0 770.0C347.5 741.7 372.5 715.0 400.0 700.0C427.5 685.0 483.3 683.3 500.0 680.0Z" fill="#7eb448" filter="url(#b1)"/>
<g filter="url(#b2)" opacity="0.55"><path d="M230 300Q300 200 360 120Q420 200 430 290Q330 340 230 300Z" fill="#aedb82"/><path d="M120 560Q200 470 330 420Q300 560 200 620Z" fill="#aad87e"/><path d="M330 420Q420 440 440 540Q380 640 260 640Q330 560 330 420Z" fill="#76aa46"/><path d="M700 420Q800 380 900 470Q820 500 720 560Z" fill="#a8d67c"/><path d="M720 570Q840 520 950 560Q880 640 790 630Z" fill="#74a844"/><path d="M600 120Q700 110 770 200Q700 240 640 220Z" fill="#aad87e"/><path d="M400 700Q520 760 610 720L650 830Q520 800 340 850Z" fill="#90c460"/><path d="M360 900Q500 980 640 900Q600 1020 510 1080Q420 1020 360 900Z" fill="#6ea23a"/></g>
<path d="M507 1090V450M372 232L500 440M505 455L700 457L890 475M505 455L330 462L160 525M545 385L512 450M690 175L600 215" fill="none" stroke="#c4e89c" stroke-width="8" stroke-linecap="round" opacity="0.85" filter="url(#b1)"/>
<path d="M505 760L400 900M505 800L620 900M505 900L560 980M330 462L250 400M330 462L300 570M700 457L780 390M720 460L800 560" fill="none" stroke="#b2dc88" stroke-width="5" opacity="0.7" filter="url(#b1)"/>
<circle cx="393" cy="938" r="30" fill="#c9dfae" opacity="0.55" filter="url(#b2)"/>
<circle cx="393" cy="938" r="39" fill="none" stroke="#dfeccb" stroke-width="4"/>
<circle cx="445" cy="1012" r="30" fill="#c9dfae" opacity="0.55" filter="url(#b2)"/>
<circle cx="445" cy="1012" r="39" fill="none" stroke="#dfeccb" stroke-width="4"/>
<circle cx="567" cy="1017" r="30" fill="#c9dfae" opacity="0.55" filter="url(#b2)"/>
<circle cx="567" cy="1017" r="39" fill="none" stroke="#dfeccb" stroke-width="4"/>
<circle cx="632" cy="925" r="30" fill="#c9dfae" opacity="0.55" filter="url(#b2)"/>
<circle cx="632" cy="925" r="39" fill="none" stroke="#dfeccb" stroke-width="4"/>
</g>
<rect x="292" y="668" width="428" height="427" fill="none" stroke="#d6d6d6" stroke-width="5"/>
</g>
<path d="M211.9 1275.6L271.4 1210.4" fill="none" stroke="#f2f2f2" stroke-width="1.4" stroke-dasharray="2 2.4"/>
<path d="M272 1209.6L321 1152.6" fill="none" stroke="#ee7eb0" stroke-width="1.3" stroke-dasharray="2 2.6"/>
<path d="M214 1363.3H271.2" fill="none" stroke="#e8e8e8" stroke-width="1.6" stroke-dasharray="2 2.2"/>
<path d="M271.6 1363.6L321 1364.8" fill="none" stroke="#ee7eb0" stroke-width="1.4" stroke-dasharray="2 2.6"/>
<g id="photo2" transform="translate(310 1140) scale(0.20371)">
<rect x="57" y="57" width="970" height="1048" fill="#030503"/>
<g clip-path="url(#cp2)">
<path d="M540.0 65.0C566.7 70.8 651.7 87.5 700.0 100.0C748.3 112.5 796.7 122.5 830.0 140.0C863.3 157.5 876.7 178.3 900.0 205.0C923.3 231.7 951.7 264.2 970.0 300.0C988.3 335.8 1001.7 383.3 1010.0 420.0C1018.3 456.7 1022.5 486.7 1020.0 520.0C1017.5 553.3 1005.0 590.0 995.0 620.0C985.0 650.0 971.7 671.7 960.0 700.0C948.3 728.3 935.0 763.3 925.0 790.0C915.0 816.7 915.0 836.7 900.0 860.0C885.0 883.3 856.7 913.0 835.0 930.0C813.3 947.0 792.5 950.3 770.0 962.0C747.5 973.7 721.7 985.3 700.0 1000.0C678.3 1014.7 661.7 1034.2 640.0 1050.0C618.3 1065.8 593.3 1093.0 570.0 1095.0C546.7 1097.0 521.7 1075.8 500.0 1062.0C478.3 1048.2 458.3 1024.0 440.0 1012.0C421.7 1000.0 408.3 1003.7 390.0 990.0C371.7 976.3 350.0 950.0 330.0 930.0C310.0 910.0 291.7 895.0 270.0 870.0C248.3 845.0 224.2 811.7 200.0 780.0C175.8 748.3 144.7 713.3 125.0 680.0C105.3 646.7 90.2 615.0 82.0 580.0C73.8 545.0 73.0 508.3 76.0 470.0C79.0 431.7 87.7 386.7 100.0 350.0C112.3 313.3 128.3 280.0 150.0 250.0C171.7 220.0 198.3 191.7 230.0 170.0C261.7 148.3 303.3 133.3 340.0 120.0C376.7 106.7 416.7 99.2 450.0 90.0C483.3 80.8 525.0 69.2 540.0 65.0Z" fill="url(#lg2)"/>
<path d="M560 250Q680 500 600 1080Q540 900 560 250Z" fill="#5c8526" opacity="0.6" filter="url(#b4)"/>
<path d="M120 500Q200 350 400 200Q500 400 530 700Q300 740 120 500Z" fill="#8fb356" opacity="0.6" filter="url(#b4)"/>
<path d="M700 200Q900 300 1000 520Q960 700 800 860Q780 500 700 200Z" fill="#93b84c" opacity="0.65" filter="url(#b4)"/>
<path d="M555 75Q545 250 560 300Q570 600 545 1000" fill="none" stroke="#9dbd68" stroke-width="10" opacity="0.8" filter="url(#b1)"/>
<path d="M552 70Q546 180 556 260" fill="none" stroke="#dfe9c0" stroke-width="11" opacity="0.9" filter="url(#b1)"/>
<path d="M555 250Q400 420 300 600M570 300Q720 420 860 560M560 280Q650 150 720 120" fill="none" stroke="#5f882a" stroke-width="7" opacity="0.5" filter="url(#b1)"/>
<g filter="url(#b1)">
<path d="M225 690Q280 660 300 720Q350 740 340 800Q280 830 240 800Q200 760 225 690Z" fill="#b9cf8f" opacity="0.75"/>
<path d="M340 840Q400 810 440 850Q490 870 480 920Q470 980 440 1000L400 960Q350 900 340 840Z" fill="#d3dac4" opacity="0.92"/>
<path d="M610 880Q660 830 730 840Q780 870 770 930L720 960L680 990Q630 950 610 880Z" fill="#d0d8c0" opacity="0.92"/>
<path d="M780 640Q820 610 870 640Q930 640 945 690Q900 760 850 770Q790 740 780 640Z" fill="#ccd5bc" opacity="0.92"/>
<path d="M870 700Q920 690 940 720L900 770Q870 750 870 700Z" fill="#8fae62"/>
</g>
<path d="M330 950Q380 960 420 1000L450 1020L380 1030Z" fill="#030503"/>
<path d="M690 985Q720 960 775 950L760 1000Z" fill="#030503"/>
</g>
<circle cx="275" cy="735" r="100" fill="none" stroke="#f1f5e0" stroke-width="6.2"/>
<circle cx="413" cy="905" r="103" fill="none" stroke="#f1f5e0" stroke-width="6.2"/>
<circle cx="693" cy="905" r="101" fill="none" stroke="#f1f5e0" stroke-width="6.2"/>
<circle cx="860" cy="685" r="100" fill="none" stroke="#f1f5e0" stroke-width="6.2"/>
</g>
<g id="photo3" transform="translate(515 1140) scale(0.20371)">
<rect x="58" y="57" width="964" height="1048" fill="url(#pbg)"/>
<g clip-path="url(#cp3)">
<path d="M520.0 95.0C533.3 95.8 570.0 94.2 600.0 100.0C630.0 105.8 663.3 121.7 700.0 130.0C736.7 138.3 786.7 135.0 820.0 150.0C853.3 165.0 876.7 195.0 900.0 220.0C923.3 245.0 945.0 266.7 960.0 300.0C975.0 333.3 985.8 381.7 990.0 420.0C994.2 458.3 988.3 493.3 985.0 530.0C981.7 566.7 977.5 605.0 970.0 640.0C962.5 675.0 951.7 708.3 940.0 740.0C928.3 771.7 916.7 803.3 900.0 830.0C883.3 856.7 863.3 878.3 840.0 900.0C816.7 921.7 783.3 945.0 760.0 960.0C736.7 975.0 720.0 976.7 700.0 990.0C680.0 1003.3 656.7 1028.3 640.0 1040.0C623.3 1051.7 616.7 1055.8 600.0 1060.0C583.3 1064.2 560.0 1073.3 540.0 1065.0C520.0 1056.7 503.3 1027.5 480.0 1010.0C456.7 992.5 425.0 978.3 400.0 960.0C375.0 941.7 350.0 918.3 330.0 900.0C310.0 881.7 301.7 870.0 280.0 850.0C258.3 830.0 225.0 806.7 200.0 780.0C175.0 753.3 145.8 723.3 130.0 690.0C114.2 656.7 110.0 620.0 105.0 580.0C100.0 540.0 97.5 488.3 100.0 450.0C102.5 411.7 108.3 381.7 120.0 350.0C131.7 318.3 148.3 286.7 170.0 260.0C191.7 233.3 220.0 208.3 250.0 190.0C280.0 171.7 316.7 161.7 350.0 150.0C383.3 138.3 421.7 129.2 450.0 120.0C478.3 110.8 508.3 99.2 520.0 95.0Z" fill="#7a2050" opacity="0.6" filter="url(#b2)"/>
<path d="M520.0 95.0C533.3 95.8 570.0 94.2 600.0 100.0C630.0 105.8 663.3 121.7 700.0 130.0C736.7 138.3 786.7 135.0 820.0 150.0C853.3 165.0 876.7 195.0 900.0 220.0C923.3 245.0 945.0 266.7 960.0 300.0C975.0 333.3 985.8 381.7 990.0 420.0C994.2 458.3 988.3 493.3 985.0 530.0C981.7 566.7 977.5 605.0 970.0 640.0C962.5 675.0 951.7 708.3 940.0 740.0C928.3 771.7 916.7 803.3 900.0 830.0C883.3 856.7 863.3 878.3 840.0 900.0C816.7 921.7 783.3 945.0 760.0 960.0C736.7 975.0 720.0 976.7 700.0 990.0C680.0 1003.3 656.7 1028.3 640.0 1040.0C623.3 1051.7 616.7 1055.8 600.0 1060.0C583.3 1064.2 560.0 1073.3 540.0 1065.0C520.0 1056.7 503.3 1027.5 480.0 1010.0C456.7 992.5 425.0 978.3 400.0 960.0C375.0 941.7 350.0 918.3 330.0 900.0C310.0 881.7 301.7 870.0 280.0 850.0C258.3 830.0 225.0 806.7 200.0 780.0C175.0 753.3 145.8 723.3 130.0 690.0C114.2 656.7 110.0 620.0 105.0 580.0C100.0 540.0 97.5 488.3 100.0 450.0C102.5 411.7 108.3 381.7 120.0 350.0C131.7 318.3 148.3 286.7 170.0 260.0C191.7 233.3 220.0 208.3 250.0 190.0C280.0 171.7 316.7 161.7 350.0 150.0C383.3 138.3 421.7 129.2 450.0 120.0C478.3 110.8 508.3 99.2 520.0 95.0Z" fill="url(#lr)"/>
<path d="M545 110Q540 250 555 330" fill="none" stroke="#f58aa8" stroke-width="12" opacity="0.7" filter="url(#b1)"/>
<g filter="url(#b1)">
<path d="M240 720Q290 680 330 700Q350 750 380 780Q370 820 300 830Q230 800 240 720Z" fill="#c89a9a" opacity="0.85"/>
<path d="M380 840Q440 810 490 840Q530 880 520 930L500 980Q460 990 430 940Q390 900 380 840Z" fill="#8fae9c"/>
<path d="M425 900Q460 900 480 960Q470 985 445 975Q430 940 425 900Z" fill="#7fe0e6"/>
<path d="M640 850Q700 810 760 830Q800 870 790 920L740 940L690 970Q650 920 640 850Z" fill="#93ae9c"/>
<path d="M780 620Q830 590 880 630Q940 640 940 690Q900 750 850 750Q790 720 780 620Z" fill="#8fb09a"/>
<circle cx="858" cy="708" r="12" fill="#bfeff2"/>
</g>
<path d="M370 940Q410 950 440 985L455 1000L400 1000Z" fill="#1d0a24"/>
<path d="M700 975Q730 950 780 935L770 980Z" fill="#2a0d2c"/>
<circle cx="656" cy="829" r="6.2" fill="#7a6ae0" opacity="0.87"/>
<circle cx="766" cy="1015" r="3.1" fill="#7a6ae0" opacity="0.63"/>
<circle cx="957" cy="733" r="6.6" fill="#7a6ae0" opacity="0.46"/>
<circle cx="511" cy="319" r="5.2" fill="#7a6ae0" opacity="0.69"/>
<circle cx="82" cy="288" r="4.1" fill="#7a6ae0" opacity="0.86"/>
<circle cx="790" cy="229" r="6.2" fill="#7a6ae0" opacity="0.47"/>
<circle cx="650" cy="196" r="3.0" fill="#7a6ae0" opacity="0.84"/>
<circle cx="267" cy="287" r="6.9" fill="#7a6ae0" opacity="0.84"/>
<circle cx="342" cy="1055" r="5.2" fill="#7a6ae0" opacity="0.74"/>
<circle cx="262" cy="1034" r="5.8" fill="#7a6ae0" opacity="0.88"/>
<circle cx="910" cy="373" r="4.4" fill="#7a6ae0" opacity="0.48"/>
<circle cx="207" cy="132" r="4.2" fill="#7a6ae0" opacity="0.70"/>
<circle cx="73" cy="763" r="4.4" fill="#7a6ae0" opacity="0.55"/>
<circle cx="839" cy="560" r="4.3" fill="#7a6ae0" opacity="0.64"/>
<circle cx="732" cy="124" r="6.9" fill="#7a6ae0" opacity="0.41"/>
<circle cx="775" cy="935" r="3.1" fill="#7a6ae0" opacity="0.79"/>
<circle cx="414" cy="661" r="3.0" fill="#7a6ae0" opacity="0.42"/>
<circle cx="240" cy="1049" r="3.8" fill="#7a6ae0" opacity="0.78"/>
<circle cx="944" cy="1035" r="4.4" fill="#7a6ae0" opacity="0.58"/>
<circle cx="563" cy="864" r="3.4" fill="#7a6ae0" opacity="0.77"/>
<circle cx="819" cy="950" r="3.1" fill="#7a6ae0" opacity="0.87"/>
<circle cx="156" cy="416" r="5.4" fill="#7a6ae0" opacity="0.86"/>
<circle cx="390" cy="1017" r="5.2" fill="#7a6ae0" opacity="0.56"/>
<circle cx="368" cy="248" r="3.3" fill="#7a6ae0" opacity="0.47"/>
<circle cx="718" cy="1092" r="3.6" fill="#7a6ae0" opacity="0.42"/>
<circle cx="997" cy="615" r="4.6" fill="#7a6ae0" opacity="0.52"/>
<circle cx="628" cy="916" r="4.8" fill="#7a6ae0" opacity="0.61"/>
<circle cx="122" cy="1009" r="3.1" fill="#7a6ae0" opacity="0.65"/>
<circle cx="858" cy="199" r="5.9" fill="#7a6ae0" opacity="0.87"/>
<circle cx="663" cy="877" r="3.4" fill="#7a6ae0" opacity="0.62"/>
<circle cx="210" cy="935" r="4.2" fill="#7a6ae0" opacity="0.63"/>
<circle cx="1009" cy="943" r="6.9" fill="#7a6ae0" opacity="0.63"/>
<circle cx="529" cy="816" r="4.9" fill="#7a6ae0" opacity="0.55"/>
<circle cx="450" cy="216" r="4.5" fill="#7a6ae0" opacity="0.89"/>
<circle cx="972" cy="711" r="5.0" fill="#7a6ae0" opacity="0.57"/>
<circle cx="154" cy="345" r="6.1" fill="#7a6ae0" opacity="0.83"/>
<circle cx="410" cy="875" r="6.1" fill="#7a6ae0" opacity="0.75"/>
<circle cx="694" cy="847" r="4.5" fill="#7a6ae0" opacity="0.75"/>
<circle cx="334" cy="565" r="6.1" fill="#7a6ae0" opacity="0.75"/>
<circle cx="346" cy="1039" r="5.6" fill="#7a6ae0" opacity="0.69"/>
<circle cx="81" cy="628" r="4.0" fill="#7a6ae0" opacity="0.74"/>
<circle cx="505" cy="906" r="5.6" fill="#7a6ae0" opacity="0.80"/>
<circle cx="397" cy="728" r="6.0" fill="#7a6ae0" opacity="0.81"/>
<circle cx="399" cy="933" r="6.5" fill="#7a6ae0" opacity="0.74"/>
<circle cx="988" cy="1050" r="5.1" fill="#7a6ae0" opacity="0.66"/>
<circle cx="226" cy="927" r="6.7" fill="#7a6ae0" opacity="0.64"/>
</g>
<circle cx="300" cy="742" r="98" fill="none" stroke="#fbe3ea" stroke-width="6.2"/>
<circle cx="450" cy="898" r="103" fill="none" stroke="#fbe3ea" stroke-width="6.2"/>
<circle cx="710" cy="890" r="100" fill="none" stroke="#fbe3ea" stroke-width="6.2"/>
<circle cx="858" cy="663" r="100" fill="none" stroke="#fbe3ea" stroke-width="6.2"/>
</g>
<text x="389" y="1274.9" font-size="12.5" fill="#fbfbf3" text-anchor="middle" font-weight="normal" >00</text>
<text x="455.6" y="1274.9" font-size="12.5" fill="#fbfbf3" text-anchor="middle" font-weight="normal" >11</text>
<text x="409.3" y="1301" font-size="12.5" fill="#fbfbf3" text-anchor="middle" font-weight="normal" >01</text>
<text x="448.7" y="1301" font-size="12.5" fill="#fbfbf3" text-anchor="middle" font-weight="normal" >10</text>
<text x="597.2" y="1273.4" font-size="12.5" fill="#fbfbf3" text-anchor="middle" font-weight="normal" >00</text>
<text x="659.4" y="1273.4" font-size="12.5" fill="#fbfbf3" text-anchor="middle" font-weight="normal" >11</text>
<text x="617.4" y="1299.3" font-size="12.5" fill="#fbfbf3" text-anchor="middle" font-weight="normal" >01</text>
<text x="656.8" y="1299.3" font-size="12.5" fill="#fbfbf3" text-anchor="middle" font-weight="normal" >10</text>
<text x="420.2" y="1222" font-size="14.1" fill="#f6f8ea" text-anchor="middle" font-weight="normal" stroke="#f6f8ea" stroke-width="0.3">Different input signals</text>
<text x="624.6" y="1222" font-size="14.1" fill="#fdeef2" text-anchor="middle" font-weight="normal" stroke="#fdeef2" stroke-width="0.3">Different input signals</text>
</svg>
</body></html>
